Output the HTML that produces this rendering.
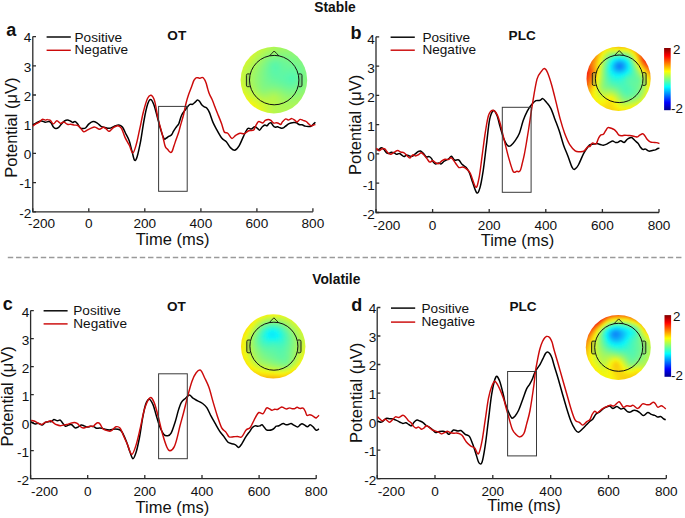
<!DOCTYPE html>
<html><head><meta charset="utf-8"><style>
html,body{margin:0;padding:0;background:#fff;width:685px;height:518px;overflow:hidden}
svg{display:block}
text{font-family:"Liberation Sans", sans-serif}
</style></head><body>
<svg width="685" height="518" viewBox="0 0 685 518">
<defs>
<linearGradient id="jet" x1="0" y1="1" x2="0" y2="0"><stop offset="0" stop-color="#00008f"/><stop offset="0.125" stop-color="#0000ff"/><stop offset="0.375" stop-color="#00ffff"/><stop offset="0.625" stop-color="#ffff00"/><stop offset="0.875" stop-color="#ff0000"/><stop offset="1" stop-color="#800000"/></linearGradient>
<filter id="tblur" x="-10%" y="-10%" width="120%" height="120%"><feGaussianBlur stdDeviation="1.2"/></filter>
<clipPath id="clip_a"><circle cx="273.9" cy="80.1" r="33.3"/></clipPath>
<clipPath id="clip_b"><circle cx="618.6" cy="78.8" r="32.1"/></clipPath>
<clipPath id="clip_c"><circle cx="273.2" cy="346.4" r="32.2"/></clipPath>
<clipPath id="clip_d"><circle cx="618.3" cy="347.4" r="32.5"/></clipPath>
</defs>
<rect width="685" height="518" fill="#fff"/>
<path d="M32.8 36.6 V211.8 H312.9" fill="none" stroke="#2b2b2b" stroke-width="1.3"/>
<path d="M32.8 211.8h3.2M32.8 182.6h3.2M32.8 153.4h3.2M32.8 124.2h3.2M32.8 95.0h3.2M32.8 65.8h3.2M32.8 36.6h3.2M32.8 211.8v-3.6M88.8 211.8v-3.6M144.8 211.8v-3.6M200.9 211.8v-3.6M256.9 211.8v-3.6M312.9 211.8v-3.6" fill="none" stroke="#2b2b2b" stroke-width="1.3"/>
<path d="M376.0 36.8 V212.5 H659.0" fill="none" stroke="#2b2b2b" stroke-width="1.3"/>
<path d="M376.0 212.5h3.2M376.0 183.2h3.2M376.0 153.9h3.2M376.0 124.6h3.2M376.0 95.4h3.2M376.0 66.1h3.2M376.0 36.8h3.2M376.0 212.5v-3.6M432.6 212.5v-3.6M489.2 212.5v-3.6M545.8 212.5v-3.6M602.4 212.5v-3.6M659.0 212.5v-3.6" fill="none" stroke="#2b2b2b" stroke-width="1.3"/>
<path d="M30.6 310.6 V478.7 H316.2" fill="none" stroke="#2b2b2b" stroke-width="1.3"/>
<path d="M30.6 478.7h3.2M30.6 450.7h3.2M30.6 422.7h3.2M30.6 394.6h3.2M30.6 366.6h3.2M30.6 338.6h3.2M30.6 310.6h3.2M30.6 478.7v-3.6M87.7 478.7v-3.6M144.8 478.7v-3.6M202.0 478.7v-3.6M259.1 478.7v-3.6M316.2 478.7v-3.6" fill="none" stroke="#2b2b2b" stroke-width="1.3"/>
<path d="M377.2 307.5 V478.6 H666.3" fill="none" stroke="#2b2b2b" stroke-width="1.3"/>
<path d="M377.2 478.6h3.2M377.2 450.1h3.2M377.2 421.6h3.2M377.2 393.1h3.2M377.2 364.5h3.2M377.2 336.0h3.2M377.2 307.5h3.2M377.2 478.6v-3.6M435.0 478.6v-3.6M492.8 478.6v-3.6M550.7 478.6v-3.6M608.5 478.6v-3.6M666.3 478.6v-3.6" fill="none" stroke="#2b2b2b" stroke-width="1.3"/>
<g fill="#111">
<text x="335.0" y="11.8" font-size="13.8" text-anchor="middle" font-weight="bold">Stable</text>
<text x="336.3" y="284.1" font-size="13.8" text-anchor="middle" font-weight="bold">Volatile</text>
<text x="6.2" y="36.0" font-size="18.0" font-weight="bold">a</text>
<text x="350.6" y="39.0" font-size="18.0" font-weight="bold">b</text>
<text x="2.8" y="310.0" font-size="18.0" font-weight="bold">c</text>
<text x="351.2" y="311.0" font-size="18.0" font-weight="bold">d</text>
<text x="176.8" y="40.0" font-size="13.6" text-anchor="middle" font-weight="bold">OT</text>
<text x="522.2" y="40.0" font-size="13.6" text-anchor="middle" font-weight="bold">PLC</text>
<text x="176.5" y="310.9" font-size="13.6" text-anchor="middle" font-weight="bold">OT</text>
<text x="523.0" y="310.8" font-size="13.6" text-anchor="middle" font-weight="bold">PLC</text>
<text x="74.5" y="41.8" font-size="13.6">Positive</text>
<text x="74.5" y="53.5" font-size="13.6">Negative</text>
<text x="422.4" y="42.0" font-size="13.6">Positive</text>
<text x="422.4" y="54.0" font-size="13.6">Negative</text>
<text x="73.3" y="315.1" font-size="13.6">Positive</text>
<text x="73.3" y="327.9" font-size="13.6">Negative</text>
<text x="421.5" y="313.4" font-size="13.6">Positive</text>
<text x="421.5" y="326.2" font-size="13.6">Negative</text>
<text x="31.4" y="217.5" font-size="13.6" text-anchor="end">-2</text>
<text x="31.4" y="188.3" font-size="13.6" text-anchor="end">-1</text>
<text x="31.4" y="159.1" font-size="13.6" text-anchor="end">0</text>
<text x="31.4" y="129.9" font-size="13.6" text-anchor="end">1</text>
<text x="31.4" y="100.7" font-size="13.6" text-anchor="end">2</text>
<text x="31.4" y="71.5" font-size="13.6" text-anchor="end">3</text>
<text x="31.4" y="42.3" font-size="13.6" text-anchor="end">4</text>
<text x="374.9" y="219.2" font-size="13.6" text-anchor="end">-2</text>
<text x="374.9" y="189.9" font-size="13.6" text-anchor="end">-1</text>
<text x="374.9" y="160.6" font-size="13.6" text-anchor="end">0</text>
<text x="374.9" y="131.3" font-size="13.6" text-anchor="end">1</text>
<text x="374.9" y="102.1" font-size="13.6" text-anchor="end">2</text>
<text x="374.9" y="72.8" font-size="13.6" text-anchor="end">3</text>
<text x="374.9" y="43.5" font-size="13.6" text-anchor="end">4</text>
<text x="29.2" y="484.9" font-size="13.6" text-anchor="end">-2</text>
<text x="29.2" y="456.9" font-size="13.6" text-anchor="end">-1</text>
<text x="29.2" y="428.9" font-size="13.6" text-anchor="end">0</text>
<text x="29.2" y="400.8" font-size="13.6" text-anchor="end">1</text>
<text x="29.2" y="372.8" font-size="13.6" text-anchor="end">2</text>
<text x="29.2" y="344.8" font-size="13.6" text-anchor="end">3</text>
<text x="29.2" y="316.8" font-size="13.6" text-anchor="end">4</text>
<text x="376.3" y="484.5" font-size="13.6" text-anchor="end">-2</text>
<text x="376.3" y="456.0" font-size="13.6" text-anchor="end">-1</text>
<text x="376.3" y="427.5" font-size="13.6" text-anchor="end">0</text>
<text x="376.3" y="398.9" font-size="13.6" text-anchor="end">1</text>
<text x="376.3" y="370.4" font-size="13.6" text-anchor="end">2</text>
<text x="376.3" y="341.9" font-size="13.6" text-anchor="end">3</text>
<text x="376.3" y="313.4" font-size="13.6" text-anchor="end">4</text>
<text x="41.5" y="228.3" font-size="13.6" text-anchor="middle">-200</text>
<text x="88.8" y="228.3" font-size="13.6" text-anchor="middle">0</text>
<text x="144.8" y="228.3" font-size="13.6" text-anchor="middle">200</text>
<text x="200.9" y="228.3" font-size="13.6" text-anchor="middle">400</text>
<text x="256.9" y="228.3" font-size="13.6" text-anchor="middle">600</text>
<text x="312.9" y="228.3" font-size="13.6" text-anchor="middle">800</text>
<text x="386.7" y="229.5" font-size="13.6" text-anchor="middle">-200</text>
<text x="432.6" y="229.5" font-size="13.6" text-anchor="middle">0</text>
<text x="489.2" y="229.5" font-size="13.6" text-anchor="middle">200</text>
<text x="545.8" y="229.5" font-size="13.6" text-anchor="middle">400</text>
<text x="602.4" y="229.5" font-size="13.6" text-anchor="middle">600</text>
<text x="659.0" y="229.5" font-size="13.6" text-anchor="middle">800</text>
<text x="44.5" y="495.5" font-size="13.6" text-anchor="middle">-200</text>
<text x="87.7" y="495.5" font-size="13.6" text-anchor="middle">0</text>
<text x="144.8" y="495.5" font-size="13.6" text-anchor="middle">200</text>
<text x="202.0" y="495.5" font-size="13.6" text-anchor="middle">400</text>
<text x="259.1" y="495.5" font-size="13.6" text-anchor="middle">600</text>
<text x="316.2" y="495.5" font-size="13.6" text-anchor="middle">800</text>
<text x="391.4" y="496.2" font-size="13.6" text-anchor="middle">-200</text>
<text x="435.0" y="496.2" font-size="13.6" text-anchor="middle">0</text>
<text x="492.8" y="496.2" font-size="13.6" text-anchor="middle">200</text>
<text x="550.7" y="496.2" font-size="13.6" text-anchor="middle">400</text>
<text x="608.5" y="496.2" font-size="13.6" text-anchor="middle">600</text>
<text x="666.3" y="496.2" font-size="13.6" text-anchor="middle">800</text>
<text x="172.6" y="245.1" font-size="16.5" text-anchor="middle">Time (ms)</text>
<text x="517.5" y="245.7" font-size="16.5" text-anchor="middle">Time (ms)</text>
<text x="172.4" y="512.6" font-size="16.5" text-anchor="middle">Time (ms)</text>
<text x="524.0" y="511.0" font-size="16.5" text-anchor="middle">Time (ms)</text>
<text transform="translate(16.6 177.8) rotate(-90)" font-size="16.5">Potential (&#956;V)</text>
<text transform="translate(361.3 175.0) rotate(-90)" font-size="16.5">Potential (&#956;V)</text>
<text transform="translate(13.4 446.6) rotate(-90)" font-size="16.5">Potential (&#956;V)</text>
<text transform="translate(361.8 443.0) rotate(-90)" font-size="16.5">Potential (&#956;V)</text>
<text x="672.9" y="54.3" font-size="13.4">2</text>
<text x="671.0" y="112.5" font-size="13.4">-2</text>
<text x="672.9" y="321.2" font-size="13.4">2</text>
<text x="671.0" y="379.5" font-size="13.4">-2</text>
</g>
<path d="M32.9 125.1C33.6 124.6 35.5 123.1 37.0 122.4C38.5 121.7 40.3 121.0 41.7 121.0C43.1 121.0 44.0 122.1 45.2 122.2C46.4 122.3 47.7 121.5 48.7 121.6C49.7 121.7 50.2 121.9 51.0 122.8C51.8 123.7 52.6 126.0 53.4 126.9C54.2 127.8 54.8 128.3 55.7 128.4C56.6 128.5 57.6 128.2 58.6 127.4C59.6 126.7 60.5 125.0 61.5 123.9C62.5 122.8 63.5 121.6 64.5 121.0C65.5 120.4 66.4 120.1 67.4 120.1C68.4 120.1 69.4 120.6 70.3 121.0C71.2 121.4 71.8 122.3 72.6 122.4C73.4 122.5 74.2 121.4 75.0 121.6C75.8 121.8 76.4 122.4 77.3 123.4C78.2 124.4 79.3 126.9 80.2 127.8C81.1 128.7 81.7 128.6 82.6 128.6C83.5 128.6 84.4 128.8 85.5 128.0C86.6 127.2 87.7 125.0 89.0 123.9C90.3 122.8 91.7 121.7 93.1 121.6C94.5 121.5 95.8 122.3 97.2 123.1C98.6 123.9 100.0 125.6 101.2 126.3C102.5 127.0 103.4 127.1 104.7 127.4C106.0 127.7 107.8 128.4 109.3 128.3C110.8 128.2 112.1 127.2 113.7 126.6C115.3 126.0 117.5 124.8 118.9 124.9C120.4 125.0 121.2 125.5 122.4 127.0C123.6 128.5 124.8 131.6 125.9 133.9C127.1 136.2 128.3 138.0 129.3 140.9C130.3 143.8 131.1 148.1 132.0 151.3C132.9 154.5 133.7 159.4 134.6 160.3C135.5 161.2 136.2 159.7 137.2 156.5C138.2 153.3 139.5 147.0 140.7 140.9C141.8 134.8 142.9 126.1 144.1 120.0C145.2 113.9 146.5 107.7 147.6 104.3C148.7 100.9 149.6 99.5 150.6 99.5C151.6 99.5 152.6 101.5 153.7 104.3C154.8 107.1 156.0 112.3 157.2 116.5C158.4 120.7 159.5 125.9 160.7 129.6C161.8 133.3 163.1 137.2 164.1 138.6C165.1 140.0 165.6 138.4 166.4 138.0C167.2 137.6 168.0 136.7 168.7 136.3C169.4 135.9 170.0 136.0 170.5 135.7C171.0 135.4 171.4 135.0 171.9 134.3C172.4 133.6 172.8 132.5 173.4 131.4C174.0 130.3 175.0 128.9 175.7 127.9C176.4 126.9 176.9 126.3 177.4 125.6C177.9 124.9 178.2 125.3 178.9 123.5C179.6 121.7 180.6 117.2 181.7 115.0C182.8 112.8 184.2 111.4 185.2 110.0C186.2 108.6 187.0 107.5 187.8 106.5C188.6 105.5 189.2 104.7 190.0 104.3C190.8 103.9 191.7 104.7 192.6 104.3C193.5 103.9 194.4 102.8 195.2 102.1C196.0 101.4 196.7 100.1 197.4 100.0C198.1 99.9 198.8 100.5 199.5 101.3C200.2 102.1 200.9 103.9 201.7 104.8C202.5 105.7 203.4 106.3 204.3 106.9C205.2 107.5 206.0 107.2 206.9 108.2C207.8 109.2 208.5 110.2 209.5 112.6C210.5 115.0 211.8 119.6 213.0 122.4C214.2 125.2 215.1 126.7 216.5 129.3C217.9 131.9 220.1 136.0 221.7 138.0C223.3 140.0 224.6 139.9 226.1 141.5C227.6 143.1 228.9 146.2 230.4 147.6C231.9 149.0 233.4 150.5 234.8 150.2C236.2 149.9 237.7 148.2 239.1 145.9C240.5 143.6 242.1 139.2 243.5 136.3C244.9 133.4 246.5 129.7 247.8 128.5C249.1 127.3 250.1 129.3 251.3 129.0C252.5 128.7 253.7 126.8 254.8 126.7C255.9 126.6 256.9 128.0 257.7 128.6C258.5 129.2 258.9 130.4 259.7 130.1C260.5 129.8 261.4 127.6 262.3 126.8C263.2 126.0 264.0 125.2 264.8 125.0C265.6 124.8 266.2 126.0 266.9 125.8C267.6 125.6 268.2 124.2 268.9 123.7C269.6 123.2 270.2 122.4 270.9 122.7C271.6 123.0 272.3 124.8 273.0 125.5C273.7 126.2 274.2 126.9 275.0 127.1C275.8 127.3 276.8 126.7 277.6 126.8C278.5 126.9 279.2 127.6 280.1 127.8C281.0 128.0 281.8 128.3 282.7 128.1C283.6 127.9 284.4 127.0 285.3 126.4C286.2 125.8 286.9 124.9 287.8 124.3C288.7 123.7 289.9 123.3 290.9 123.0C291.9 122.7 293.0 122.5 293.9 122.5C294.8 122.5 295.6 122.4 296.5 122.7C297.4 123.0 298.1 124.2 299.0 124.5C299.9 124.8 301.1 124.5 302.1 124.8C303.1 125.1 304.2 125.8 305.2 126.1C306.2 126.4 307.3 126.4 308.2 126.4C309.1 126.5 309.9 126.8 310.8 126.4C311.7 126.0 312.6 124.7 313.4 124.0C314.2 123.3 315.1 122.6 315.4 122.3" fill="none" stroke="#000" stroke-width="1.5" stroke-linejoin="round"/>
<path d="M32.9 125.9C33.4 125.6 34.7 124.5 35.8 123.9C36.9 123.3 38.2 123.0 39.3 122.2C40.4 121.4 41.3 119.7 42.3 119.3C43.3 118.9 44.3 120.0 45.2 120.1C46.1 120.1 46.6 119.5 47.5 119.6C48.4 119.6 49.4 119.7 50.4 120.4C51.4 121.1 52.3 123.8 53.4 123.9C54.5 124.0 55.7 120.9 56.9 120.8C58.1 120.7 59.2 123.2 60.4 123.4C61.6 123.6 62.7 121.8 63.9 122.0C65.1 122.2 66.2 123.9 67.4 124.3C68.6 124.7 69.7 124.2 70.9 124.3C72.1 124.4 73.2 124.9 74.4 125.1C75.6 125.3 76.7 124.8 77.9 125.5C79.1 126.2 80.4 128.1 81.4 129.2C82.4 130.2 82.7 131.7 83.7 131.8C84.7 132.0 86.0 130.7 87.2 130.1C88.4 129.5 89.4 128.9 90.7 128.4C92.0 127.9 93.3 127.0 94.8 127.1C96.3 127.2 98.0 129.2 99.5 129.2C101.0 129.2 102.3 127.1 103.6 127.2C104.9 127.3 106.1 129.1 107.1 129.8C108.0 130.5 108.2 131.7 109.3 131.3C110.4 130.9 112.2 128.2 113.7 127.3C115.2 126.4 116.7 125.5 118.0 125.7C119.3 125.9 120.3 126.4 121.5 128.3C122.7 130.2 123.7 134.6 125.0 137.4C126.3 140.2 128.0 142.6 129.3 145.2C130.6 147.8 131.6 153.2 132.8 153.0C134.0 152.8 135.1 148.4 136.3 144.3C137.5 140.2 138.6 134.0 139.8 128.7C141.0 123.3 142.0 117.3 143.3 112.2C144.6 107.1 146.3 101.1 147.6 98.3C148.9 95.5 149.9 94.9 151.1 95.3C152.3 95.7 153.4 97.1 154.6 100.9C155.8 104.7 156.8 113.0 158.0 118.3C159.2 123.6 160.9 129.0 161.8 132.5C162.7 136.0 163.0 137.5 163.5 139.5C164.0 141.5 164.3 143.3 164.7 144.7C165.1 146.0 165.3 146.8 165.8 147.6C166.3 148.4 167.0 148.6 167.6 149.3C168.2 150.0 168.8 151.1 169.3 151.6C169.8 152.1 170.3 152.6 170.8 152.5C171.3 152.4 171.7 152.2 172.2 151.1C172.7 150.0 173.3 147.8 174.0 145.8C174.7 143.8 175.5 141.1 176.3 138.9C177.1 136.7 177.9 134.6 178.6 132.5C179.3 130.4 179.5 129.1 180.3 126.2C181.1 123.3 182.5 118.9 183.5 115.0C184.5 111.1 185.2 106.5 186.1 103.0C187.0 99.5 187.8 96.9 188.7 94.3C189.6 91.7 190.4 89.7 191.3 87.4C192.2 85.1 193.1 82.0 193.9 80.4C194.7 78.8 195.4 78.2 196.1 77.8C196.8 77.4 197.5 77.7 198.2 77.8C198.8 77.9 199.3 78.4 200.0 78.3C200.7 78.2 201.5 77.3 202.2 77.4C202.9 77.5 203.7 78.2 204.3 79.1C205.0 80.0 205.5 81.3 206.1 83.0C206.7 84.7 207.2 87.2 207.8 89.1C208.4 91.0 208.8 92.6 209.5 94.3C210.2 96.0 211.2 97.5 212.1 99.5C213.0 101.5 213.8 103.8 214.8 106.5C215.8 109.2 217.2 112.5 218.3 115.4C219.5 118.3 220.7 121.3 221.7 124.1C222.7 126.9 223.3 130.5 224.3 132.0C225.3 133.5 226.6 132.1 227.8 133.2C229.1 134.3 230.5 138.0 231.8 138.4C233.1 138.8 234.3 136.2 235.7 135.4C237.1 134.6 238.6 133.6 240.0 133.3C241.4 133.0 242.9 134.1 244.3 133.7C245.8 133.3 247.1 131.3 248.7 130.7C250.2 130.1 252.4 130.9 253.6 130.1C254.8 129.3 254.8 127.5 255.6 126.1C256.4 124.7 257.4 122.4 258.2 121.7C259.0 121.0 259.4 121.8 260.2 122.0C261.0 122.2 261.9 123.3 262.8 123.0C263.7 122.7 264.4 121.0 265.3 120.4C266.2 119.8 267.5 119.4 268.4 119.4C269.3 119.4 270.0 119.8 270.9 120.4C271.8 121.0 272.6 122.6 273.5 123.0C274.4 123.4 275.8 122.7 276.6 122.7C277.5 122.8 277.9 123.0 278.6 123.3C279.3 123.6 280.0 124.8 280.7 124.5C281.4 124.2 281.8 122.4 282.7 121.5C283.6 120.6 284.9 119.2 285.8 118.9C286.7 118.6 287.3 120.0 288.3 119.9C289.3 119.9 290.8 118.5 291.9 118.6C293.0 118.7 294.1 119.8 295.0 120.4C295.9 121.0 296.1 122.2 297.0 122.0C297.9 121.8 299.1 119.7 300.1 119.4C301.1 119.1 302.1 120.1 303.1 120.4C304.1 120.8 305.2 120.9 306.2 121.5C307.1 122.1 307.9 123.2 308.8 124.0C309.7 124.8 310.5 125.9 311.3 126.1C312.1 126.3 312.7 125.3 313.4 125.0C314.1 124.7 315.1 124.6 315.4 124.5" fill="none" stroke="#cc0a0a" stroke-width="1.45" stroke-linejoin="round"/>
<path d="M376.7 149.9C377.1 149.8 378.2 149.7 379.0 149.3C379.8 149.0 380.5 147.8 381.3 147.8C382.1 147.8 382.8 148.5 383.7 149.3C384.6 150.1 385.7 152.1 386.6 152.8C387.5 153.5 388.1 153.5 388.9 153.4C389.7 153.3 390.4 152.3 391.3 152.2C392.2 152.1 393.3 152.5 394.2 152.8C395.1 153.2 395.6 154.2 396.5 154.3C397.4 154.4 398.5 153.3 399.4 153.4C400.3 153.5 401.0 154.6 401.8 155.1C402.6 155.6 403.3 156.6 404.1 156.6C404.9 156.6 405.6 155.2 406.5 155.1C407.4 155.0 408.4 155.7 409.4 155.9C410.4 156.1 411.3 156.6 412.3 156.3C413.3 156.0 414.2 154.7 415.2 153.9C416.2 153.1 417.2 152.1 418.1 151.6C419.0 151.1 419.6 150.7 420.5 151.0C421.4 151.3 422.4 152.4 423.4 153.4C424.4 154.4 425.3 156.4 426.3 156.9C427.3 157.4 428.3 156.3 429.2 156.6C430.1 156.9 430.9 157.7 431.6 158.6C432.3 159.5 432.6 161.2 433.3 162.1C434.0 163.0 434.7 163.8 435.6 163.9C436.5 164.0 437.7 162.9 438.6 162.9C439.5 162.9 440.0 164.3 440.9 164.1C441.8 163.9 442.8 162.2 443.8 161.5C444.8 160.8 445.8 160.3 446.7 159.8C447.6 159.3 448.3 159.2 449.1 158.6C449.9 158.0 450.5 156.0 451.4 156.2C452.3 156.4 453.3 159.4 454.5 160.0C455.7 160.6 457.6 159.3 458.8 160.0C460.1 160.7 460.8 163.1 462.0 164.3C463.2 165.6 465.0 166.1 466.2 167.5C467.4 168.9 468.3 170.3 469.4 172.8C470.5 175.3 471.4 179.0 472.6 182.3C473.8 185.7 475.6 192.0 476.8 192.9C478.0 193.8 478.9 191.3 480.0 187.6C481.1 183.9 482.1 177.7 483.2 170.6C484.3 163.5 485.3 153.7 486.4 145.2C487.5 136.7 488.4 125.5 489.6 119.7C490.8 113.9 492.2 111.3 493.4 110.6C494.6 109.9 495.9 112.8 497.0 115.5C498.1 118.2 499.1 123.4 500.2 127.1C501.3 130.8 502.2 134.6 503.4 137.7C504.6 140.8 506.4 144.3 507.6 145.6C508.8 146.9 509.6 146.4 510.8 145.6C512.0 144.8 513.6 142.9 515.0 140.9C516.4 138.9 517.9 136.9 519.3 133.5C520.7 130.1 521.9 124.3 523.2 120.5C524.6 116.7 526.0 113.6 527.4 110.9C528.8 108.2 530.3 106.3 531.7 104.6C533.1 102.9 534.5 101.4 535.9 100.7C537.3 100.0 539.0 100.7 540.2 100.3C541.4 99.9 541.9 98.2 542.9 98.6C543.9 98.9 545.2 100.8 546.5 102.4C547.8 104.0 549.4 105.6 550.8 108.4C552.2 111.2 553.6 115.6 555.0 119.4C556.4 123.2 557.9 126.8 559.3 131.1C560.7 135.3 562.1 140.8 563.5 144.9C564.9 149.0 566.3 151.8 567.7 155.5C569.1 159.2 570.8 164.9 572.0 167.2C573.2 169.5 573.6 169.7 574.7 169.3C575.8 168.9 576.9 167.7 578.4 165.0C579.9 162.3 582.1 156.4 583.7 153.4C585.3 150.4 586.9 148.4 587.9 147.0C588.9 145.6 589.1 145.2 590.0 144.7C590.9 144.2 592.4 144.3 593.5 144.1C594.6 143.9 595.8 143.5 596.9 143.6C598.0 143.7 599.3 144.2 600.4 144.5C601.5 144.8 602.2 145.4 603.3 145.3C604.4 145.2 605.7 144.6 606.8 144.1C607.9 143.6 608.7 142.9 609.7 142.4C610.7 141.9 611.6 141.0 612.6 141.0C613.6 141.0 614.6 142.2 615.5 142.4C616.4 142.6 616.9 142.7 617.8 142.4C618.7 142.1 619.7 140.7 620.7 140.7C621.8 140.7 623.1 142.8 624.1 142.6C625.1 142.4 626.1 140.3 627.0 139.5C627.9 138.7 628.6 138.3 629.4 138.0C630.2 137.7 630.8 137.1 631.7 137.5C632.6 137.9 633.6 139.3 634.6 140.3C635.6 141.3 637.0 142.2 638.0 143.3C639.0 144.4 639.5 146.0 640.3 147.0C641.1 148.0 641.8 149.1 642.7 149.4C643.6 149.8 644.6 148.8 645.6 149.1C646.6 149.4 647.9 150.9 649.0 151.1C650.1 151.3 651.4 150.7 652.5 150.5C653.6 150.3 654.5 150.2 655.4 149.9C656.3 149.6 657.0 148.8 657.7 148.5C658.4 148.2 659.1 148.2 659.4 148.2" fill="none" stroke="#000" stroke-width="1.5" stroke-linejoin="round"/>
<path d="M376.4 148.1C376.8 148.6 378.1 150.7 379.0 150.8C379.9 150.9 380.9 149.2 381.9 148.9C382.9 148.6 383.8 148.2 384.8 148.9C385.8 149.6 386.8 151.9 387.8 152.8C388.8 153.7 389.6 154.4 390.7 154.3C391.8 154.2 393.0 152.8 394.2 152.2C395.4 151.5 396.6 150.4 397.7 150.4C398.8 150.4 399.5 151.6 400.6 152.0C401.7 152.4 403.0 152.2 404.1 152.8C405.2 153.4 406.0 154.8 407.0 155.7C408.0 156.6 409.0 158.2 410.0 158.0C411.0 157.8 411.9 155.2 412.9 154.8C413.9 154.5 414.8 156.0 415.8 155.9C416.8 155.8 417.8 155.0 418.7 154.5C419.6 154.0 420.2 152.7 421.1 152.8C422.0 152.9 423.0 154.1 424.0 155.1C425.0 156.1 425.9 157.4 426.9 158.6C427.9 159.8 428.8 161.8 429.8 162.1C430.8 162.4 431.7 160.5 432.7 160.6C433.7 160.7 434.6 162.2 435.6 162.7C436.6 163.2 437.5 163.9 438.6 163.6C439.7 163.2 441.0 161.3 442.1 160.6C443.2 159.9 444.0 159.4 445.0 159.2C446.0 159.0 447.1 159.8 448.2 159.6C449.3 159.4 450.2 157.3 451.4 157.9C452.6 158.5 454.4 161.6 455.6 163.2C456.8 164.8 457.6 166.9 458.8 167.5C460.0 168.1 461.6 166.7 463.0 167.0C464.4 167.3 466.1 168.5 467.3 169.6C468.6 170.7 469.1 170.9 470.5 173.8C471.9 176.7 474.4 186.5 475.8 187.2C477.2 187.9 477.9 183.3 479.0 178.1C480.1 172.9 481.1 163.4 482.1 155.8C483.2 148.2 484.2 139.1 485.3 132.4C486.4 125.7 487.3 119.2 488.5 115.5C489.7 111.8 491.3 110.4 492.7 110.2C494.1 110.0 495.7 111.9 497.0 114.4C498.3 116.9 499.4 120.6 500.6 125.0C501.8 129.4 503.0 135.4 504.4 140.9C505.8 146.4 507.3 153.0 508.7 157.9C510.1 162.8 511.7 168.2 512.7 170.6C513.7 173.0 513.8 172.1 514.5 172.2C515.2 172.3 516.0 171.4 516.8 171.3C517.6 171.2 518.5 171.9 519.1 171.6C519.7 171.3 520.1 170.9 520.6 169.7C521.1 168.5 521.4 167.0 522.0 164.5C522.6 162.0 523.6 158.1 524.3 154.6C525.0 151.1 525.6 147.6 526.3 143.5C527.0 139.4 527.4 136.8 528.5 130.0C529.6 123.2 531.3 110.9 532.7 102.4C534.1 93.9 535.6 84.2 537.0 79.1C538.4 74.0 540.0 73.5 541.2 71.7C542.4 69.9 543.3 68.3 544.4 68.5C545.5 68.7 546.4 69.9 547.6 72.7C548.8 75.5 550.4 80.5 551.8 85.5C553.2 90.5 554.7 96.8 556.1 102.4C557.5 108.1 558.9 114.3 560.3 119.4C561.7 124.5 563.0 128.9 564.6 133.2C566.2 137.4 568.1 142.0 569.9 144.9C571.7 147.8 573.6 149.7 575.2 150.8C576.8 151.9 578.0 151.6 579.4 151.7C580.8 151.8 582.3 152.0 583.7 151.2C585.1 150.3 586.9 147.4 587.9 146.6C588.9 145.8 589.3 147.1 590.0 146.5C590.7 145.9 591.5 143.5 592.3 143.0C593.1 142.5 593.9 143.5 594.6 143.6C595.3 143.7 595.7 144.6 596.4 143.6C597.1 142.6 597.9 139.2 598.7 137.8C599.5 136.4 600.2 135.5 601.0 134.9C601.8 134.3 602.5 135.0 603.3 134.3C604.1 133.6 604.8 131.9 605.6 130.8C606.4 129.7 606.9 128.0 607.9 127.6C608.9 127.2 610.3 128.0 611.4 128.3C612.5 128.7 613.4 129.1 614.3 129.7C615.2 130.3 615.8 131.1 616.6 132.0C617.4 132.9 618.0 134.6 618.9 135.2C619.8 135.8 620.8 135.7 621.8 135.7C622.8 135.7 623.6 135.2 624.7 135.2C625.8 135.2 627.0 135.4 628.2 135.5C629.4 135.6 630.6 135.5 631.7 135.7C632.9 135.9 634.1 136.4 635.1 136.6C636.1 136.8 636.7 137.1 637.5 136.9C638.3 136.7 638.9 135.7 639.8 135.2C640.7 134.7 641.8 133.6 642.7 133.7C643.6 133.8 644.2 135.0 645.0 136.0C645.8 137.0 646.4 138.5 647.3 139.5C648.2 140.5 649.2 141.3 650.2 141.8C651.2 142.3 652.0 142.3 653.1 142.4C654.2 142.5 655.6 142.4 656.6 142.6C657.6 142.8 658.9 143.4 659.4 143.6" fill="none" stroke="#cc0a0a" stroke-width="1.45" stroke-linejoin="round"/>
<path d="M31.1 421.6C31.5 421.9 32.6 423.0 33.4 423.4C34.2 423.8 34.9 423.9 35.8 423.9C36.7 423.9 37.6 423.2 38.7 423.4C39.8 423.6 41.0 425.3 42.2 425.1C43.4 424.9 44.5 422.8 45.7 422.2C46.9 421.6 48.2 421.7 49.2 421.6C50.2 421.5 50.7 421.9 51.5 421.6C52.3 421.3 52.9 419.7 53.9 419.6C54.9 419.5 56.3 420.7 57.4 420.8C58.5 420.9 59.4 419.7 60.3 420.1C61.2 420.5 61.7 422.1 62.6 423.1C63.5 424.1 64.5 426.0 65.5 426.3C66.5 426.6 67.5 425.4 68.5 425.1C69.5 424.8 70.3 424.1 71.4 424.5C72.5 424.9 73.7 427.4 74.9 427.8C76.1 428.2 77.3 427.3 78.4 426.9C79.5 426.4 80.3 425.3 81.3 425.1C82.3 424.9 83.2 425.6 84.2 425.9C85.2 426.2 86.0 427.0 87.1 427.1C88.2 427.2 89.6 426.4 90.7 426.3C91.8 426.2 92.6 426.3 93.6 426.6C94.6 426.9 95.5 428.1 96.5 428.3C97.5 428.5 98.4 428.0 99.4 428.0C100.4 428.0 101.5 428.1 102.3 428.3C103.1 428.5 103.0 428.7 104.2 429.0C105.4 429.3 107.7 430.0 109.5 430.0C111.3 430.0 113.1 429.0 114.9 429.0C116.7 429.0 118.8 429.1 120.2 430.0C121.6 430.9 122.2 432.4 123.3 434.3C124.3 436.2 125.4 438.9 126.5 441.7C127.6 444.5 128.6 448.4 129.7 451.2C130.8 454.0 131.8 458.5 132.9 458.7C134.0 458.9 135.0 455.7 136.1 452.3C137.2 448.9 138.2 444.0 139.3 438.5C140.4 433.0 141.4 425.0 142.4 419.4C143.4 413.8 144.5 408.0 145.6 404.6C146.7 401.2 148.0 399.3 149.2 399.3C150.4 399.3 151.8 402.0 153.0 404.6C154.2 407.2 155.1 411.7 156.2 415.2C157.3 418.7 158.2 422.6 159.4 425.8C160.7 429.0 162.3 432.6 163.7 434.3C165.0 436.0 166.3 436.0 167.5 435.8C168.7 435.6 169.8 435.6 171.1 433.2C172.4 430.8 174.1 425.2 175.3 421.5C176.5 417.8 177.2 414.1 178.2 410.9C179.2 407.7 180.2 404.5 181.4 402.4C182.6 400.3 184.3 399.4 185.6 398.2C186.9 397.0 188.2 395.0 189.4 395.0C190.6 395.0 191.7 397.2 193.0 398.2C194.3 399.1 195.7 399.8 197.3 400.7C198.9 401.6 201.0 402.3 202.6 403.5C204.2 404.7 205.4 405.6 206.8 407.7C208.2 409.8 209.7 413.5 211.1 416.2C212.5 418.9 213.9 421.2 215.3 423.7C216.7 426.2 218.2 429.0 219.6 431.1C221.0 433.2 222.4 434.5 223.8 436.4C225.2 438.3 226.6 441.1 228.0 442.3C229.4 443.5 231.1 443.4 232.3 443.8C233.6 444.2 234.4 444.3 235.5 444.9C236.6 445.5 237.6 447.6 238.7 447.4C239.8 447.2 240.6 445.6 241.8 443.8C243.0 442.0 244.7 438.5 246.1 436.4C247.5 434.3 249.0 432.5 250.0 431.1C251.0 429.7 251.4 428.7 252.2 427.8C253.0 426.9 254.0 426.2 254.9 425.9C255.8 425.6 256.9 426.2 257.7 426.2C258.5 426.2 259.2 426.1 259.9 425.9C260.6 425.7 261.3 424.6 262.0 424.8C262.7 425.0 263.5 426.5 264.2 427.3C264.9 428.1 265.6 429.3 266.4 429.8C267.2 430.3 268.3 430.3 269.2 430.3C270.1 430.3 271.1 430.1 271.9 429.8C272.7 429.5 273.4 429.0 274.1 428.4C274.8 427.8 275.5 426.6 276.3 426.2C277.1 425.8 278.2 426.0 279.0 425.7C279.8 425.4 280.5 424.7 281.2 424.3C281.9 423.9 282.6 423.4 283.4 423.5C284.2 423.6 285.2 424.7 286.1 424.8C287.0 424.9 288.1 424.5 288.9 424.3C289.7 424.1 290.3 423.4 291.1 423.5C291.9 423.6 292.7 424.5 293.8 425.1C294.9 425.7 296.6 427.0 297.6 427.0C298.6 427.0 299.1 425.7 299.8 425.1C300.5 424.6 301.2 423.7 302.0 423.7C302.8 423.7 303.8 424.6 304.7 425.1C305.6 425.6 306.6 426.9 307.5 426.8C308.4 426.8 309.3 424.8 310.2 424.8C311.1 424.8 312.0 425.9 313.0 426.8C314.0 427.7 315.2 430.0 316.2 430.3C317.2 430.6 318.5 429.1 319.0 428.9" fill="none" stroke="#000" stroke-width="1.5" stroke-linejoin="round"/>
<path d="M31.1 420.4C31.6 420.5 32.9 420.6 34.0 421.0C35.1 421.4 36.2 422.2 37.5 422.8C38.8 423.4 40.3 424.6 41.6 424.5C42.9 424.4 44.0 422.9 45.1 422.4C46.2 421.9 47.0 421.9 48.0 421.6C49.0 421.3 49.9 420.6 50.9 420.8C51.9 421.1 52.9 422.4 53.9 423.1C54.9 423.8 55.7 424.4 56.8 424.8C57.9 425.2 59.2 425.6 60.3 425.7C61.4 425.8 62.1 425.3 63.2 425.1C64.3 424.9 65.5 424.8 66.7 424.5C67.9 424.2 68.9 423.8 70.2 423.4C71.5 423.0 73.1 422.4 74.3 422.4C75.5 422.4 76.2 422.8 77.2 423.4C78.2 424.0 79.1 425.5 80.1 426.3C81.1 427.1 82.0 427.9 83.1 428.0C84.2 428.1 85.4 427.4 86.6 427.1C87.8 426.8 89.0 426.4 90.1 426.3C91.2 426.2 92.1 426.6 93.0 426.3C93.9 426.0 94.5 424.9 95.3 424.3C96.1 423.7 96.9 422.9 97.7 422.8C98.5 422.7 99.2 423.0 100.0 423.9C100.8 424.8 101.5 427.0 102.3 428.0C103.1 429.0 103.3 429.3 104.7 429.8C106.1 430.3 108.7 431.6 110.6 431.1C112.5 430.6 114.3 427.3 115.9 426.8C117.5 426.3 119.0 426.9 120.2 428.3C121.4 429.7 122.1 432.5 123.3 435.3C124.5 438.1 126.2 441.7 127.6 444.9C129.0 448.1 130.4 454.4 131.8 454.4C133.2 454.4 134.7 449.3 136.1 444.9C137.5 440.5 138.9 433.9 140.3 427.9C141.7 421.9 143.0 413.8 144.6 408.8C146.2 403.8 148.3 398.9 149.9 397.8C151.5 396.7 152.7 399.1 154.1 402.4C155.5 405.6 157.0 412.0 158.4 417.3C159.8 422.6 161.2 429.4 162.6 434.3C164.0 439.2 165.6 444.2 166.8 447.0C168.0 449.8 168.8 450.9 170.0 450.8C171.2 450.7 173.1 449.0 174.3 446.6C175.6 444.2 176.6 439.9 177.5 436.4C178.4 432.9 179.0 429.7 180.0 425.8C181.0 421.9 182.2 417.9 183.5 413.0C184.8 408.1 186.3 401.4 187.7 396.1C189.1 390.8 190.6 385.1 192.0 381.2C193.4 377.3 194.8 374.5 196.2 372.7C197.6 370.9 199.1 369.3 200.5 370.2C201.9 371.1 203.3 375.1 204.7 378.0C206.1 380.9 207.6 383.5 209.0 387.6C210.4 391.7 211.8 397.6 213.2 402.4C214.6 407.2 216.0 411.9 217.4 416.2C218.8 420.4 220.3 425.2 221.7 427.9C223.1 430.5 224.7 430.6 225.9 432.1C227.1 433.6 227.8 436.0 229.1 436.8C230.3 437.6 232.0 436.9 233.4 436.8C234.8 436.7 236.2 436.4 237.6 436.4C239.0 436.4 240.4 437.9 241.8 436.8C243.2 435.7 244.7 431.5 246.1 430.0C247.5 428.5 248.9 429.0 250.0 427.8C251.1 426.6 251.8 424.6 252.7 422.9C253.6 421.2 254.5 419.1 255.5 417.4C256.5 415.7 257.5 413.1 258.8 412.5C260.1 411.9 261.8 414.3 263.1 413.6C264.4 412.9 265.4 408.9 266.4 408.1C267.4 407.3 268.3 408.3 269.2 408.7C270.1 409.1 271.0 410.2 271.9 410.3C272.8 410.4 273.7 409.3 274.6 409.2C275.5 409.1 276.6 409.7 277.4 409.5C278.2 409.3 278.9 408.5 279.6 408.1C280.3 407.7 281.1 407.0 281.8 407.0C282.5 407.0 283.1 407.6 283.9 407.9C284.7 408.2 285.8 409.0 286.7 409.0C287.6 409.0 288.5 407.9 289.4 407.9C290.3 407.8 291.4 408.6 292.2 408.7C293.0 408.8 293.5 408.9 294.3 408.7C295.1 408.5 296.2 407.4 297.1 407.3C298.0 407.2 298.8 408.3 299.8 408.4C300.8 408.5 302.2 407.6 303.1 408.1C304.0 408.6 304.7 410.2 305.3 411.4C305.9 412.6 306.2 414.8 306.9 415.3C307.6 415.9 308.9 414.7 309.7 414.7C310.5 414.7 311.2 414.9 311.9 415.3C312.6 415.7 313.4 416.4 314.1 416.9C314.8 417.3 315.4 418.3 316.2 418.0C317.0 417.7 318.5 415.8 319.0 415.3" fill="none" stroke="#cc0a0a" stroke-width="1.45" stroke-linejoin="round"/>
<path d="M377.6 421.0C378.0 421.2 379.4 422.1 380.2 422.2C381.0 422.3 381.5 422.2 382.5 421.6C383.5 421.0 384.8 419.0 386.0 418.5C387.2 418.0 388.3 418.6 389.5 418.7C390.7 418.8 391.8 418.6 393.0 418.9C394.2 419.2 395.3 419.8 396.5 420.4C397.7 420.9 398.9 421.7 400.0 422.2C401.1 422.7 401.9 423.3 402.9 423.4C403.9 423.5 404.9 422.6 405.9 422.8C406.9 423.0 407.8 424.0 408.8 424.5C409.8 425.0 410.8 426.1 411.7 425.7C412.6 425.3 413.1 423.1 414.0 422.2C414.9 421.3 416.0 420.3 417.0 420.1C418.0 419.9 418.8 420.6 419.9 421.0C421.0 421.4 422.4 422.1 423.4 422.8C424.4 423.5 424.7 424.4 425.7 425.1C426.7 425.8 428.0 426.3 429.2 427.1C430.4 427.9 431.6 428.9 432.7 429.8C433.8 430.7 434.5 432.2 435.6 432.5C436.7 432.8 437.9 431.7 439.2 431.5C440.5 431.3 441.9 431.1 443.2 431.3C444.4 431.5 445.7 432.0 446.7 432.5C447.7 433.0 448.1 434.7 449.2 434.3C450.3 433.9 452.1 430.5 453.5 430.0C454.9 429.5 456.5 431.0 457.7 431.1C458.9 431.2 459.6 430.0 460.9 430.5C462.1 431.0 463.8 433.3 465.2 434.3C466.6 435.3 468.2 434.8 469.4 436.4C470.6 438.0 471.5 441.0 472.6 443.8C473.7 446.6 474.7 450.2 475.8 453.4C476.9 456.6 477.9 461.5 479.0 462.9C480.1 464.3 481.1 464.9 482.1 461.9C483.2 458.9 484.2 452.0 485.3 444.9C486.4 437.8 487.4 427.9 488.5 419.4C489.6 410.9 490.5 401.1 491.7 394.0C492.9 386.9 494.6 379.1 495.9 377.0C497.2 374.9 498.4 378.2 499.7 381.2C500.9 384.2 502.5 391.5 503.4 395.0C504.3 398.5 504.2 399.6 505.0 402.4C505.8 405.2 507.3 409.3 508.4 411.9C509.5 414.5 510.7 417.3 511.8 418.0C512.9 418.7 514.0 417.1 515.1 415.9C516.2 414.6 517.2 413.2 518.5 410.5C519.8 407.8 521.2 403.3 522.6 399.7C524.0 396.1 525.4 391.4 526.6 388.9C527.8 386.3 528.6 386.2 529.6 384.4C530.6 382.6 531.8 380.3 532.7 378.2C533.6 376.1 534.2 373.7 535.0 372.0C535.8 370.3 536.5 369.5 537.4 368.2C538.2 366.9 539.2 365.9 540.1 364.3C541.0 362.8 541.9 360.7 542.8 358.9C543.7 357.1 544.7 354.6 545.5 353.5C546.3 352.4 546.7 352.0 547.4 352.0C548.1 352.0 548.9 352.5 549.7 353.5C550.5 354.5 551.3 356.1 552.0 358.0C552.7 359.9 553.0 361.5 554.0 365.0C555.0 368.5 556.8 374.0 558.2 378.8C559.6 383.6 561.0 388.8 562.4 393.7C563.8 398.6 565.3 403.9 566.7 408.5C568.1 413.1 569.5 417.7 570.9 421.2C572.3 424.7 574.0 427.8 575.2 429.7C576.5 431.6 577.2 432.5 578.4 432.3C579.6 432.1 581.2 430.0 582.6 428.7C584.0 427.4 585.6 425.6 586.8 424.4C588.0 423.1 589.0 422.1 590.0 421.2C591.0 420.3 591.9 420.1 592.9 418.9C593.9 417.7 594.8 415.3 595.8 414.2C596.8 413.1 597.8 413.1 598.8 412.4C599.8 411.7 600.7 410.9 601.7 410.1C602.7 409.3 603.6 408.4 604.6 407.8C605.6 407.2 606.6 406.9 607.5 406.6C608.4 406.3 609.0 405.7 609.9 406.0C610.8 406.3 611.6 408.3 612.8 408.4C614.0 408.5 615.5 406.5 616.9 406.6C618.2 406.7 619.7 408.6 620.9 408.9C622.1 409.2 622.8 407.9 623.9 408.4C625.0 408.8 626.3 411.0 627.4 411.6C628.5 412.2 629.3 412.3 630.3 412.1C631.3 411.9 632.1 410.7 633.2 410.5C634.3 410.3 635.5 410.3 636.7 410.7C637.9 411.1 639.0 412.2 640.2 413.0C641.4 413.8 642.4 415.7 643.7 415.6C645.0 415.5 646.5 412.6 647.8 412.4C649.1 412.2 650.1 413.9 651.3 414.4C652.5 414.9 653.7 414.9 654.8 415.4C655.9 415.8 656.7 416.9 657.7 417.1C658.7 417.3 659.8 416.3 660.7 416.5C661.6 416.7 662.2 417.8 663.0 418.3C663.8 418.9 665.2 419.6 665.7 419.8" fill="none" stroke="#000" stroke-width="1.5" stroke-linejoin="round"/>
<path d="M377.6 416.6C378.0 417.1 379.4 418.6 380.2 419.3C381.0 420.0 381.6 420.8 382.5 420.8C383.4 420.8 384.2 419.1 385.4 419.3C386.6 419.5 388.3 422.1 389.5 422.2C390.7 422.3 391.4 420.8 392.4 419.9C393.4 419.0 394.3 417.3 395.4 416.9C396.5 416.5 397.6 417.8 398.9 417.5C400.2 417.2 401.8 415.2 403.0 415.2C404.2 415.2 405.0 416.6 405.9 417.5C406.8 418.4 407.3 419.5 408.2 420.4C409.1 421.3 410.2 421.8 411.1 422.8C412.0 423.8 412.7 425.4 413.5 426.3C414.3 427.2 414.9 427.9 415.8 428.0C416.7 428.1 417.7 426.9 418.7 427.1C419.7 427.3 420.7 429.1 421.6 429.2C422.5 429.3 423.2 428.6 424.0 428.0C424.8 427.4 425.4 425.8 426.3 425.7C427.2 425.6 428.2 426.7 429.2 427.4C430.2 428.1 431.1 429.2 432.1 429.8C433.1 430.4 434.0 430.5 435.1 430.9C436.2 431.3 437.5 431.6 438.6 432.1C439.7 432.6 440.5 433.8 441.5 433.9C442.5 434.0 443.4 433.1 444.4 432.7C445.4 432.3 446.5 431.4 447.3 431.3C448.1 431.2 448.2 431.8 449.2 432.1C450.2 432.4 452.1 433.0 453.5 433.2C454.9 433.4 456.3 432.8 457.7 433.2C459.1 433.6 460.6 433.9 462.0 435.3C463.4 436.7 464.8 439.9 466.2 441.7C467.6 443.5 469.1 444.8 470.5 445.9C471.9 447.0 473.4 446.8 474.7 448.1C476.0 449.4 477.3 455.1 478.5 453.8C479.7 452.6 481.0 446.3 482.1 440.6C483.2 434.9 484.2 426.5 485.3 419.4C486.4 412.3 487.4 403.7 488.5 398.2C489.6 392.7 490.6 389.3 491.7 386.5C492.8 383.7 493.7 381.0 494.9 381.2C496.1 381.4 497.7 384.8 499.1 387.6C500.5 390.4 502.4 395.5 503.4 398.2C504.4 400.9 504.1 400.4 505.0 403.8C505.9 407.2 507.9 414.3 509.1 418.6C510.3 422.9 511.3 426.9 512.4 429.5C513.5 432.1 514.5 433.0 515.8 434.2C517.0 435.4 518.5 437.0 519.9 436.9C521.2 436.8 522.8 435.6 523.9 433.5C525.0 431.4 525.6 427.9 526.6 424.1C527.6 420.3 528.8 417.0 530.0 410.5C531.2 404.0 533.0 391.5 533.9 385.0C534.8 378.5 534.8 376.0 535.4 371.6C536.0 367.2 537.0 362.6 537.7 358.9C538.4 355.2 539.0 352.1 539.8 349.2C540.6 346.3 541.6 343.4 542.5 341.5C543.4 339.6 544.2 338.4 545.0 337.5C545.8 336.6 546.5 336.1 547.3 336.2C548.1 336.2 549.0 336.8 549.8 337.8C550.6 338.8 551.3 340.1 552.0 342.0C552.7 343.9 552.9 345.6 553.9 349.3C554.9 353.0 556.8 359.1 558.2 364.0C559.6 368.9 561.0 373.9 562.4 378.8C563.8 383.8 565.3 388.8 566.7 393.7C568.1 398.6 569.5 404.1 570.9 408.5C572.3 412.9 573.8 417.9 575.2 420.2C576.6 422.5 578.2 421.5 579.4 422.3C580.6 423.1 581.4 425.2 582.6 425.1C583.8 425.0 585.6 422.6 586.8 421.7C588.0 420.8 589.1 420.8 590.0 419.5C590.9 418.2 591.5 415.6 592.3 414.2C593.1 412.8 593.8 411.5 594.7 411.3C595.6 411.1 596.5 413.1 597.6 412.8C598.7 412.6 600.0 410.6 601.1 409.8C602.2 409.0 603.0 408.3 604.0 407.8C605.0 407.3 605.8 407.1 606.9 406.6C608.0 406.2 609.2 405.2 610.4 405.1C611.6 405.0 612.5 406.5 613.9 406.0C615.3 405.5 617.4 402.3 618.6 401.9C619.8 401.5 620.1 402.8 620.9 403.7C621.7 404.6 622.3 406.8 623.3 407.2C624.3 407.6 625.6 405.9 626.8 405.8C628.0 405.7 629.2 406.4 630.3 406.3C631.4 406.2 631.9 405.0 633.2 405.4C634.5 405.8 636.3 408.6 637.9 408.4C639.5 408.1 641.2 404.5 642.6 403.9C644.0 403.3 644.9 404.5 646.1 404.6C647.3 404.7 648.4 405.0 649.6 404.6C650.8 404.2 652.1 402.5 653.1 402.3C654.1 402.1 654.6 402.9 655.4 403.7C656.2 404.5 656.7 406.8 657.7 407.2C658.7 407.6 660.2 405.8 661.2 405.8C662.2 405.8 662.9 406.5 663.6 407.0C664.4 407.5 665.4 408.6 665.7 408.9" fill="none" stroke="#cc0a0a" stroke-width="1.45" stroke-linejoin="round"/>
<g clip-path="url(#clip_a)"><g filter="url(#tblur)">
<path fill="#c8f73b" d="M265 43h2v2h-2zM241 75h2v2h-2zM241 77h2v2h-2zM243 85h2v2h-2zM261 101h2v2h-2z"/>
<path fill="#c4f73f" d="M267 43h2v2h-2zM259 49h2v2h-2zM257 51h2v2h-2zM249 61h2v2h-2zM253 95h2v2h-2zM267 105h2v2h-2z"/>
<path fill="#c1f743" d="M269 43h2v2h-2z"/>
<path fill="#bdf746" d="M271 43h2v2h-2zM259 51h2v2h-2zM251 61h2v2h-2zM245 83h2v2h-2zM247 87h2v2h-2zM255 95h2v2h-2zM267 101h2v2h-2zM271 111h2v2h-2z"/>
<path fill="#baf749" d="M273 43h2v2h-2zM269 45h2v2h-2zM245 73h2v2h-2zM251 91h2v2h-2zM259 97h2v2h-2zM271 101h2v2h-2z"/>
<path fill="#b7f74c" d="M275 43h2v2h-2zM261 51h2v2h-2zM251 63h2v2h-2zM273 99h2v2h-2zM273 105h2v2h-2zM273 107h2v2h-2zM279 115h2v2h-2zM281 115h2v2h-2z"/>
<path fill="#b4f74f" d="M277 43h2v2h-2zM275 99h2v2h-2zM275 105h2v2h-2zM275 107h2v2h-2zM281 113h2v2h-2zM283 113h2v2h-2zM285 113h2v2h-2zM287 113h2v2h-2z"/>
<path fill="#b1f752" d="M279 43h2v2h-2zM263 51h2v2h-2zM257 57h2v2h-2zM249 69h2v2h-2zM247 77h2v2h-2zM249 85h2v2h-2zM265 97h2v2h-2zM275 97h2v2h-2zM279 109h2v2h-2zM293 109h2v2h-2z"/>
<path fill="#aff754" d="M281 43h2v2h-2zM271 47h2v2h-2zM261 53h2v2h-2zM259 95h2v2h-2zM279 103h2v2h-2zM281 107h2v2h-2zM295 107h2v2h-2z"/>
<path fill="#d0f733" d="M259 45h2v2h-2zM257 47h2v2h-2zM247 59h2v2h-2zM241 67h2v2h-2zM239 73h2v2h-2zM239 75h2v2h-2zM239 77h2v2h-2zM241 85h2v2h-2z"/>
<path fill="#cbf738" d="M261 45h2v2h-2zM255 51h2v2h-2zM245 89h2v2h-2zM251 95h2v2h-2zM257 99h2v2h-2z"/>
<path fill="#c6f73d" d="M263 45h2v2h-2zM243 69h2v2h-2zM267 107h2v2h-2z"/>
<path fill="#c2f741" d="M265 45h2v2h-2zM249 91h2v2h-2zM251 93h2v2h-2z"/>
<path fill="#bef745" d="M267 45h2v2h-2zM261 49h2v2h-2zM257 53h2v2h-2zM249 63h2v2h-2zM269 103h2v2h-2zM273 115h2v2h-2z"/>
<path fill="#b6f74d" d="M271 45h2v2h-2zM267 47h2v2h-2zM247 83h2v2h-2zM273 109h2v2h-2zM277 113h2v2h-2zM283 115h2v2h-2z"/>
<path fill="#b3f750" d="M273 45h2v2h-2zM265 49h2v2h-2zM255 59h2v2h-2zM247 73h2v2h-2zM247 81h2v2h-2zM251 89h2v2h-2zM255 93h2v2h-2zM269 97h2v2h-2zM277 111h2v2h-2zM291 111h2v2h-2z"/>
<path fill="#b0f753" d="M275 45h2v2h-2zM259 55h2v2h-2zM253 63h2v2h-2zM277 99h2v2h-2zM279 105h2v2h-2zM279 107h2v2h-2zM297 107h2v2h-2zM281 109h2v2h-2zM283 109h2v2h-2zM287 109h2v2h-2zM289 109h2v2h-2z"/>
<path fill="#adf756" d="M277 45h2v2h-2zM255 61h2v2h-2zM297 105h2v2h-2zM285 107h2v2h-2zM287 107h2v2h-2zM289 107h2v2h-2z"/>
<path fill="#aaf759" d="M279 45h2v2h-2zM269 49h2v2h-2zM251 69h2v2h-2zM249 75h2v2h-2zM249 77h2v2h-2zM249 79h2v2h-2zM255 91h2v2h-2zM281 101h2v2h-2zM283 103h2v2h-2zM297 103h2v2h-2zM299 103h2v2h-2zM287 105h2v2h-2zM289 105h2v2h-2z"/>
<path fill="#a8f75b" d="M281 45h2v2h-2zM261 55h2v2h-2zM255 63h2v2h-2zM263 95h2v2h-2zM265 95h2v2h-2zM303 101h2v2h-2zM285 103h2v2h-2zM293 103h2v2h-2z"/>
<path fill="#a6f75d" d="M283 45h2v2h-2zM277 47h2v2h-2zM267 51h2v2h-2zM253 67h2v2h-2zM251 83h2v2h-2zM277 95h2v2h-2zM281 99h2v2h-2zM299 101h2v2h-2z"/>
<path fill="#a5f75e" d="M285 45h2v2h-2zM257 61h2v2h-2zM251 73h2v2h-2zM253 87h2v2h-2zM297 101h2v2h-2z"/>
<path fill="#a4f75f" d="M287 45h2v2h-2zM273 49h2v2h-2zM251 81h2v2h-2zM259 93h2v2h-2zM273 93h2v2h-2zM303 99h2v2h-2zM285 101h2v2h-2zM295 101h2v2h-2z"/>
<path fill="#d6f72d" d="M255 47h2v2h-2zM245 59h2v2h-2zM259 103h2v2h-2zM263 109h2v2h-2zM265 115h2v2h-2z"/>
<path fill="#caf739" d="M259 47h2v2h-2zM257 49h2v2h-2zM249 59h2v2h-2zM247 61h2v2h-2zM241 71h2v2h-2zM241 81h2v2h-2zM249 93h2v2h-2zM263 103h2v2h-2zM267 111h2v2h-2z"/>
<path fill="#c5f73e" d="M261 47h2v2h-2zM255 53h2v2h-2zM247 63h2v2h-2zM243 83h2v2h-2zM245 87h2v2h-2zM259 99h2v2h-2zM265 103h2v2h-2z"/>
<path fill="#c0f744" d="M263 47h2v2h-2zM271 113h2v2h-2z"/>
<path fill="#bbf748" d="M265 47h2v2h-2zM253 59h2v2h-2zM245 81h2v2h-2zM249 89h2v2h-2zM271 103h2v2h-2zM271 105h2v2h-2zM271 107h2v2h-2zM271 109h2v2h-2zM273 113h2v2h-2zM275 115h2v2h-2z"/>
<path fill="#b2f751" d="M269 47h2v2h-2zM251 65h2v2h-2zM247 75h2v2h-2zM247 79h2v2h-2zM253 91h2v2h-2zM263 97h2v2h-2zM267 97h2v2h-2zM277 103h2v2h-2zM277 105h2v2h-2zM277 107h2v2h-2zM277 109h2v2h-2zM295 109h2v2h-2zM279 111h2v2h-2zM281 111h2v2h-2zM283 111h2v2h-2zM285 111h2v2h-2zM287 111h2v2h-2zM289 111h2v2h-2z"/>
<path fill="#acf757" d="M273 47h2v2h-2zM249 73h2v2h-2zM249 81h2v2h-2zM277 97h2v2h-2zM281 103h2v2h-2zM283 105h2v2h-2zM295 105h2v2h-2z"/>
<path fill="#a9f75a" d="M275 47h2v2h-2zM263 53h2v2h-2zM259 57h2v2h-2zM251 85h2v2h-2zM267 95h2v2h-2zM295 103h2v2h-2z"/>
<path fill="#a3f760" d="M279 47h2v2h-2zM255 65h2v2h-2zM251 75h2v2h-2zM251 77h2v2h-2zM251 79h2v2h-2zM255 89h2v2h-2zM271 93h2v2h-2zM301 99h2v2h-2zM293 101h2v2h-2z"/>
<path fill="#a1f762" d="M281 47h2v2h-2zM275 49h2v2h-2zM253 85h2v2h-2zM269 93h2v2h-2zM281 97h2v2h-2zM299 99h2v2h-2z"/>
<path fill="#9ff764" d="M283 47h2v2h-2zM257 63h2v2h-2zM261 93h2v2h-2zM267 93h2v2h-2zM285 99h2v2h-2z"/>
<path fill="#9ef765" d="M285 47h2v2h-2zM277 49h2v2h-2zM271 51h2v2h-2zM255 67h2v2h-2zM253 83h2v2h-2zM305 95h2v2h-2zM301 97h2v2h-2z"/>
<path fill="#9df766" d="M287 47h2v2h-2zM289 47h2v2h-2zM291 47h2v2h-2zM267 53h2v2h-2zM253 73h2v2h-2zM255 87h2v2h-2zM263 93h2v2h-2zM265 93h2v2h-2zM277 93h2v2h-2zM307 93h2v2h-2zM283 97h2v2h-2zM287 99h2v2h-2zM293 99h2v2h-2z"/>
<path fill="#ddf726" d="M251 49h2v2h-2zM257 103h2v2h-2zM261 109h2v2h-2z"/>
<path fill="#d7f72c" d="M253 49h2v2h-2zM239 67h2v2h-2zM237 75h2v2h-2zM237 77h2v2h-2z"/>
<path fill="#d1f733" d="M255 49h2v2h-2z"/>
<path fill="#b8f74b" d="M263 49h2v2h-2zM247 69h2v2h-2zM267 99h2v2h-2zM269 99h2v2h-2zM271 99h2v2h-2zM273 101h2v2h-2zM273 103h2v2h-2zM273 111h2v2h-2z"/>
<path fill="#aef755" d="M267 49h2v2h-2zM251 67h2v2h-2zM249 71h2v2h-2zM249 83h2v2h-2zM273 95h2v2h-2zM281 105h2v2h-2zM299 105h2v2h-2zM283 107h2v2h-2zM291 107h2v2h-2z"/>
<path fill="#a7f75c" d="M271 49h2v2h-2zM251 71h2v2h-2zM301 101h2v2h-2zM287 103h2v2h-2zM291 103h2v2h-2z"/>
<path fill="#9bf768" d="M279 49h2v2h-2zM273 51h2v2h-2zM255 69h2v2h-2zM253 77h2v2h-2zM257 89h2v2h-2zM259 91h2v2h-2zM281 95h2v2h-2zM303 95h2v2h-2z"/>
<path fill="#9af769" d="M281 49h2v2h-2zM257 65h2v2h-2zM297 97h2v2h-2z"/>
<path fill="#98f76b" d="M283 49h2v2h-2zM275 51h2v2h-2zM269 53h2v2h-2zM263 57h2v2h-2zM255 71h2v2h-2zM271 91h2v2h-2zM273 91h2v2h-2zM279 93h2v2h-2zM301 95h2v2h-2zM295 97h2v2h-2z"/>
<path fill="#98f76c" d="M285 49h2v2h-2z"/>
<path fill="#97f76c" d="M287 49h2v2h-2zM289 49h2v2h-2zM291 49h2v2h-2zM293 49h2v2h-2zM255 83h2v2h-2zM309 87h2v2h-2zM269 91h2v2h-2zM287 97h2v2h-2zM293 97h2v2h-2z"/>
<path fill="#def725" d="M249 51h2v2h-2zM251 99h2v2h-2zM263 115h2v2h-2z"/>
<path fill="#d8f72b" d="M251 51h2v2h-2zM241 63h2v2h-2zM237 73h2v2h-2zM237 79h2v2h-2zM239 85h2v2h-2zM243 91h2v2h-2zM245 93h2v2h-2zM253 99h2v2h-2z"/>
<path fill="#d2f732" d="M253 51h2v2h-2z"/>
<path fill="#abf758" d="M265 51h2v2h-2zM257 59h2v2h-2zM253 65h2v2h-2zM253 89h2v2h-2zM257 93h2v2h-2zM269 95h2v2h-2zM275 95h2v2h-2zM279 99h2v2h-2zM301 103h2v2h-2zM285 105h2v2h-2zM291 105h2v2h-2z"/>
<path fill="#a2f761" d="M269 51h2v2h-2zM265 53h2v2h-2zM259 59h2v2h-2zM253 69h2v2h-2zM257 91h2v2h-2zM305 97h2v2h-2zM283 99h2v2h-2zM289 101h2v2h-2zM291 101h2v2h-2z"/>
<path fill="#95f76e" d="M277 51h2v2h-2zM255 75h2v2h-2zM255 81h2v2h-2zM309 85h2v2h-2zM257 87h2v2h-2zM261 91h2v2h-2zM267 91h2v2h-2z"/>
<path fill="#93f770" d="M279 51h2v2h-2zM295 51h2v2h-2zM267 55h2v2h-2zM261 61h2v2h-2zM257 69h2v2h-2zM309 83h2v2h-2zM307 87h2v2h-2zM259 89h2v2h-2zM265 91h2v2h-2zM277 91h2v2h-2zM281 93h2v2h-2zM301 93h2v2h-2zM297 95h2v2h-2z"/>
<path fill="#92f771" d="M281 51h2v2h-2zM293 51h2v2h-2zM259 65h2v2h-2zM257 85h2v2h-2zM305 89h2v2h-2zM263 91h2v2h-2zM285 95h2v2h-2z"/>
<path fill="#91f772" d="M283 51h2v2h-2zM285 51h2v2h-2zM289 51h2v2h-2zM291 51h2v2h-2zM273 53h2v2h-2zM299 53h2v2h-2zM263 59h2v2h-2zM307 85h2v2h-2zM295 95h2v2h-2z"/>
<path fill="#91f773" d="M287 51h2v2h-2zM265 57h2v2h-2zM257 71h2v2h-2z"/>
<path fill="#94f76f" d="M297 51h2v2h-2zM271 53h2v2h-2zM255 77h2v2h-2zM255 79h2v2h-2z"/>
<path fill="#dff724" d="M247 53h2v2h-2zM237 85h2v2h-2zM241 91h2v2h-2zM245 95h2v2h-2z"/>
<path fill="#d9f72a" d="M249 53h2v2h-2zM237 71h2v2h-2zM241 89h2v2h-2zM247 95h2v2h-2z"/>
<path fill="#d3f730" d="M251 53h2v2h-2zM263 107h2v2h-2z"/>
<path fill="#ccf737" d="M253 53h2v2h-2zM265 107h2v2h-2zM267 113h2v2h-2z"/>
<path fill="#b7f74d" d="M259 53h2v2h-2z"/>
<path fill="#8ef775" d="M275 53h2v2h-2zM295 53h2v2h-2zM269 55h2v2h-2zM259 67h2v2h-2zM257 75h2v2h-2zM309 77h2v2h-2zM257 81h2v2h-2zM259 87h2v2h-2zM305 87h2v2h-2zM283 93h2v2h-2zM289 95h2v2h-2zM291 95h2v2h-2z"/>
<path fill="#8cf777" d="M277 53h2v2h-2zM291 53h2v2h-2zM309 71h2v2h-2zM309 73h2v2h-2zM269 89h2v2h-2z"/>
<path fill="#8af779" d="M279 53h2v2h-2zM281 53h2v2h-2zM285 53h2v2h-2zM287 53h2v2h-2zM303 59h2v2h-2zM263 61h2v2h-2zM305 61h2v2h-2zM263 89h2v2h-2zM265 89h2v2h-2zM281 91h2v2h-2zM285 93h2v2h-2zM295 93h2v2h-2z"/>
<path fill="#89f77a" d="M283 53h2v2h-2zM271 55h2v2h-2zM295 55h2v2h-2zM267 57h2v2h-2zM261 65h2v2h-2zM307 65h2v2h-2zM259 71h2v2h-2zM259 83h2v2h-2zM305 83h2v2h-2zM303 87h2v2h-2zM277 89h2v2h-2zM299 91h2v2h-2z"/>
<path fill="#8bf778" d="M289 53h2v2h-2zM297 55h2v2h-2zM301 57h2v2h-2zM259 69h2v2h-2zM307 79h2v2h-2zM259 85h2v2h-2zM305 85h2v2h-2zM267 89h2v2h-2zM275 89h2v2h-2z"/>
<path fill="#8df776" d="M293 53h2v2h-2zM261 63h2v2h-2zM309 75h2v2h-2zM257 77h2v2h-2zM307 81h2v2h-2zM261 89h2v2h-2zM271 89h2v2h-2zM273 89h2v2h-2zM303 89h2v2h-2zM301 91h2v2h-2z"/>
<path fill="#8ff774" d="M297 53h2v2h-2zM301 55h2v2h-2zM257 73h2v2h-2zM257 83h2v2h-2zM279 91h2v2h-2zM287 95h2v2h-2zM293 95h2v2h-2z"/>
<path fill="#e0f724" d="M245 55h2v2h-2z"/>
<path fill="#daf729" d="M247 55h2v2h-2zM239 65h2v2h-2zM237 81h2v2h-2zM261 107h2v2h-2z"/>
<path fill="#d4f72f" d="M249 55h2v2h-2zM241 65h2v2h-2zM239 69h2v2h-2zM241 87h2v2h-2zM265 113h2v2h-2z"/>
<path fill="#cef735" d="M251 55h2v2h-2zM253 97h2v2h-2zM259 101h2v2h-2zM265 109h2v2h-2z"/>
<path fill="#c7f73c" d="M253 55h2v2h-2zM245 65h2v2h-2zM255 97h2v2h-2z"/>
<path fill="#bff744" d="M255 55h2v2h-2zM245 69h2v2h-2zM261 99h2v2h-2zM269 105h2v2h-2z"/>
<path fill="#b8f74c" d="M257 55h2v2h-2zM275 113h2v2h-2z"/>
<path fill="#a0f763" d="M263 55h2v2h-2zM261 57h2v2h-2zM279 95h2v2h-2zM303 97h2v2h-2zM297 99h2v2h-2z"/>
<path fill="#99f76a" d="M265 55h2v2h-2zM261 59h2v2h-2zM255 85h2v2h-2zM307 91h2v2h-2zM285 97h2v2h-2z"/>
<path fill="#86f77d" d="M273 55h2v2h-2zM291 55h2v2h-2zM297 57h2v2h-2zM303 61h2v2h-2zM261 67h2v2h-2zM305 79h2v2h-2zM303 85h2v2h-2zM297 91h2v2h-2zM289 93h2v2h-2z"/>
<path fill="#83f780" d="M275 55h2v2h-2zM285 55h2v2h-2zM269 57h2v2h-2zM301 61h2v2h-2zM303 63h2v2h-2zM305 67h2v2h-2zM261 69h2v2h-2zM261 83h2v2h-2zM303 83h2v2h-2zM265 87h2v2h-2zM267 87h2v2h-2zM269 87h2v2h-2zM271 87h2v2h-2z"/>
<path fill="#82f781" d="M277 55h2v2h-2zM283 55h2v2h-2zM293 57h2v2h-2zM297 59h2v2h-2zM305 69h2v2h-2zM305 75h2v2h-2zM273 87h2v2h-2zM285 91h2v2h-2z"/>
<path fill="#81f782" d="M279 55h2v2h-2zM281 55h2v2h-2zM291 57h2v2h-2zM265 61h2v2h-2zM303 65h2v2h-2zM261 71h2v2h-2zM305 71h2v2h-2zM305 73h2v2h-2zM261 81h2v2h-2zM303 81h2v2h-2zM263 85h2v2h-2zM275 87h2v2h-2zM281 89h2v2h-2z"/>
<path fill="#84f77f" d="M287 55h2v2h-2zM295 57h2v2h-2zM299 59h2v2h-2zM263 63h2v2h-2zM305 77h2v2h-2z"/>
<path fill="#85f77e" d="M289 55h2v2h-2zM305 65h2v2h-2zM261 85h2v2h-2zM263 87h2v2h-2zM279 89h2v2h-2zM283 91h2v2h-2z"/>
<path fill="#88f77c" d="M293 55h2v2h-2zM259 81h2v2h-2z"/>
<path fill="#8df777" d="M299 55h2v2h-2zM297 93h2v2h-2z"/>
<path fill="#e0f723" d="M243 57h2v2h-2zM239 89h2v2h-2zM261 111h2v2h-2z"/>
<path fill="#dbf728" d="M245 57h2v2h-2zM243 59h2v2h-2zM237 69h2v2h-2zM249 97h2v2h-2zM263 113h2v2h-2z"/>
<path fill="#d5f72e" d="M247 57h2v2h-2zM239 83h2v2h-2zM251 97h2v2h-2zM257 101h2v2h-2zM261 105h2v2h-2z"/>
<path fill="#cff734" d="M249 57h2v2h-2zM261 103h2v2h-2zM263 105h2v2h-2zM267 115h2v2h-2z"/>
<path fill="#c9f73a" d="M251 57h2v2h-2zM243 67h2v2h-2zM241 73h2v2h-2zM241 79h2v2h-2zM265 105h2v2h-2zM269 115h2v2h-2z"/>
<path fill="#c1f742" d="M253 57h2v2h-2zM243 73h2v2h-2zM243 79h2v2h-2zM245 85h2v2h-2zM267 103h2v2h-2zM269 109h2v2h-2z"/>
<path fill="#b9f74a" d="M255 57h2v2h-2zM249 65h2v2h-2zM245 75h2v2h-2zM245 77h2v2h-2zM245 79h2v2h-2zM247 85h2v2h-2zM265 99h2v2h-2zM277 115h2v2h-2z"/>
<path fill="#7ef785" d="M271 57h2v2h-2zM287 57h2v2h-2zM303 67h2v2h-2zM263 83h2v2h-2zM265 85h2v2h-2zM299 87h2v2h-2zM289 91h2v2h-2z"/>
<path fill="#7bf788" d="M273 57h2v2h-2zM283 57h2v2h-2zM295 61h2v2h-2zM265 63h2v2h-2zM263 69h2v2h-2zM303 71h2v2h-2zM303 73h2v2h-2zM303 75h2v2h-2zM295 89h2v2h-2z"/>
<path fill="#79f78a" d="M275 57h2v2h-2zM269 59h2v2h-2zM293 61h2v2h-2zM297 63h2v2h-2zM263 73h2v2h-2zM263 75h2v2h-2zM263 77h2v2h-2zM301 81h2v2h-2zM273 85h2v2h-2zM299 85h2v2h-2zM297 87h2v2h-2z"/>
<path fill="#78f78b" d="M277 57h2v2h-2zM279 57h2v2h-2zM287 59h2v2h-2zM267 61h2v2h-2zM299 65h2v2h-2zM267 83h2v2h-2zM275 85h2v2h-2zM281 87h2v2h-2zM293 89h2v2h-2z"/>
<path fill="#7af78a" d="M281 57h2v2h-2zM301 67h2v2h-2z"/>
<path fill="#7cf787" d="M285 57h2v2h-2zM291 59h2v2h-2zM299 63h2v2h-2zM301 65h2v2h-2zM263 81h2v2h-2zM301 83h2v2h-2zM269 85h2v2h-2z"/>
<path fill="#7ff784" d="M289 57h2v2h-2zM295 59h2v2h-2zM303 79h2v2h-2zM301 85h2v2h-2zM277 87h2v2h-2zM297 89h2v2h-2zM287 91h2v2h-2zM291 91h2v2h-2z"/>
<path fill="#88f77b" d="M299 57h2v2h-2zM265 59h2v2h-2zM307 67h2v2h-2zM307 75h2v2h-2zM301 89h2v2h-2zM293 93h2v2h-2z"/>
<path fill="#c3f740" d="M251 59h2v2h-2zM243 71h2v2h-2zM243 81h2v2h-2zM247 89h2v2h-2zM263 101h2v2h-2zM269 111h2v2h-2zM271 115h2v2h-2z"/>
<path fill="#80f783" d="M267 59h2v2h-2zM299 61h2v2h-2zM301 63h2v2h-2zM263 65h2v2h-2zM261 73h2v2h-2zM261 75h2v2h-2zM261 77h2v2h-2zM261 79h2v2h-2zM293 91h2v2h-2z"/>
<path fill="#74f790" d="M271 59h2v2h-2zM265 77h2v2h-2z"/>
<path fill="#70f793" d="M273 59h2v2h-2zM279 59h2v2h-2zM269 61h2v2h-2zM275 83h2v2h-2zM281 85h2v2h-2z"/>
<path fill="#6ef795" d="M275 59h2v2h-2zM267 65h2v2h-2zM291 65h2v2h-2zM267 77h2v2h-2zM299 79h2v2h-2zM271 81h2v2h-2zM277 83h2v2h-2z"/>
<path fill="#6ff794" d="M277 59h2v2h-2zM283 61h2v2h-2zM287 63h2v2h-2zM293 65h2v2h-2zM299 71h2v2h-2zM291 87h2v2h-2z"/>
<path fill="#72f791" d="M281 59h2v2h-2zM267 63h2v2h-2zM291 63h2v2h-2zM295 65h2v2h-2zM299 69h2v2h-2zM265 71h2v2h-2zM265 73h2v2h-2zM273 83h2v2h-2zM285 87h2v2h-2z"/>
<path fill="#74f78f" d="M283 59h2v2h-2zM293 63h2v2h-2zM265 67h2v2h-2zM301 73h2v2h-2zM301 75h2v2h-2zM267 81h2v2h-2zM271 83h2v2h-2zM299 83h2v2h-2zM295 87h2v2h-2z"/>
<path fill="#77f78d" d="M285 59h2v2h-2zM301 79h2v2h-2z"/>
<path fill="#7af789" d="M289 59h2v2h-2zM263 71h2v2h-2zM263 79h2v2h-2zM265 83h2v2h-2zM285 89h2v2h-2z"/>
<path fill="#7df786" d="M293 59h2v2h-2zM297 61h2v2h-2zM263 67h2v2h-2zM303 77h2v2h-2zM267 85h2v2h-2zM283 89h2v2h-2z"/>
<path fill="#87f77c" d="M301 59h2v2h-2zM305 63h2v2h-2zM307 69h2v2h-2zM307 71h2v2h-2zM259 73h2v2h-2zM307 73h2v2h-2zM259 75h2v2h-2zM259 79h2v2h-2zM305 81h2v2h-2zM287 93h2v2h-2zM291 93h2v2h-2z"/>
<path fill="#ddf727" d="M241 61h2v2h-2z"/>
<path fill="#d7f72d" d="M243 61h2v2h-2z"/>
<path fill="#d1f732" d="M245 61h2v2h-2zM239 79h2v2h-2zM245 91h2v2h-2zM247 93h2v2h-2zM265 111h2v2h-2z"/>
<path fill="#b5f74e" d="M253 61h2v2h-2zM249 67h2v2h-2zM247 71h2v2h-2zM261 97h2v2h-2zM273 97h2v2h-2zM275 101h2v2h-2zM275 103h2v2h-2zM275 111h2v2h-2z"/>
<path fill="#9cf767" d="M259 61h2v2h-2zM253 75h2v2h-2zM253 81h2v2h-2zM299 97h2v2h-2zM289 99h2v2h-2zM291 99h2v2h-2z"/>
<path fill="#6af799" d="M271 61h2v2h-2zM269 63h2v2h-2zM285 65h2v2h-2zM269 77h2v2h-2zM271 79h2v2h-2zM275 81h2v2h-2zM285 85h2v2h-2zM293 85h2v2h-2z"/>
<path fill="#66f79d" d="M273 61h2v2h-2zM277 61h2v2h-2zM283 67h2v2h-2zM293 69h2v2h-2zM269 73h2v2h-2zM297 73h2v2h-2zM271 77h2v2h-2zM279 81h2v2h-2z"/>
<path fill="#65f79e" d="M275 61h2v2h-2zM269 65h2v2h-2zM281 65h2v2h-2zM283 69h2v2h-2zM285 69h2v2h-2zM295 71h2v2h-2zM275 79h2v2h-2zM297 79h2v2h-2z"/>
<path fill="#69f79a" d="M279 61h2v2h-2zM291 67h2v2h-2zM295 69h2v2h-2zM297 71h2v2h-2zM297 81h2v2h-2zM281 83h2v2h-2z"/>
<path fill="#6cf797" d="M281 61h2v2h-2zM267 67h2v2h-2zM299 75h2v2h-2zM299 77h2v2h-2zM273 81h2v2h-2zM279 83h2v2h-2z"/>
<path fill="#71f792" d="M285 61h2v2h-2zM289 63h2v2h-2zM297 67h2v2h-2zM267 79h2v2h-2zM269 81h2v2h-2zM293 87h2v2h-2z"/>
<path fill="#73f790" d="M287 61h2v2h-2zM265 69h2v2h-2zM279 85h2v2h-2zM297 85h2v2h-2z"/>
<path fill="#75f78e" d="M289 61h2v2h-2zM297 65h2v2h-2zM299 67h2v2h-2zM301 71h2v2h-2zM301 77h2v2h-2zM265 79h2v2h-2zM269 83h2v2h-2zM283 87h2v2h-2z"/>
<path fill="#77f78c" d="M291 61h2v2h-2zM265 65h2v2h-2zM301 69h2v2h-2zM265 81h2v2h-2zM287 89h2v2h-2zM291 89h2v2h-2z"/>
<path fill="#d2f731" d="M243 63h2v2h-2zM239 71h2v2h-2zM239 81h2v2h-2zM243 89h2v2h-2zM249 95h2v2h-2zM255 99h2v2h-2z"/>
<path fill="#ccf738" d="M245 63h2v2h-2z"/>
<path fill="#96f76d" d="M259 63h2v2h-2zM257 67h2v2h-2zM255 73h2v2h-2zM307 89h2v2h-2zM303 93h2v2h-2zM283 95h2v2h-2zM299 95h2v2h-2zM289 97h2v2h-2zM291 97h2v2h-2z"/>
<path fill="#62f7a1" d="M271 63h2v2h-2zM281 69h2v2h-2zM283 71h2v2h-2zM275 77h2v2h-2zM279 79h2v2h-2zM295 81h2v2h-2zM287 83h2v2h-2z"/>
<path fill="#5ef7a5" d="M273 63h2v2h-2zM275 63h2v2h-2zM271 65h2v2h-2zM271 69h2v2h-2zM279 69h2v2h-2zM279 71h2v2h-2zM273 73h2v2h-2zM279 73h2v2h-2zM281 73h2v2h-2zM285 73h2v2h-2zM277 75h2v2h-2zM279 75h2v2h-2zM281 75h2v2h-2zM295 75h2v2h-2zM281 77h2v2h-2zM283 79h2v2h-2zM295 79h2v2h-2z"/>
<path fill="#60f7a3" d="M277 63h2v2h-2zM281 71h2v2h-2zM287 71h2v2h-2zM289 71h2v2h-2zM291 71h2v2h-2zM277 77h2v2h-2zM281 79h2v2h-2zM289 83h2v2h-2z"/>
<path fill="#64f79f" d="M279 63h2v2h-2zM269 67h2v2h-2zM269 69h2v2h-2zM289 69h2v2h-2zM297 75h2v2h-2zM273 77h2v2h-2zM297 77h2v2h-2zM277 79h2v2h-2zM281 81h2v2h-2zM285 83h2v2h-2z"/>
<path fill="#68f79b" d="M281 63h2v2h-2zM283 65h2v2h-2zM285 67h2v2h-2zM287 67h2v2h-2zM289 67h2v2h-2zM269 75h2v2h-2zM277 81h2v2h-2zM287 85h2v2h-2z"/>
<path fill="#6bf798" d="M283 63h2v2h-2zM293 67h2v2h-2zM267 69h2v2h-2zM267 71h2v2h-2z"/>
<path fill="#6df796" d="M285 63h2v2h-2zM295 67h2v2h-2zM297 69h2v2h-2zM299 73h2v2h-2zM267 75h2v2h-2zM269 79h2v2h-2zM297 83h2v2h-2zM283 85h2v2h-2zM295 85h2v2h-2z"/>
<path fill="#76f78d" d="M295 63h2v2h-2zM277 85h2v2h-2zM289 89h2v2h-2z"/>
<path fill="#cdf736" d="M243 65h2v2h-2zM241 69h2v2h-2zM241 83h2v2h-2zM243 87h2v2h-2z"/>
<path fill="#c0f743" d="M247 65h2v2h-2zM243 75h2v2h-2zM243 77h2v2h-2zM257 97h2v2h-2zM265 101h2v2h-2zM269 107h2v2h-2z"/>
<path fill="#5af7a9" d="M273 65h2v2h-2zM275 65h2v2h-2zM275 69h2v2h-2z"/>
<path fill="#5df7a6" d="M277 65h2v2h-2zM271 67h2v2h-2zM275 73h2v2h-2zM277 73h2v2h-2zM293 73h2v2h-2zM283 75h2v2h-2zM293 81h2v2h-2z"/>
<path fill="#61f7a2" d="M279 65h2v2h-2zM293 71h2v2h-2zM271 73h2v2h-2zM295 73h2v2h-2zM273 75h2v2h-2zM283 81h2v2h-2zM291 83h2v2h-2z"/>
<path fill="#6cf798" d="M287 65h2v2h-2zM267 73h2v2h-2z"/>
<path fill="#6df797" d="M289 65h2v2h-2z"/>
<path fill="#c3f741" d="M245 67h2v2h-2z"/>
<path fill="#bcf747" d="M247 67h2v2h-2zM245 71h2v2h-2zM263 99h2v2h-2zM269 101h2v2h-2z"/>
<path fill="#5af7aa" d="M273 67h2v2h-2zM287 75h2v2h-2z"/>
<path fill="#59f7aa" d="M275 67h2v2h-2zM293 75h2v2h-2zM287 79h2v2h-2z"/>
<path fill="#5bf7a8" d="M277 67h2v2h-2zM273 69h2v2h-2zM277 69h2v2h-2zM275 71h2v2h-2zM289 73h2v2h-2zM291 73h2v2h-2zM285 75h2v2h-2zM289 81h2v2h-2zM291 81h2v2h-2z"/>
<path fill="#5ff7a4" d="M279 67h2v2h-2zM271 71h2v2h-2zM283 73h2v2h-2zM275 75h2v2h-2zM279 77h2v2h-2zM285 81h2v2h-2z"/>
<path fill="#63f7a0" d="M281 67h2v2h-2zM293 83h2v2h-2z"/>
<path fill="#65f79f" d="M287 69h2v2h-2zM291 69h2v2h-2zM269 71h2v2h-2z"/>
<path fill="#7df787" d="M303 69h2v2h-2z"/>
<path fill="#a0f764" d="M253 71h2v2h-2z"/>
<path fill="#5cf7a7" d="M273 71h2v2h-2zM277 71h2v2h-2zM285 79h2v2h-2z"/>
<path fill="#62f7a2" d="M285 71h2v2h-2z"/>
<path fill="#5df7a7" d="M287 73h2v2h-2zM283 77h2v2h-2zM295 77h2v2h-2zM287 81h2v2h-2z"/>
<path fill="#73f791" d="M265 75h2v2h-2z"/>
<path fill="#64f7a0" d="M271 75h2v2h-2z"/>
<path fill="#58f7ab" d="M289 75h2v2h-2zM287 77h2v2h-2zM293 79h2v2h-2z"/>
<path fill="#58f7ac" d="M291 75h2v2h-2z"/>
<path fill="#87f77d" d="M259 77h2v2h-2z"/>
<path fill="#5bf7a9" d="M285 77h2v2h-2z"/>
<path fill="#56f7ad" d="M289 77h2v2h-2z"/>
<path fill="#55f7ae" d="M291 77h2v2h-2z"/>
<path fill="#57f7ac" d="M293 77h2v2h-2zM289 79h2v2h-2z"/>
<path fill="#8af77a" d="M307 77h2v2h-2z"/>
<path fill="#9cf768" d="M253 79h2v2h-2z"/>
<path fill="#8ef776" d="M257 79h2v2h-2z"/>
<path fill="#67f79c" d="M273 79h2v2h-2zM295 83h2v2h-2zM289 85h2v2h-2z"/>
<path fill="#57f7ad" d="M291 79h2v2h-2z"/>
<path fill="#90f773" d="M309 79h2v2h-2z"/>
<path fill="#71f793" d="M299 81h2v2h-2z"/>
<path fill="#92f772" d="M309 81h2v2h-2zM303 91h2v2h-2z"/>
<path fill="#dcf727" d="M237 83h2v2h-2zM239 87h2v2h-2zM255 101h2v2h-2zM259 105h2v2h-2z"/>
<path fill="#67f79d" d="M283 83h2v2h-2z"/>
<path fill="#8ff775" d="M307 83h2v2h-2z"/>
<path fill="#7bf789" d="M271 85h2v2h-2z"/>
<path fill="#68f79c" d="M291 85h2v2h-2z"/>
<path fill="#e3f720" d="M237 87h2v2h-2zM261 113h2v2h-2z"/>
<path fill="#b6f74e" d="M249 87h2v2h-2zM257 95h2v2h-2z"/>
<path fill="#aef756" d="M251 87h2v2h-2zM271 95h2v2h-2zM279 101h2v2h-2z"/>
<path fill="#89f77b" d="M261 87h2v2h-2z"/>
<path fill="#7cf788" d="M279 87h2v2h-2z"/>
<path fill="#70f794" d="M287 87h2v2h-2z"/>
<path fill="#6ff795" d="M289 87h2v2h-2z"/>
<path fill="#84f780" d="M301 87h2v2h-2zM299 89h2v2h-2z"/>
<path fill="#e8f71c" d="M237 89h2v2h-2z"/>
<path fill="#e6f71d" d="M239 91h2v2h-2z"/>
<path fill="#caf73a" d="M247 91h2v2h-2z"/>
<path fill="#97f76d" d="M275 91h2v2h-2z"/>
<path fill="#83f781" d="M295 91h2v2h-2z"/>
<path fill="#96f76e" d="M305 91h2v2h-2z"/>
<path fill="#ebf718" d="M239 93h2v2h-2zM253 103h2v2h-2zM255 105h2v2h-2z"/>
<path fill="#e5f71e" d="M241 93h2v2h-2zM259 109h2v2h-2z"/>
<path fill="#dff725" d="M243 93h2v2h-2z"/>
<path fill="#bbf749" d="M253 93h2v2h-2z"/>
<path fill="#a2f762" d="M275 93h2v2h-2z"/>
<path fill="#90f774" d="M299 93h2v2h-2z"/>
<path fill="#9af76a" d="M305 93h2v2h-2z"/>
<path fill="#ecf718" d="M241 95h2v2h-2z"/>
<path fill="#e6f71e" d="M243 95h2v2h-2z"/>
<path fill="#abf759" d="M261 95h2v2h-2z"/>
<path fill="#f2f711" d="M241 97h2v2h-2zM253 105h2v2h-2z"/>
<path fill="#edf716" d="M243 97h2v2h-2zM249 101h2v2h-2zM257 109h2v2h-2z"/>
<path fill="#e7f71c" d="M245 97h2v2h-2z"/>
<path fill="#e1f722" d="M247 97h2v2h-2zM259 107h2v2h-2z"/>
<path fill="#b5f74f" d="M271 97h2v2h-2zM279 113h2v2h-2z"/>
<path fill="#a7f75d" d="M279 97h2v2h-2zM283 101h2v2h-2zM289 103h2v2h-2z"/>
<path fill="#f4f70f" d="M243 99h2v2h-2zM255 109h2v2h-2z"/>
<path fill="#eff714" d="M245 99h2v2h-2z"/>
<path fill="#eaf71a" d="M247 99h2v2h-2z"/>
<path fill="#e4f71f" d="M249 99h2v2h-2zM257 105h2v2h-2z"/>
<path fill="#9ff765" d="M295 99h2v2h-2z"/>
<path fill="#f9f50a" d="M243 101h2v2h-2zM249 105h2v2h-2z"/>
<path fill="#f6f70d" d="M245 101h2v2h-2z"/>
<path fill="#f2f712" d="M247 101h2v2h-2z"/>
<path fill="#e8f71b" d="M251 101h2v2h-2zM259 111h2v2h-2z"/>
<path fill="#e2f721" d="M253 101h2v2h-2z"/>
<path fill="#b2f752" d="M277 101h2v2h-2z"/>
<path fill="#a3f761" d="M287 101h2v2h-2z"/>
<path fill="#f9f30a" d="M245 103h2v2h-2z"/>
<path fill="#f9f70a" d="M247 103h2v2h-2z"/>
<path fill="#f5f70e" d="M249 103h2v2h-2z"/>
<path fill="#f0f713" d="M251 103h2v2h-2zM255 107h2v2h-2z"/>
<path fill="#e5f71f" d="M255 103h2v2h-2z"/>
<path fill="#f9f10a" d="M247 105h2v2h-2zM251 109h2v2h-2z"/>
<path fill="#f7f70c" d="M251 105h2v2h-2zM253 107h2v2h-2zM255 111h2v2h-2z"/>
<path fill="#acf758" d="M293 105h2v2h-2z"/>
<path fill="#f9f00a" d="M249 107h2v2h-2z"/>
<path fill="#f9f40a" d="M251 107h2v2h-2z"/>
<path fill="#e9f71a" d="M257 107h2v2h-2z"/>
<path fill="#aff755" d="M293 107h2v2h-2z"/>
<path fill="#f9f60a" d="M253 109h2v2h-2z"/>
<path fill="#c8f73c" d="M267 109h2v2h-2z"/>
<path fill="#b4f750" d="M275 109h2v2h-2z"/>
<path fill="#b0f754" d="M285 109h2v2h-2z"/>
<path fill="#b1f753" d="M291 109h2v2h-2z"/>
<path fill="#f0f714" d="M257 111h2v2h-2z"/>
<path fill="#d9f72b" d="M263 111h2v2h-2z"/>
<path fill="#ebf719" d="M259 113h2v2h-2z"/>
<path fill="#c6f73e" d="M269 113h2v2h-2z"/>
</g></g>
<path d="M249.8 73.9 h-2.2 q-1.2 0 -1.2 1.6 v9.6 q0 1.6 1.2 1.6 h2.2" fill="#6f9a60" fill-opacity="0.35" stroke="#111" stroke-width="0.9"/>
<path d="M298.6 73.9 h2.2 q1.2 0 1.2 1.6 v9.6 q0 1.6 -1.2 1.6 h-2.2" fill="#6f9a60" fill-opacity="0.35" stroke="#111" stroke-width="0.9"/>
<path d="M269.4 56.0 Q272.0 53.2 274.2 51.0 Q276.4 53.2 279.0 56.0" fill="none" stroke="#111" stroke-width="0.9"/>
<circle cx="274.2" cy="80.1" r="24.7" fill="none" stroke="#111" stroke-width="1"/>
<g clip-path="url(#clip_b)"><g filter="url(#tblur)">
<path fill="#f9990a" d="M609 43h2v2h-2zM639 59h2v2h-2zM593 63h2v2h-2zM593 65h2v2h-2z"/>
<path fill="#f99a0a" d="M611 43h2v2h-2zM653 81h2v2h-2zM589 85h2v2h-2z"/>
<path fill="#f9980a" d="M613 43h2v2h-2zM593 73h2v2h-2z"/>
<path fill="#f9940a" d="M615 43h2v2h-2zM637 53h2v2h-2z"/>
<path fill="#f9910a" d="M617 43h2v2h-2zM597 49h2v2h-2zM593 69h2v2h-2zM651 75h2v2h-2z"/>
<path fill="#f98d0a" d="M619 43h2v2h-2zM643 65h2v2h-2zM587 87h2v2h-2z"/>
<path fill="#f98a0a" d="M621 43h2v2h-2zM647 69h2v2h-2z"/>
<path fill="#f9860a" d="M623 43h2v2h-2zM591 77h2v2h-2z"/>
<path fill="#f9800a" d="M625 43h2v2h-2zM653 77h2v2h-2z"/>
<path fill="#f9770a" d="M627 43h2v2h-2z"/>
<path fill="#f9a30a" d="M603 45h2v2h-2zM651 77h2v2h-2z"/>
<path fill="#f9af0a" d="M605 45h2v2h-2zM621 45h2v2h-2zM633 49h2v2h-2zM639 61h2v2h-2z"/>
<path fill="#f9b70a" d="M607 45h2v2h-2z"/>
<path fill="#f9bc0a" d="M609 45h2v2h-2zM595 67h2v2h-2zM595 69h2v2h-2z"/>
<path fill="#f9bd0a" d="M611 45h2v2h-2zM637 57h2v2h-2zM595 65h2v2h-2z"/>
<path fill="#f9bb0a" d="M613 45h2v2h-2zM651 81h2v2h-2z"/>
<path fill="#f9b80a" d="M615 45h2v2h-2zM641 65h2v2h-2zM593 79h2v2h-2z"/>
<path fill="#f9b40a" d="M617 45h2v2h-2z"/>
<path fill="#f9b10a" d="M619 45h2v2h-2zM651 79h2v2h-2z"/>
<path fill="#f9ad0a" d="M623 45h2v2h-2zM601 47h2v2h-2zM645 69h2v2h-2zM591 83h2v2h-2z"/>
<path fill="#f9a70a" d="M625 45h2v2h-2z"/>
<path fill="#f99e0a" d="M627 45h2v2h-2z"/>
<path fill="#f9900a" d="M629 45h2v2h-2zM585 91h2v2h-2z"/>
<path fill="#f97e0a" d="M631 45h2v2h-2zM589 81h2v2h-2z"/>
<path fill="#f9970a" d="M599 47h2v2h-2zM595 55h2v2h-2z"/>
<path fill="#f9c00a" d="M603 47h2v2h-2z"/>
<path fill="#f9cf0a" d="M605 47h2v2h-2zM599 53h2v2h-2zM597 59h2v2h-2zM589 97h2v2h-2zM629 111h2v2h-2z"/>
<path fill="#f9d90a" d="M607 47h2v2h-2zM597 61h2v2h-2zM641 67h2v2h-2zM605 107h2v2h-2zM613 109h2v2h-2zM625 111h2v2h-2z"/>
<path fill="#f9df0a" d="M609 47h2v2h-2zM615 47h2v2h-2zM595 79h2v2h-2zM593 103h2v2h-2zM595 105h2v2h-2zM605 105h2v2h-2zM615 109h2v2h-2z"/>
<path fill="#f9e20a" d="M611 47h2v2h-2zM613 47h2v2h-2zM629 49h2v2h-2zM649 93h2v2h-2zM603 105h2v2h-2z"/>
<path fill="#f9da0a" d="M617 47h2v2h-2zM647 75h2v2h-2zM591 91h2v2h-2zM591 101h2v2h-2z"/>
<path fill="#f9d80a" d="M619 47h2v2h-2zM621 47h2v2h-2zM617 111h2v2h-2z"/>
<path fill="#f9d60a" d="M623 47h2v2h-2zM601 109h2v2h-2z"/>
<path fill="#f9d10a" d="M625 47h2v2h-2zM633 51h2v2h-2zM637 59h2v2h-2zM591 89h2v2h-2zM613 111h2v2h-2z"/>
<path fill="#f9c80a" d="M627 47h2v2h-2zM651 85h2v2h-2z"/>
<path fill="#f9b90a" d="M629 47h2v2h-2zM597 55h2v2h-2zM587 95h2v2h-2z"/>
<path fill="#f9a40a" d="M631 47h2v2h-2z"/>
<path fill="#f98b0a" d="M633 47h2v2h-2zM635 49h2v2h-2zM645 67h2v2h-2z"/>
<path fill="#f96b0a" d="M635 47h2v2h-2z"/>
<path fill="#f9ac0a" d="M599 49h2v2h-2zM595 59h2v2h-2zM593 77h2v2h-2z"/>
<path fill="#f9c60a" d="M601 49h2v2h-2zM591 87h2v2h-2z"/>
<path fill="#f9dd0a" d="M603 49h2v2h-2zM649 81h2v2h-2zM601 107h2v2h-2z"/>
<path fill="#f9ee0a" d="M605 49h2v2h-2zM601 53h2v2h-2zM595 101h2v2h-2zM599 103h2v2h-2zM601 103h2v2h-2z"/>
<path fill="#f5f70e" d="M607 49h2v2h-2zM595 97h2v2h-2z"/>
<path fill="#ecf717" d="M609 49h2v2h-2zM623 49h2v2h-2zM639 67h2v2h-2z"/>
<path fill="#e7f71c" d="M611 49h2v2h-2zM635 59h2v2h-2z"/>
<path fill="#e5f71e" d="M613 49h2v2h-2zM605 51h2v2h-2zM629 51h2v2h-2zM599 97h2v2h-2z"/>
<path fill="#e6f71d" d="M615 49h2v2h-2zM619 105h2v2h-2z"/>
<path fill="#e9f71a" d="M617 49h2v2h-2zM647 89h2v2h-2zM595 91h2v2h-2zM615 101h2v2h-2z"/>
<path fill="#ebf718" d="M619 49h2v2h-2zM647 83h2v2h-2zM595 93h2v2h-2zM597 97h2v2h-2z"/>
<path fill="#eaf719" d="M621 49h2v2h-2zM597 79h2v2h-2zM595 89h2v2h-2z"/>
<path fill="#f2f711" d="M625 49h2v2h-2zM597 77h2v2h-2z"/>
<path fill="#f9f30a" d="M627 49h2v2h-2zM635 57h2v2h-2zM593 93h2v2h-2zM593 95h2v2h-2zM645 99h2v2h-2zM615 105h2v2h-2z"/>
<path fill="#f9cb0a" d="M631 49h2v2h-2zM595 75h2v2h-2zM651 87h2v2h-2zM651 91h2v2h-2zM615 113h2v2h-2z"/>
<path fill="#f9640a" d="M637 49h2v2h-2zM639 53h2v2h-2zM589 63h2v2h-2zM585 85h2v2h-2z"/>
<path fill="#f93b0a" d="M639 49h2v2h-2zM587 67h2v2h-2z"/>
<path fill="#f9830a" d="M595 51h2v2h-2zM585 89h2v2h-2z"/>
<path fill="#f9a00a" d="M597 51h2v2h-2zM591 81h2v2h-2z"/>
<path fill="#f9bf0a" d="M599 51h2v2h-2z"/>
<path fill="#f9dc0a" d="M601 51h2v2h-2zM599 55h2v2h-2zM635 55h2v2h-2zM607 105h2v2h-2zM609 105h2v2h-2zM597 107h2v2h-2zM621 111h2v2h-2zM623 111h2v2h-2z"/>
<path fill="#f9f60a" d="M603 51h2v2h-2zM605 99h2v2h-2zM601 101h2v2h-2zM613 101h2v2h-2zM643 101h2v2h-2zM637 105h2v2h-2z"/>
<path fill="#d4f72f" d="M607 51h2v2h-2zM599 73h2v2h-2zM597 85h2v2h-2zM601 95h2v2h-2zM619 103h2v2h-2z"/>
<path fill="#c7f73c" d="M609 51h2v2h-2zM621 103h2v2h-2z"/>
<path fill="#bef745" d="M611 51h2v2h-2zM599 81h2v2h-2zM623 103h2v2h-2z"/>
<path fill="#b9f74a" d="M613 51h2v2h-2zM599 83h2v2h-2zM615 95h2v2h-2z"/>
<path fill="#b6f74d" d="M615 51h2v2h-2zM617 51h2v2h-2zM619 51h2v2h-2zM599 85h2v2h-2z"/>
<path fill="#b7f74c" d="M621 51h2v2h-2zM599 87h2v2h-2zM601 91h2v2h-2zM643 91h2v2h-2zM633 101h2v2h-2z"/>
<path fill="#bbf748" d="M623 51h2v2h-2zM635 63h2v2h-2zM643 77h2v2h-2z"/>
<path fill="#c3f740" d="M625 51h2v2h-2zM639 99h2v2h-2z"/>
<path fill="#d1f732" d="M627 51h2v2h-2zM603 55h2v2h-2zM639 69h2v2h-2zM597 87h2v2h-2z"/>
<path fill="#f9f20a" d="M631 51h2v2h-2zM603 101h2v2h-2z"/>
<path fill="#f9a90a" d="M635 51h2v2h-2zM637 55h2v2h-2zM647 71h2v2h-2zM589 87h2v2h-2z"/>
<path fill="#f97d0a" d="M637 51h2v2h-2zM591 63h2v2h-2zM587 85h2v2h-2z"/>
<path fill="#f9510a" d="M639 51h2v2h-2zM589 57h2v2h-2z"/>
<path fill="#f9250a" d="M641 51h2v2h-2z"/>
<path fill="#f9710a" d="M593 53h2v2h-2zM591 67h2v2h-2z"/>
<path fill="#f98e0a" d="M595 53h2v2h-2zM653 79h2v2h-2z"/>
<path fill="#f9ae0a" d="M597 53h2v2h-2z"/>
<path fill="#e4f71f" d="M603 53h2v2h-2zM643 73h2v2h-2zM645 95h2v2h-2zM617 103h2v2h-2z"/>
<path fill="#cbf738" d="M605 53h2v2h-2zM637 101h2v2h-2zM631 103h2v2h-2z"/>
<path fill="#b5f74e" d="M607 53h2v2h-2zM617 97h2v2h-2z"/>
<path fill="#a4f75f" d="M609 53h2v2h-2zM601 77h2v2h-2zM611 91h2v2h-2z"/>
<path fill="#95f76e" d="M611 53h2v2h-2zM603 63h2v2h-2zM631 99h2v2h-2z"/>
<path fill="#8bf778" d="M613 53h2v2h-2zM611 89h2v2h-2zM637 95h2v2h-2z"/>
<path fill="#84f77f" d="M615 53h2v2h-2zM603 69h2v2h-2zM635 69h2v2h-2zM603 81h2v2h-2zM639 89h2v2h-2z"/>
<path fill="#81f782" d="M617 53h2v2h-2zM609 55h2v2h-2zM607 87h2v2h-2z"/>
<path fill="#80f783" d="M619 53h2v2h-2zM639 77h2v2h-2zM639 87h2v2h-2z"/>
<path fill="#82f781" d="M621 53h2v2h-2zM603 73h2v2h-2zM603 75h2v2h-2z"/>
<path fill="#88f77b" d="M623 53h2v2h-2zM603 85h2v2h-2z"/>
<path fill="#93f770" d="M625 53h2v2h-2z"/>
<path fill="#a5f75e" d="M627 53h2v2h-2zM623 101h2v2h-2z"/>
<path fill="#bdf746" d="M629 53h2v2h-2z"/>
<path fill="#dbf728" d="M631 53h2v2h-2zM599 69h2v2h-2zM641 71h2v2h-2zM597 93h2v2h-2z"/>
<path fill="#f9f00a" d="M633 53h2v2h-2zM597 73h2v2h-2zM611 99h2v2h-2z"/>
<path fill="#f9c40a" d="M635 53h2v2h-2zM597 57h2v2h-2zM595 73h2v2h-2zM593 81h2v2h-2z"/>
<path fill="#f9360a" d="M641 53h2v2h-2z"/>
<path fill="#f90b0a" d="M643 53h2v2h-2z"/>
<path fill="#f9600a" d="M591 55h2v2h-2zM589 61h2v2h-2zM587 81h2v2h-2z"/>
<path fill="#f9790a" d="M593 55h2v2h-2zM591 61h2v2h-2zM641 61h2v2h-2z"/>
<path fill="#f1f712" d="M601 55h2v2h-2zM599 61h2v2h-2zM637 63h2v2h-2zM645 75h2v2h-2zM613 99h2v2h-2zM621 107h2v2h-2z"/>
<path fill="#b3f750" d="M605 55h2v2h-2z"/>
<path fill="#99f76b" d="M607 55h2v2h-2zM641 89h2v2h-2z"/>
<path fill="#6ef795" d="M611 55h2v2h-2zM605 81h2v2h-2zM619 91h2v2h-2zM631 95h2v2h-2z"/>
<path fill="#5ef7a5" d="M613 55h2v2h-2zM605 67h2v2h-2zM631 85h2v2h-2z"/>
<path fill="#53f7b1" d="M615 55h2v2h-2z"/>
<path fill="#4cf7b7" d="M617 55h2v2h-2z"/>
<path fill="#4af7ba" d="M619 55h2v2h-2z"/>
<path fill="#4df7b7" d="M621 55h2v2h-2z"/>
<path fill="#55f7ae" d="M623 55h2v2h-2zM627 83h2v2h-2zM629 87h2v2h-2z"/>
<path fill="#64f79f" d="M625 55h2v2h-2zM635 77h2v2h-2zM635 81h2v2h-2zM611 85h2v2h-2zM633 85h2v2h-2z"/>
<path fill="#7af789" d="M627 55h2v2h-2zM629 97h2v2h-2z"/>
<path fill="#97f76c" d="M629 55h2v2h-2zM637 71h2v2h-2z"/>
<path fill="#baf749" d="M631 55h2v2h-2z"/>
<path fill="#e5f71f" d="M633 55h2v2h-2zM603 97h2v2h-2z"/>
<path fill="#f9760a" d="M639 55h2v2h-2z"/>
<path fill="#f9450a" d="M641 55h2v2h-2zM645 63h2v2h-2zM587 77h2v2h-2z"/>
<path fill="#f9180a" d="M643 55h2v2h-2z"/>
<path fill="#e4070a" d="M645 55h2v2h-2zM647 59h2v2h-2z"/>
<path fill="#f9680a" d="M591 57h2v2h-2zM645 65h2v2h-2zM649 69h2v2h-2z"/>
<path fill="#f9820a" d="M593 57h2v2h-2z"/>
<path fill="#f9a10a" d="M595 57h2v2h-2zM593 75h2v2h-2z"/>
<path fill="#f9e90a" d="M599 57h2v2h-2zM597 69h2v2h-2zM649 89h2v2h-2zM611 101h2v2h-2zM615 107h2v2h-2zM619 109h2v2h-2z"/>
<path fill="#e2f721" d="M601 57h2v2h-2zM599 65h2v2h-2zM597 95h2v2h-2zM613 97h2v2h-2z"/>
<path fill="#bff744" d="M603 57h2v2h-2zM601 63h2v2h-2zM627 103h2v2h-2z"/>
<path fill="#9df766" d="M605 57h2v2h-2zM621 99h2v2h-2zM633 99h2v2h-2z"/>
<path fill="#7ef785" d="M607 57h2v2h-2zM617 91h2v2h-2zM619 93h2v2h-2zM635 95h2v2h-2zM623 97h2v2h-2z"/>
<path fill="#62f7a1" d="M609 57h2v2h-2zM605 75h2v2h-2zM633 81h2v2h-2zM631 93h2v2h-2z"/>
<path fill="#49f7bb" d="M611 57h2v2h-2z"/>
<path fill="#33f7d0" d="M613 57h2v2h-2zM613 79h2v2h-2z"/>
<path fill="#23f7e0" d="M615 57h2v2h-2z"/>
<path fill="#19f7ea" d="M617 57h2v2h-2z"/>
<path fill="#16f7ed" d="M619 57h2v2h-2z"/>
<path fill="#1af7e9" d="M621 57h2v2h-2z"/>
<path fill="#26f7dd" d="M623 57h2v2h-2zM609 73h2v2h-2z"/>
<path fill="#38f7cb" d="M625 57h2v2h-2zM629 73h2v2h-2z"/>
<path fill="#52f7b1" d="M627 57h2v2h-2zM617 85h2v2h-2zM625 91h2v2h-2z"/>
<path fill="#73f790" d="M629 57h2v2h-2z"/>
<path fill="#9bf768" d="M631 57h2v2h-2z"/>
<path fill="#caf739" d="M633 57h2v2h-2zM599 77h2v2h-2z"/>
<path fill="#f9870a" d="M639 57h2v2h-2z"/>
<path fill="#f9530a" d="M641 57h2v2h-2z"/>
<path fill="#f9260a" d="M643 57h2v2h-2zM647 63h2v2h-2z"/>
<path fill="#f2070a" d="M645 57h2v2h-2z"/>
<path fill="#d2070a" d="M647 57h2v2h-2z"/>
<path fill="#f9410a" d="M587 59h2v2h-2z"/>
<path fill="#f9590a" d="M589 59h2v2h-2z"/>
<path fill="#f9720a" d="M591 59h2v2h-2z"/>
<path fill="#f98c0a" d="M593 59h2v2h-2zM589 83h2v2h-2z"/>
<path fill="#f9f50a" d="M599 59h2v2h-2zM595 99h2v2h-2zM629 107h2v2h-2z"/>
<path fill="#d5f72e" d="M601 59h2v2h-2zM597 91h2v2h-2zM617 101h2v2h-2z"/>
<path fill="#aff755" d="M603 59h2v2h-2zM603 91h2v2h-2z"/>
<path fill="#8af779" d="M605 59h2v2h-2zM627 99h2v2h-2z"/>
<path fill="#67f79c" d="M607 59h2v2h-2zM635 83h2v2h-2zM615 87h2v2h-2z"/>
<path fill="#46f7bd" d="M609 59h2v2h-2zM609 79h2v2h-2zM623 81h2v2h-2zM621 83h2v2h-2z"/>
<path fill="#28f7dc" d="M611 59h2v2h-2z"/>
<path fill="#0df7f6" d="M613 59h2v2h-2zM619 75h2v2h-2z"/>
<path fill="#0ae6f9" d="M615 59h2v2h-2zM611 63h2v2h-2zM627 65h2v2h-2zM615 73h2v2h-2zM621 73h2v2h-2z"/>
<path fill="#0ad9f9" d="M617 59h2v2h-2z"/>
<path fill="#0ad5f9" d="M619 59h2v2h-2z"/>
<path fill="#0adaf9" d="M621 59h2v2h-2z"/>
<path fill="#0ae8f9" d="M623 59h2v2h-2z"/>
<path fill="#11f7f2" d="M625 59h2v2h-2zM611 73h2v2h-2z"/>
<path fill="#2ef7d5" d="M627 59h2v2h-2zM611 77h2v2h-2zM617 79h2v2h-2z"/>
<path fill="#53f7b0" d="M629 59h2v2h-2zM607 61h2v2h-2zM629 77h2v2h-2zM627 85h2v2h-2zM627 91h2v2h-2z"/>
<path fill="#80f784" d="M631 59h2v2h-2z"/>
<path fill="#b1f752" d="M633 59h2v2h-2zM643 89h2v2h-2zM621 101h2v2h-2z"/>
<path fill="#f9630a" d="M641 59h2v2h-2zM651 71h2v2h-2zM589 77h2v2h-2z"/>
<path fill="#f9350a" d="M643 59h2v2h-2z"/>
<path fill="#f9100a" d="M645 59h2v2h-2zM583 75h2v2h-2z"/>
<path fill="#f9470a" d="M587 61h2v2h-2zM647 65h2v2h-2zM651 69h2v2h-2z"/>
<path fill="#f9950a" d="M593 61h2v2h-2zM593 67h2v2h-2z"/>
<path fill="#f9b50a" d="M595 61h2v2h-2zM649 75h2v2h-2z"/>
<path fill="#c9f73a" d="M601 61h2v2h-2zM645 87h2v2h-2z"/>
<path fill="#a1f762" d="M603 61h2v2h-2zM601 79h2v2h-2zM625 101h2v2h-2z"/>
<path fill="#79f78a" d="M605 61h2v2h-2zM637 75h2v2h-2zM639 83h2v2h-2zM615 89h2v2h-2z"/>
<path fill="#2ff7d4" d="M609 61h2v2h-2zM615 79h2v2h-2z"/>
<path fill="#0cf7f7" d="M611 61h2v2h-2zM617 75h2v2h-2z"/>
<path fill="#0adbf9" d="M613 61h2v2h-2zM611 65h2v2h-2zM611 67h2v2h-2zM613 71h2v2h-2z"/>
<path fill="#0ac2f9" d="M615 61h2v2h-2z"/>
<path fill="#0ab1f9" d="M617 61h2v2h-2z"/>
<path fill="#0aadf9" d="M619 61h2v2h-2zM623 67h2v2h-2z"/>
<path fill="#0ab5f9" d="M621 61h2v2h-2z"/>
<path fill="#0ac6f9" d="M623 61h2v2h-2z"/>
<path fill="#0ae0f9" d="M625 61h2v2h-2z"/>
<path fill="#12f7f1" d="M627 61h2v2h-2z"/>
<path fill="#3af7c9" d="M629 61h2v2h-2zM607 65h2v2h-2zM607 71h2v2h-2z"/>
<path fill="#68f79b" d="M631 61h2v2h-2zM635 85h2v2h-2zM635 87h2v2h-2z"/>
<path fill="#9bf769" d="M633 61h2v2h-2z"/>
<path fill="#d1f733" d="M635 61h2v2h-2z"/>
<path fill="#f9e80a" d="M637 61h2v2h-2zM645 73h2v2h-2zM613 105h2v2h-2z"/>
<path fill="#f94a0a" d="M643 61h2v2h-2zM587 63h2v2h-2z"/>
<path fill="#f9270a" d="M645 61h2v2h-2z"/>
<path fill="#f9090a" d="M647 61h2v2h-2z"/>
<path fill="#e0070a" d="M649 61h2v2h-2z"/>
<path fill="#f92f0a" d="M585 63h2v2h-2z"/>
<path fill="#f9ba0a" d="M595 63h2v2h-2zM591 85h2v2h-2z"/>
<path fill="#f9e00a" d="M597 63h2v2h-2zM591 93h2v2h-2zM591 97h2v2h-2zM609 103h2v2h-2zM611 105h2v2h-2zM637 107h2v2h-2z"/>
<path fill="#e8f71b" d="M599 63h2v2h-2zM647 85h2v2h-2zM647 87h2v2h-2zM631 105h2v2h-2z"/>
<path fill="#6cf797" d="M605 63h2v2h-2zM635 91h2v2h-2z"/>
<path fill="#44f7bf" d="M607 63h2v2h-2z"/>
<path fill="#1df7e6" d="M609 63h2v2h-2z"/>
<path fill="#0ac4f9" d="M613 63h2v2h-2zM625 65h2v2h-2z"/>
<path fill="#0aa7f9" d="M615 63h2v2h-2zM623 65h2v2h-2z"/>
<path fill="#0a94f9" d="M617 63h2v2h-2z"/>
<path fill="#0a8ff9" d="M619 63h2v2h-2zM621 65h2v2h-2z"/>
<path fill="#0a9af9" d="M621 63h2v2h-2z"/>
<path fill="#0ab0f9" d="M623 63h2v2h-2z"/>
<path fill="#0accf9" d="M625 63h2v2h-2z"/>
<path fill="#0aeef9" d="M627 63h2v2h-2z"/>
<path fill="#28f7db" d="M629 63h2v2h-2z"/>
<path fill="#56f7ad" d="M631 63h2v2h-2zM607 79h2v2h-2zM623 91h2v2h-2z"/>
<path fill="#87f77c" d="M633 63h2v2h-2zM603 67h2v2h-2zM637 73h2v2h-2zM605 87h2v2h-2zM633 97h2v2h-2z"/>
<path fill="#f9ca0a" d="M639 63h2v2h-2zM589 93h2v2h-2zM631 111h2v2h-2z"/>
<path fill="#f9960a" d="M641 63h2v2h-2z"/>
<path fill="#f96a0a" d="M643 63h2v2h-2zM591 71h2v2h-2z"/>
<path fill="#f90a0a" d="M649 63h2v2h-2zM583 69h2v2h-2zM583 73h2v2h-2z"/>
<path fill="#f92c0a" d="M585 65h2v2h-2z"/>
<path fill="#f9460a" d="M587 65h2v2h-2zM585 81h2v2h-2z"/>
<path fill="#f9610a" d="M589 65h2v2h-2z"/>
<path fill="#f97a0a" d="M591 65h2v2h-2zM591 75h2v2h-2z"/>
<path fill="#f9e40a" d="M597 65h2v2h-2zM593 87h2v2h-2zM609 101h2v2h-2zM645 101h2v2h-2zM611 103h2v2h-2zM597 105h2v2h-2zM617 109h2v2h-2z"/>
<path fill="#b8f74c" d="M601 65h2v2h-2z"/>
<path fill="#8df776" d="M603 65h2v2h-2zM641 83h2v2h-2zM615 91h2v2h-2z"/>
<path fill="#63f7a0" d="M605 65h2v2h-2zM635 79h2v2h-2zM633 91h2v2h-2z"/>
<path fill="#13f7f0" d="M609 65h2v2h-2zM621 75h2v2h-2z"/>
<path fill="#0ab9f9" d="M613 65h2v2h-2z"/>
<path fill="#0a9bf9" d="M615 65h2v2h-2z"/>
<path fill="#0a85f9" d="M617 65h2v2h-2z"/>
<path fill="#0a81f9" d="M619 65h2v2h-2z"/>
<path fill="#1ff7e4" d="M629 65h2v2h-2z"/>
<path fill="#49f7ba" d="M631 65h2v2h-2zM631 73h2v2h-2z"/>
<path fill="#76f78d" d="M633 65h2v2h-2zM627 97h2v2h-2z"/>
<path fill="#a6f75d" d="M635 65h2v2h-2z"/>
<path fill="#d8f72b" d="M637 65h2v2h-2zM599 71h2v2h-2z"/>
<path fill="#f9e70a" d="M639 65h2v2h-2zM597 67h2v2h-2zM649 85h2v2h-2zM649 91h2v2h-2zM595 103h2v2h-2zM627 109h2v2h-2z"/>
<path fill="#f9280a" d="M649 65h2v2h-2z"/>
<path fill="#f90c0a" d="M651 65h2v2h-2z"/>
<path fill="#f9240a" d="M585 67h2v2h-2zM583 79h2v2h-2z"/>
<path fill="#f9540a" d="M589 67h2v2h-2z"/>
<path fill="#def725" d="M599 67h2v2h-2z"/>
<path fill="#b2f751" d="M601 67h2v2h-2z"/>
<path fill="#36f7cd" d="M607 67h2v2h-2zM607 69h2v2h-2zM621 79h2v2h-2z"/>
<path fill="#10f7f3" d="M609 67h2v2h-2z"/>
<path fill="#0abbf9" d="M613 67h2v2h-2z"/>
<path fill="#0aa0f9" d="M615 67h2v2h-2z"/>
<path fill="#0a8ef9" d="M617 67h2v2h-2z"/>
<path fill="#0a8af9" d="M619 67h2v2h-2z"/>
<path fill="#0a97f9" d="M621 67h2v2h-2z"/>
<path fill="#0ac8f9" d="M625 67h2v2h-2zM613 69h2v2h-2z"/>
<path fill="#0ae7f9" d="M627 67h2v2h-2z"/>
<path fill="#1df7e7" d="M629 67h2v2h-2z"/>
<path fill="#42f7c1" d="M631 67h2v2h-2z"/>
<path fill="#6af79a" d="M633 67h2v2h-2z"/>
<path fill="#94f76f" d="M635 67h2v2h-2zM641 87h2v2h-2zM607 89h2v2h-2z"/>
<path fill="#c0f743" d="M637 67h2v2h-2zM603 93h2v2h-2zM605 93h2v2h-2zM611 93h2v2h-2zM643 93h2v2h-2zM635 101h2v2h-2z"/>
<path fill="#f9b00a" d="M643 67h2v2h-2z"/>
<path fill="#f9690a" d="M647 67h2v2h-2zM591 69h2v2h-2z"/>
<path fill="#f9480a" d="M649 67h2v2h-2zM589 69h2v2h-2zM589 71h2v2h-2z"/>
<path fill="#f92a0a" d="M651 67h2v2h-2z"/>
<path fill="#f91d0a" d="M585 69h2v2h-2z"/>
<path fill="#f9310a" d="M587 69h2v2h-2zM583 81h2v2h-2z"/>
<path fill="#aff754" d="M601 69h2v2h-2zM643 79h2v2h-2zM639 97h2v2h-2zM631 101h2v2h-2z"/>
<path fill="#5cf7a7" d="M605 69h2v2h-2zM633 71h2v2h-2zM633 75h2v2h-2zM609 83h2v2h-2zM631 91h2v2h-2z"/>
<path fill="#14f7ef" d="M609 69h2v2h-2zM627 71h2v2h-2z"/>
<path fill="#0ae2f9" d="M611 69h2v2h-2zM617 73h2v2h-2z"/>
<path fill="#0ab3f9" d="M615 69h2v2h-2z"/>
<path fill="#0aa6f9" d="M617 69h2v2h-2z"/>
<path fill="#0aa3f9" d="M619 69h2v2h-2z"/>
<path fill="#0aacf9" d="M621 69h2v2h-2z"/>
<path fill="#0abef9" d="M623 69h2v2h-2z"/>
<path fill="#0ad6f9" d="M625 69h2v2h-2z"/>
<path fill="#0af1f9" d="M627 69h2v2h-2z"/>
<path fill="#21f7e2" d="M629 69h2v2h-2zM619 77h2v2h-2z"/>
<path fill="#40f7c3" d="M631 69h2v2h-2zM607 73h2v2h-2zM621 81h2v2h-2z"/>
<path fill="#61f7a3" d="M633 69h2v2h-2z"/>
<path fill="#aaf759" d="M637 69h2v2h-2zM643 85h2v2h-2zM601 89h2v2h-2z"/>
<path fill="#f8f70b" d="M641 69h2v2h-2z"/>
<path fill="#f9d20a" d="M643 69h2v2h-2zM607 109h2v2h-2zM609 109h2v2h-2zM635 109h2v2h-2z"/>
<path fill="#f9080a" d="M583 71h2v2h-2z"/>
<path fill="#f91a0a" d="M585 71h2v2h-2z"/>
<path fill="#f92e0a" d="M587 71h2v2h-2z"/>
<path fill="#f9920a" d="M593 71h2v2h-2z"/>
<path fill="#f9be0a" d="M595 71h2v2h-2z"/>
<path fill="#f9ec0a" d="M597 71h2v2h-2zM647 77h2v2h-2zM593 89h2v2h-2zM605 101h2v2h-2zM597 103h2v2h-2z"/>
<path fill="#acf757" d="M601 71h2v2h-2zM641 75h2v2h-2z"/>
<path fill="#83f780" d="M603 71h2v2h-2zM603 77h2v2h-2zM603 79h2v2h-2zM613 89h2v2h-2z"/>
<path fill="#5df7a6" d="M605 71h2v2h-2zM633 77h2v2h-2zM631 79h2v2h-2zM613 85h2v2h-2zM629 93h2v2h-2z"/>
<path fill="#1cf7e7" d="M609 71h2v2h-2z"/>
<path fill="#0aeff9" d="M611 71h2v2h-2zM613 73h2v2h-2z"/>
<path fill="#0acdf9" d="M615 71h2v2h-2z"/>
<path fill="#0ac5f9" d="M617 71h2v2h-2z"/>
<path fill="#0ac3f9" d="M619 71h2v2h-2z"/>
<path fill="#0ac9f9" d="M621 71h2v2h-2z"/>
<path fill="#0ad7f9" d="M623 71h2v2h-2z"/>
<path fill="#0aebf9" d="M625 71h2v2h-2z"/>
<path fill="#2bf7d8" d="M629 71h2v2h-2z"/>
<path fill="#43f7c1" d="M631 71h2v2h-2z"/>
<path fill="#78f78b" d="M635 71h2v2h-2zM637 91h2v2h-2z"/>
<path fill="#b8f74b" d="M639 71h2v2h-2z"/>
<path fill="#f9f10a" d="M643 71h2v2h-2zM593 91h2v2h-2zM617 107h2v2h-2z"/>
<path fill="#f9cd0a" d="M645 71h2v2h-2zM605 111h2v2h-2zM609 111h2v2h-2zM621 113h2v2h-2z"/>
<path fill="#f9850a" d="M649 71h2v2h-2z"/>
<path fill="#f9420a" d="M653 71h2v2h-2z"/>
<path fill="#f91c0a" d="M585 73h2v2h-2z"/>
<path fill="#f9320a" d="M587 73h2v2h-2z"/>
<path fill="#f94d0a" d="M589 73h2v2h-2z"/>
<path fill="#f9700a" d="M591 73h2v2h-2zM589 79h2v2h-2z"/>
<path fill="#a9f75a" d="M601 73h2v2h-2zM609 91h2v2h-2z"/>
<path fill="#5ff7a4" d="M605 73h2v2h-2zM633 79h2v2h-2zM631 81h2v2h-2zM617 87h2v2h-2z"/>
<path fill="#0ae1f9" d="M619 73h2v2h-2z"/>
<path fill="#0af2f9" d="M623 73h2v2h-2z"/>
<path fill="#15f7ee" d="M625 73h2v2h-2zM613 75h2v2h-2z"/>
<path fill="#27f7dc" d="M627 73h2v2h-2zM621 77h2v2h-2z"/>
<path fill="#5bf7a8" d="M633 73h2v2h-2zM629 81h2v2h-2zM629 83h2v2h-2zM631 87h2v2h-2zM625 93h2v2h-2z"/>
<path fill="#6ff794" d="M635 73h2v2h-2zM637 77h2v2h-2zM613 87h2v2h-2zM623 95h2v2h-2z"/>
<path fill="#a3f761" d="M639 73h2v2h-2z"/>
<path fill="#c2f741" d="M641 73h2v2h-2zM619 101h2v2h-2z"/>
<path fill="#f9c30a" d="M647 73h2v2h-2z"/>
<path fill="#f99f0a" d="M649 73h2v2h-2z"/>
<path fill="#f97c0a" d="M651 73h2v2h-2z"/>
<path fill="#f95a0a" d="M653 73h2v2h-2z"/>
<path fill="#f9230a" d="M585 75h2v2h-2z"/>
<path fill="#f93a0a" d="M587 75h2v2h-2z"/>
<path fill="#f9570a" d="M589 75h2v2h-2z"/>
<path fill="#f9f70a" d="M597 75h2v2h-2zM609 97h2v2h-2zM599 101h2v2h-2z"/>
<path fill="#cff734" d="M599 75h2v2h-2z"/>
<path fill="#a7f75c" d="M601 75h2v2h-2zM635 99h2v2h-2z"/>
<path fill="#47f7bc" d="M607 75h2v2h-2zM629 75h2v2h-2zM611 81h2v2h-2z"/>
<path fill="#31f7d2" d="M609 75h2v2h-2z"/>
<path fill="#20f7e3" d="M611 75h2v2h-2zM615 77h2v2h-2z"/>
<path fill="#0ef7f5" d="M615 75h2v2h-2z"/>
<path fill="#1ef7e5" d="M623 75h2v2h-2z"/>
<path fill="#2df7d6" d="M625 75h2v2h-2z"/>
<path fill="#3cf7c7" d="M627 75h2v2h-2zM609 77h2v2h-2zM615 81h2v2h-2zM619 81h2v2h-2z"/>
<path fill="#51f7b2" d="M631 75h2v2h-2zM609 81h2v2h-2z"/>
<path fill="#69f79b" d="M635 75h2v2h-2z"/>
<path fill="#90f773" d="M639 75h2v2h-2zM641 85h2v2h-2zM617 93h2v2h-2z"/>
<path fill="#cdf736" d="M643 75h2v2h-2zM613 95h2v2h-2z"/>
<path fill="#f96e0a" d="M653 75h2v2h-2zM587 83h2v2h-2z"/>
<path fill="#f9190a" d="M583 77h2v2h-2z"/>
<path fill="#f92d0a" d="M585 77h2v2h-2z"/>
<path fill="#f9d50a" d="M595 77h2v2h-2zM603 109h2v2h-2zM611 109h2v2h-2zM627 111h2v2h-2z"/>
<path fill="#66f79d" d="M605 77h2v2h-2zM607 83h2v2h-2zM627 95h2v2h-2z"/>
<path fill="#4ff7b5" d="M607 77h2v2h-2z"/>
<path fill="#25f7de" d="M613 77h2v2h-2z"/>
<path fill="#1ff7e5" d="M617 77h2v2h-2z"/>
<path fill="#32f7d1" d="M623 77h2v2h-2z"/>
<path fill="#3ff7c4" d="M625 77h2v2h-2zM623 79h2v2h-2z"/>
<path fill="#4df7b6" d="M627 77h2v2h-2zM623 87h2v2h-2zM625 87h2v2h-2z"/>
<path fill="#58f7ab" d="M631 77h2v2h-2zM629 85h2v2h-2z"/>
<path fill="#9af769" d="M641 77h2v2h-2zM613 91h2v2h-2z"/>
<path fill="#dff724" d="M645 77h2v2h-2z"/>
<path fill="#f9c70a" d="M649 77h2v2h-2zM611 113h2v2h-2z"/>
<path fill="#f9390a" d="M585 79h2v2h-2z"/>
<path fill="#f9520a" d="M587 79h2v2h-2z"/>
<path fill="#f9930a" d="M591 79h2v2h-2z"/>
<path fill="#c4f73f" d="M599 79h2v2h-2zM599 91h2v2h-2zM607 93h2v2h-2zM641 97h2v2h-2z"/>
<path fill="#6af799" d="M605 79h2v2h-2zM609 85h2v2h-2z"/>
<path fill="#3bf7c8" d="M611 79h2v2h-2zM617 81h2v2h-2z"/>
<path fill="#30f7d3" d="M619 79h2v2h-2z"/>
<path fill="#4af7b9" d="M625 79h2v2h-2zM615 83h2v2h-2zM623 83h2v2h-2z"/>
<path fill="#54f7af" d="M627 79h2v2h-2zM629 89h2v2h-2z"/>
<path fill="#5af7aa" d="M629 79h2v2h-2z"/>
<path fill="#69f79a" d="M637 79h2v2h-2zM637 81h2v2h-2zM635 89h2v2h-2zM633 93h2v2h-2zM629 95h2v2h-2z"/>
<path fill="#76f78e" d="M639 79h2v2h-2zM611 87h2v2h-2z"/>
<path fill="#8ff774" d="M641 79h2v2h-2zM623 99h2v2h-2zM629 99h2v2h-2z"/>
<path fill="#d3f730" d="M645 79h2v2h-2z"/>
<path fill="#f8f70c" d="M647 79h2v2h-2z"/>
<path fill="#f9d40a" d="M649 79h2v2h-2zM615 111h2v2h-2z"/>
<path fill="#f9ea0a" d="M595 81h2v2h-2zM649 87h2v2h-2zM647 97h2v2h-2zM593 99h2v2h-2zM603 103h2v2h-2z"/>
<path fill="#e1f722" d="M597 81h2v2h-2zM609 95h2v2h-2zM629 105h2v2h-2z"/>
<path fill="#9ef765" d="M601 81h2v2h-2zM603 89h2v2h-2zM639 95h2v2h-2zM637 97h2v2h-2z"/>
<path fill="#5ef7a6" d="M607 81h2v2h-2z"/>
<path fill="#41f7c2" d="M613 81h2v2h-2z"/>
<path fill="#4ef7b5" d="M625 81h2v2h-2zM613 83h2v2h-2zM619 85h2v2h-2zM625 85h2v2h-2zM625 89h2v2h-2z"/>
<path fill="#56f7ae" d="M627 81h2v2h-2z"/>
<path fill="#75f78e" d="M639 81h2v2h-2zM633 95h2v2h-2z"/>
<path fill="#8cf777" d="M641 81h2v2h-2zM621 97h2v2h-2z"/>
<path fill="#aaf75a" d="M643 81h2v2h-2z"/>
<path fill="#ccf738" d="M645 81h2v2h-2z"/>
<path fill="#eff714" d="M647 81h2v2h-2zM595 95h2v2h-2zM601 99h2v2h-2zM625 107h2v2h-2z"/>
<path fill="#f93f0a" d="M583 83h2v2h-2z"/>
<path fill="#f9550a" d="M585 83h2v2h-2z"/>
<path fill="#f9d00a" d="M593 83h2v2h-2z"/>
<path fill="#f9f40a" d="M595 83h2v2h-2zM647 95h2v2h-2zM597 101h2v2h-2zM641 103h2v2h-2z"/>
<path fill="#daf729" d="M597 83h2v2h-2zM643 97h2v2h-2zM635 103h2v2h-2z"/>
<path fill="#9cf767" d="M601 83h2v2h-2zM601 85h2v2h-2z"/>
<path fill="#85f77e" d="M603 83h2v2h-2z"/>
<path fill="#74f790" d="M605 83h2v2h-2z"/>
<path fill="#55f7af" d="M611 83h2v2h-2z"/>
<path fill="#47f7bd" d="M617 83h2v2h-2z"/>
<path fill="#45f7be" d="M619 83h2v2h-2z"/>
<path fill="#4ff7b4" d="M625 83h2v2h-2z"/>
<path fill="#60f7a3" d="M631 83h2v2h-2zM621 91h2v2h-2z"/>
<path fill="#65f79f" d="M633 83h2v2h-2z"/>
<path fill="#6df796" d="M637 83h2v2h-2zM617 89h2v2h-2zM621 93h2v2h-2z"/>
<path fill="#a8f75b" d="M643 83h2v2h-2zM629 101h2v2h-2z"/>
<path fill="#c8f73b" d="M645 83h2v2h-2zM645 85h2v2h-2z"/>
<path fill="#f9e30a" d="M649 83h2v2h-2z"/>
<path fill="#f9c20a" d="M651 83h2v2h-2z"/>
<path fill="#f9a20a" d="M653 83h2v2h-2z"/>
<path fill="#f94e0a" d="M583 85h2v2h-2z"/>
<path fill="#f9db0a" d="M593 85h2v2h-2zM649 95h2v2h-2zM603 107h2v2h-2zM611 107h2v2h-2zM631 109h2v2h-2zM619 111h2v2h-2z"/>
<path fill="#f4f70f" d="M595 85h2v2h-2zM647 93h2v2h-2zM597 99h2v2h-2zM615 103h2v2h-2zM627 107h2v2h-2z"/>
<path fill="#7bf788" d="M605 85h2v2h-2zM609 87h2v2h-2z"/>
<path fill="#72f791" d="M607 85h2v2h-2zM637 87h2v2h-2zM635 93h2v2h-2z"/>
<path fill="#57f7ac" d="M615 85h2v2h-2zM619 87h2v2h-2zM621 89h2v2h-2z"/>
<path fill="#4bf7b8" d="M621 85h2v2h-2z"/>
<path fill="#4cf7b8" d="M623 85h2v2h-2z"/>
<path fill="#70f793" d="M637 85h2v2h-2z"/>
<path fill="#7df786" d="M639 85h2v2h-2z"/>
<path fill="#f95d0a" d="M583 87h2v2h-2z"/>
<path fill="#f9740a" d="M585 87h2v2h-2z"/>
<path fill="#eef715" d="M595 87h2v2h-2zM639 103h2v2h-2zM623 107h2v2h-2z"/>
<path fill="#a0f763" d="M601 87h2v2h-2z"/>
<path fill="#91f773" d="M603 87h2v2h-2zM609 89h2v2h-2zM635 97h2v2h-2z"/>
<path fill="#51f7b3" d="M621 87h2v2h-2z"/>
<path fill="#50f7b3" d="M627 87h2v2h-2zM623 89h2v2h-2zM627 89h2v2h-2z"/>
<path fill="#61f7a2" d="M633 87h2v2h-2zM619 89h2v2h-2zM633 89h2v2h-2zM623 93h2v2h-2z"/>
<path fill="#adf756" d="M643 87h2v2h-2z"/>
<path fill="#f99b0a" d="M587 89h2v2h-2zM585 93h2v2h-2z"/>
<path fill="#f9b60a" d="M589 89h2v2h-2z"/>
<path fill="#d2f732" d="M597 89h2v2h-2z"/>
<path fill="#bcf747" d="M599 89h2v2h-2zM625 103h2v2h-2z"/>
<path fill="#98f76b" d="M605 89h2v2h-2z"/>
<path fill="#5af7a9" d="M631 89h2v2h-2zM627 93h2v2h-2z"/>
<path fill="#74f78f" d="M637 89h2v2h-2z"/>
<path fill="#ccf737" d="M645 89h2v2h-2zM643 95h2v2h-2zM615 97h2v2h-2z"/>
<path fill="#f9cc0a" d="M651 89h2v2h-2zM607 111h2v2h-2zM617 113h2v2h-2zM623 113h2v2h-2z"/>
<path fill="#f9a80a" d="M587 91h2v2h-2z"/>
<path fill="#f9c10a" d="M589 91h2v2h-2z"/>
<path fill="#abf758" d="M605 91h2v2h-2zM607 91h2v2h-2z"/>
<path fill="#57f7ad" d="M629 91h2v2h-2z"/>
<path fill="#89f77a" d="M639 91h2v2h-2zM625 99h2v2h-2z"/>
<path fill="#9ff764" d="M641 91h2v2h-2zM619 97h2v2h-2z"/>
<path fill="#d2f731" d="M645 91h2v2h-2zM633 103h2v2h-2z"/>
<path fill="#edf716" d="M647 91h2v2h-2zM633 105h2v2h-2z"/>
<path fill="#f9b20a" d="M587 93h2v2h-2z"/>
<path fill="#cef735" d="M599 93h2v2h-2z"/>
<path fill="#c5f73e" d="M601 93h2v2h-2zM609 93h2v2h-2z"/>
<path fill="#b4f74f" d="M613 93h2v2h-2zM641 95h2v2h-2z"/>
<path fill="#a3f760" d="M615 93h2v2h-2zM617 95h2v2h-2zM627 101h2v2h-2z"/>
<path fill="#7ff784" d="M637 93h2v2h-2zM631 97h2v2h-2z"/>
<path fill="#91f772" d="M639 93h2v2h-2z"/>
<path fill="#a8f75c" d="M641 93h2v2h-2z"/>
<path fill="#daf72a" d="M645 93h2v2h-2z"/>
<path fill="#f9ce0a" d="M589 95h2v2h-2zM589 99h2v2h-2zM611 111h2v2h-2zM619 113h2v2h-2z"/>
<path fill="#f9e10a" d="M591 95h2v2h-2zM607 103h2v2h-2zM641 105h2v2h-2zM613 107h2v2h-2zM629 109h2v2h-2z"/>
<path fill="#d9f72a" d="M599 95h2v2h-2zM639 101h2v2h-2z"/>
<path fill="#d3f731" d="M603 95h2v2h-2z"/>
<path fill="#d6f72d" d="M605 95h2v2h-2zM641 99h2v2h-2z"/>
<path fill="#ddf726" d="M607 95h2v2h-2zM621 105h2v2h-2z"/>
<path fill="#dcf727" d="M611 95h2v2h-2zM615 99h2v2h-2z"/>
<path fill="#8ef775" d="M619 95h2v2h-2z"/>
<path fill="#7cf787" d="M621 95h2v2h-2z"/>
<path fill="#68f79c" d="M625 95h2v2h-2z"/>
<path fill="#f9ef0a" d="M593 97h2v2h-2zM607 99h2v2h-2zM613 103h2v2h-2zM631 107h2v2h-2z"/>
<path fill="#e3f721" d="M601 97h2v2h-2z"/>
<path fill="#ebf719" d="M605 97h2v2h-2z"/>
<path fill="#f3f710" d="M607 97h2v2h-2zM611 97h2v2h-2zM603 99h2v2h-2zM635 105h2v2h-2z"/>
<path fill="#77f78c" d="M625 97h2v2h-2z"/>
<path fill="#f0f713" d="M645 97h2v2h-2zM599 99h2v2h-2z"/>
<path fill="#f9de0a" d="M591 99h2v2h-2zM599 107h2v2h-2z"/>
<path fill="#f9eb0a" d="M609 99h2v2h-2zM633 107h2v2h-2zM625 109h2v2h-2z"/>
<path fill="#c6f73d" d="M617 99h2v2h-2z"/>
<path fill="#b0f753" d="M619 99h2v2h-2z"/>
<path fill="#b4f750" d="M637 99h2v2h-2z"/>
<path fill="#eaf71a" d="M643 99h2v2h-2z"/>
<path fill="#f9e50a" d="M593 101h2v2h-2zM605 103h2v2h-2zM643 103h2v2h-2zM601 105h2v2h-2z"/>
<path fill="#f9e60a" d="M607 101h2v2h-2zM599 105h2v2h-2zM635 107h2v2h-2z"/>
<path fill="#e9f71b" d="M641 101h2v2h-2z"/>
<path fill="#c5f73f" d="M629 103h2v2h-2z"/>
<path fill="#e3f720" d="M637 103h2v2h-2z"/>
<path fill="#f2f712" d="M617 105h2v2h-2z"/>
<path fill="#d7f72c" d="M623 105h2v2h-2zM625 105h2v2h-2z"/>
<path fill="#dbf729" d="M627 105h2v2h-2z"/>
<path fill="#f9ed0a" d="M639 105h2v2h-2zM621 109h2v2h-2zM623 109h2v2h-2z"/>
<path fill="#f9d70a" d="M607 107h2v2h-2zM609 107h2v2h-2zM633 109h2v2h-2z"/>
<path fill="#f7f70c" d="M619 107h2v2h-2z"/>
<path fill="#f9d30a" d="M605 109h2v2h-2z"/>
<path fill="#f9c90a" d="M613 113h2v2h-2zM625 113h2v2h-2z"/>
</g></g>
<path d="M595.7 72.6 h-2.2 q-1.2 0 -1.2 1.6 v9.6 q0 1.6 1.2 1.6 h2.2" fill="#6f9a60" fill-opacity="0.35" stroke="#111" stroke-width="0.9"/>
<path d="M642.7 72.6 h2.2 q1.2 0 1.2 1.6 v9.6 q0 1.6 -1.2 1.6 h-2.2" fill="#6f9a60" fill-opacity="0.35" stroke="#111" stroke-width="0.9"/>
<path d="M614.4 55.6 Q617.0 52.8 619.2 50.6 Q621.4 52.8 624.0 55.6" fill="none" stroke="#111" stroke-width="0.9"/>
<circle cx="619.2" cy="78.8" r="23.8" fill="none" stroke="#111" stroke-width="1"/>
<g clip-path="url(#clip_c)"><g filter="url(#tblur)">
<path fill="#f9d10a" d="M262 311h2v2h-2zM248 321h2v2h-2zM244 327h2v2h-2zM240 335h2v2h-2zM244 365h2v2h-2zM268 375h2v2h-2zM270 375h2v2h-2zM272 375h2v2h-2z"/>
<path fill="#f9d60a" d="M264 311h2v2h-2zM240 337h2v2h-2zM282 375h2v2h-2z"/>
<path fill="#f9db0a" d="M266 311h2v2h-2zM240 339h2v2h-2zM240 353h2v2h-2zM244 363h2v2h-2z"/>
<path fill="#f9de0a" d="M268 311h2v2h-2zM240 341h2v2h-2zM240 351h2v2h-2zM250 369h2v2h-2zM296 369h2v2h-2zM260 373h2v2h-2zM288 373h2v2h-2z"/>
<path fill="#f9e00a" d="M270 311h2v2h-2zM240 343h2v2h-2zM240 345h2v2h-2zM240 349h2v2h-2zM248 367h2v2h-2z"/>
<path fill="#f9e10a" d="M272 311h2v2h-2zM254 317h2v2h-2zM250 321h2v2h-2zM240 347h2v2h-2z"/>
<path fill="#f9e20a" d="M274 311h2v2h-2zM262 373h2v2h-2z"/>
<path fill="#f9e30a" d="M276 311h2v2h-2zM278 311h2v2h-2zM280 311h2v2h-2zM282 311h2v2h-2zM252 319h2v2h-2zM246 327h2v2h-2zM242 335h2v2h-2zM242 357h2v2h-2z"/>
<path fill="#f9d40a" d="M258 313h2v2h-2zM276 375h2v2h-2z"/>
<path fill="#f9dd0a" d="M260 313h2v2h-2zM248 323h2v2h-2z"/>
<path fill="#f9e60a" d="M262 313h2v2h-2zM244 331h2v2h-2z"/>
<path fill="#f9ec0a" d="M264 313h2v2h-2zM244 359h2v2h-2zM290 371h2v2h-2z"/>
<path fill="#f9f10a" d="M266 313h2v2h-2zM286 313h2v2h-2zM242 341h2v2h-2z"/>
<path fill="#f9f40a" d="M268 313h2v2h-2zM284 313h2v2h-2zM246 361h2v2h-2zM302 361h2v2h-2z"/>
<path fill="#f9f60a" d="M270 313h2v2h-2zM272 313h2v2h-2zM300 363h2v2h-2z"/>
<path fill="#f9f70a" d="M274 313h2v2h-2zM282 313h2v2h-2zM244 335h2v2h-2zM308 349h2v2h-2zM298 365h2v2h-2zM292 369h2v2h-2z"/>
<path fill="#f9f70b" d="M276 313h2v2h-2z"/>
<path fill="#f8f70b" d="M278 313h2v2h-2zM280 313h2v2h-2zM290 315h2v2h-2zM304 357h2v2h-2zM262 371h2v2h-2z"/>
<path fill="#f9ed0a" d="M288 313h2v2h-2zM242 353h2v2h-2zM248 365h2v2h-2zM250 367h2v2h-2zM258 371h2v2h-2zM274 373h2v2h-2z"/>
<path fill="#f9d00a" d="M254 315h2v2h-2zM266 375h2v2h-2z"/>
<path fill="#f9dc0a" d="M256 315h2v2h-2zM244 329h2v2h-2zM242 333h2v2h-2zM242 359h2v2h-2z"/>
<path fill="#f9e80a" d="M258 315h2v2h-2zM242 355h2v2h-2zM300 365h2v2h-2zM252 369h2v2h-2zM286 373h2v2h-2z"/>
<path fill="#f9f30a" d="M260 315h2v2h-2zM242 345h2v2h-2zM242 347h2v2h-2zM244 357h2v2h-2zM296 367h2v2h-2zM260 371h2v2h-2zM280 373h2v2h-2z"/>
<path fill="#f4f70f" d="M262 315h2v2h-2zM258 317h2v2h-2zM250 325h2v2h-2zM246 359h2v2h-2zM264 371h2v2h-2z"/>
<path fill="#edf716" d="M264 315h2v2h-2zM286 315h2v2h-2zM246 333h2v2h-2zM308 341h2v2h-2zM300 361h2v2h-2zM270 371h2v2h-2z"/>
<path fill="#e7f71c" d="M266 315h2v2h-2zM250 327h2v2h-2zM304 329h2v2h-2zM252 365h2v2h-2zM260 369h2v2h-2z"/>
<path fill="#e3f720" d="M268 315h2v2h-2zM298 323h2v2h-2zM300 325h2v2h-2zM248 331h2v2h-2zM248 359h2v2h-2z"/>
<path fill="#e2f721" d="M270 315h2v2h-2zM272 315h2v2h-2zM274 315h2v2h-2zM280 315h2v2h-2zM306 343h2v2h-2zM302 355h2v2h-2zM300 359h2v2h-2zM256 367h2v2h-2zM262 369h2v2h-2z"/>
<path fill="#e1f722" d="M276 315h2v2h-2zM278 315h2v2h-2zM304 331h2v2h-2zM306 337h2v2h-2zM280 371h2v2h-2z"/>
<path fill="#e5f71f" d="M282 315h2v2h-2z"/>
<path fill="#e8f71b" d="M284 315h2v2h-2zM290 317h2v2h-2zM306 347h2v2h-2zM250 363h2v2h-2zM274 371h2v2h-2z"/>
<path fill="#f2f711" d="M288 315h2v2h-2zM244 353h2v2h-2zM302 359h2v2h-2z"/>
<path fill="#f9c40a" d="M250 317h2v2h-2zM248 319h2v2h-2zM238 337h2v2h-2z"/>
<path fill="#f9d30a" d="M252 317h2v2h-2zM250 319h2v2h-2zM242 331h2v2h-2zM240 357h2v2h-2zM246 367h2v2h-2zM294 371h2v2h-2zM256 373h2v2h-2zM290 373h2v2h-2zM284 375h2v2h-2z"/>
<path fill="#f9ef0a" d="M256 317h2v2h-2zM250 323h2v2h-2zM244 333h2v2h-2zM304 359h2v2h-2zM276 373h2v2h-2z"/>
<path fill="#e8f71c" d="M260 317h2v2h-2zM306 333h2v2h-2z"/>
<path fill="#ddf726" d="M262 317h2v2h-2z"/>
<path fill="#d4f72f" d="M264 317h2v2h-2zM270 369h2v2h-2z"/>
<path fill="#cdf736" d="M266 317h2v2h-2zM250 331h2v2h-2zM252 361h2v2h-2zM262 367h2v2h-2zM274 369h2v2h-2z"/>
<path fill="#c8f73b" d="M268 317h2v2h-2zM278 317h2v2h-2zM290 321h2v2h-2zM256 323h2v2h-2zM248 337h2v2h-2zM264 367h2v2h-2z"/>
<path fill="#c6f73d" d="M270 317h2v2h-2zM272 317h2v2h-2zM274 317h2v2h-2zM276 317h2v2h-2zM286 319h2v2h-2zM298 329h2v2h-2zM302 339h2v2h-2zM302 341h2v2h-2zM248 349h2v2h-2zM258 365h2v2h-2z"/>
<path fill="#caf739" d="M280 317h2v2h-2zM258 321h2v2h-2zM300 331h2v2h-2zM248 351h2v2h-2zM296 361h2v2h-2zM276 369h2v2h-2z"/>
<path fill="#cef735" d="M282 317h2v2h-2zM296 325h2v2h-2zM286 369h2v2h-2z"/>
<path fill="#d3f730" d="M284 317h2v2h-2zM304 339h2v2h-2zM304 341h2v2h-2zM300 355h2v2h-2zM250 359h2v2h-2zM260 367h2v2h-2z"/>
<path fill="#daf72a" d="M286 317h2v2h-2zM300 327h2v2h-2zM258 367h2v2h-2z"/>
<path fill="#e0f723" d="M288 317h2v2h-2zM292 319h2v2h-2zM252 325h2v2h-2zM306 339h2v2h-2zM306 341h2v2h-2zM246 353h2v2h-2z"/>
<path fill="#eff714" d="M292 317h2v2h-2zM248 329h2v2h-2zM308 343h2v2h-2zM268 371h2v2h-2z"/>
<path fill="#f7f70d" d="M294 317h2v2h-2z"/>
<path fill="#f9f20a" d="M254 319h2v2h-2zM252 321h2v2h-2zM242 343h2v2h-2zM242 349h2v2h-2zM306 355h2v2h-2zM254 369h2v2h-2zM278 373h2v2h-2zM282 373h2v2h-2z"/>
<path fill="#eef715" d="M256 319h2v2h-2zM298 321h2v2h-2zM244 339h2v2h-2zM244 351h2v2h-2zM294 367h2v2h-2zM258 369h2v2h-2z"/>
<path fill="#dff724" d="M258 319h2v2h-2zM304 349h2v2h-2z"/>
<path fill="#d1f732" d="M260 319h2v2h-2zM300 329h2v2h-2zM302 349h2v2h-2zM298 359h2v2h-2zM272 369h2v2h-2z"/>
<path fill="#c4f73f" d="M262 319h2v2h-2zM292 323h2v2h-2zM296 327h2v2h-2zM252 329h2v2h-2zM250 355h2v2h-2zM266 367h2v2h-2zM282 369h2v2h-2z"/>
<path fill="#b9f74a" d="M264 319h2v2h-2zM300 343h2v2h-2zM250 351h2v2h-2z"/>
<path fill="#b1f752" d="M266 319h2v2h-2zM280 319h2v2h-2zM296 331h2v2h-2zM298 335h2v2h-2zM250 337h2v2h-2zM296 355h2v2h-2zM292 363h2v2h-2zM290 365h2v2h-2zM276 367h2v2h-2z"/>
<path fill="#acf758" d="M268 319h2v2h-2zM298 343h2v2h-2z"/>
<path fill="#a8f75b" d="M270 319h2v2h-2zM274 319h2v2h-2zM256 359h2v2h-2zM262 363h2v2h-2z"/>
<path fill="#a8f75c" d="M272 319h2v2h-2z"/>
<path fill="#aaf759" d="M276 319h2v2h-2zM290 325h2v2h-2zM252 333h2v2h-2zM296 333h2v2h-2zM280 367h2v2h-2zM284 367h2v2h-2z"/>
<path fill="#adf756" d="M278 319h2v2h-2zM254 329h2v2h-2zM298 337h2v2h-2zM250 339h2v2h-2zM250 345h2v2h-2zM254 357h2v2h-2zM278 367h2v2h-2z"/>
<path fill="#b7f74c" d="M282 319h2v2h-2zM292 325h2v2h-2zM298 333h2v2h-2zM296 357h2v2h-2zM294 361h2v2h-2z"/>
<path fill="#bef745" d="M284 319h2v2h-2zM298 331h2v2h-2zM300 335h2v2h-2zM250 353h2v2h-2z"/>
<path fill="#cff734" d="M288 319h2v2h-2zM294 323h2v2h-2zM298 327h2v2h-2zM302 333h2v2h-2zM248 335h2v2h-2zM248 353h2v2h-2z"/>
<path fill="#d7f72c" d="M290 319h2v2h-2zM304 335h2v2h-2zM304 345h2v2h-2zM268 369h2v2h-2z"/>
<path fill="#e9f71a" d="M294 319h2v2h-2zM296 365h2v2h-2z"/>
<path fill="#f1f712" d="M296 319h2v2h-2zM308 345h2v2h-2zM306 351h2v2h-2zM304 355h2v2h-2zM266 371h2v2h-2z"/>
<path fill="#f9c10a" d="M246 321h2v2h-2zM242 327h2v2h-2z"/>
<path fill="#ecf717" d="M254 321h2v2h-2zM300 323h2v2h-2zM302 325h2v2h-2zM244 349h2v2h-2zM306 349h2v2h-2zM246 357h2v2h-2zM248 361h2v2h-2zM254 367h2v2h-2zM286 371h2v2h-2z"/>
<path fill="#dbf728" d="M256 321h2v2h-2zM254 323h2v2h-2zM248 357h2v2h-2zM254 365h2v2h-2z"/>
<path fill="#baf74a" d="M260 321h2v2h-2zM262 365h2v2h-2z"/>
<path fill="#abf758" d="M262 321h2v2h-2zM292 327h2v2h-2zM298 339h2v2h-2zM250 341h2v2h-2zM298 341h2v2h-2zM250 343h2v2h-2z"/>
<path fill="#9ef765" d="M264 321h2v2h-2zM254 331h2v2h-2zM296 339h2v2h-2zM296 343h2v2h-2zM252 347h2v2h-2zM274 365h2v2h-2z"/>
<path fill="#95f76f" d="M266 321h2v2h-2z"/>
<path fill="#8ef776" d="M268 321h2v2h-2z"/>
<path fill="#8af77a" d="M270 321h2v2h-2z"/>
<path fill="#88f77b" d="M272 321h2v2h-2zM282 323h2v2h-2zM292 335h2v2h-2zM256 349h2v2h-2zM290 359h2v2h-2zM276 363h2v2h-2z"/>
<path fill="#89f77a" d="M274 321h2v2h-2zM254 335h2v2h-2zM254 345h2v2h-2zM292 349h2v2h-2z"/>
<path fill="#8cf777" d="M276 321h2v2h-2zM260 325h2v2h-2zM268 361h2v2h-2zM274 363h2v2h-2z"/>
<path fill="#91f772" d="M278 321h2v2h-2z"/>
<path fill="#97f76c" d="M280 321h2v2h-2zM292 331h2v2h-2zM252 339h2v2h-2zM252 343h2v2h-2zM294 349h2v2h-2z"/>
<path fill="#9ff764" d="M282 321h2v2h-2zM266 363h2v2h-2zM288 365h2v2h-2z"/>
<path fill="#a9f75a" d="M284 321h2v2h-2zM252 351h2v2h-2zM296 351h2v2h-2zM282 367h2v2h-2z"/>
<path fill="#b3f750" d="M286 321h2v2h-2z"/>
<path fill="#bdf746" d="M288 321h2v2h-2zM298 353h2v2h-2z"/>
<path fill="#d2f731" d="M292 321h2v2h-2z"/>
<path fill="#dcf728" d="M294 321h2v2h-2zM304 333h2v2h-2z"/>
<path fill="#e5f71e" d="M296 321h2v2h-2zM246 335h2v2h-2zM276 371h2v2h-2zM284 371h2v2h-2z"/>
<path fill="#f9bc0a" d="M244 323h2v2h-2zM290 375h2v2h-2zM276 377h2v2h-2zM282 377h2v2h-2z"/>
<path fill="#f9cc0a" d="M246 323h2v2h-2zM238 341h2v2h-2zM242 363h2v2h-2zM262 375h2v2h-2z"/>
<path fill="#eff715" d="M252 323h2v2h-2z"/>
<path fill="#b5f74e" d="M258 323h2v2h-2zM252 355h2v2h-2zM254 359h2v2h-2zM258 363h2v2h-2zM264 365h2v2h-2z"/>
<path fill="#a3f761" d="M260 323h2v2h-2z"/>
<path fill="#92f771" d="M262 323h2v2h-2zM290 329h2v2h-2zM254 333h2v2h-2zM294 337h2v2h-2zM294 345h2v2h-2z"/>
<path fill="#84f780" d="M264 323h2v2h-2z"/>
<path fill="#78f78b" d="M266 323h2v2h-2zM260 327h2v2h-2zM268 357h2v2h-2zM272 359h2v2h-2z"/>
<path fill="#6ff794" d="M268 323h2v2h-2zM276 323h2v2h-2zM276 359h2v2h-2z"/>
<path fill="#6bf799" d="M270 323h2v2h-2zM274 323h2v2h-2z"/>
<path fill="#69f79a" d="M272 323h2v2h-2zM280 359h2v2h-2z"/>
<path fill="#76f78e" d="M278 323h2v2h-2z"/>
<path fill="#7ef785" d="M280 323h2v2h-2zM286 327h2v2h-2zM290 351h2v2h-2zM274 361h2v2h-2z"/>
<path fill="#94f76f" d="M284 323h2v2h-2zM294 347h2v2h-2zM292 357h2v2h-2zM286 365h2v2h-2z"/>
<path fill="#a0f763" d="M286 323h2v2h-2zM296 337h2v2h-2zM294 355h2v2h-2zM260 361h2v2h-2z"/>
<path fill="#acf757" d="M288 323h2v2h-2zM294 359h2v2h-2zM268 365h2v2h-2z"/>
<path fill="#b9f74b" d="M290 323h2v2h-2z"/>
<path fill="#d9f72a" d="M296 323h2v2h-2zM246 339h2v2h-2zM246 349h2v2h-2zM252 363h2v2h-2z"/>
<path fill="#f9c70a" d="M244 325h2v2h-2zM238 355h2v2h-2z"/>
<path fill="#f9d80a" d="M246 325h2v2h-2zM240 355h2v2h-2z"/>
<path fill="#f9e90a" d="M248 325h2v2h-2zM242 337h2v2h-2zM268 373h2v2h-2z"/>
<path fill="#cbf738" d="M254 325h2v2h-2zM302 335h2v2h-2zM250 357h2v2h-2zM254 363h2v2h-2z"/>
<path fill="#b6f74d" d="M256 325h2v2h-2zM252 331h2v2h-2z"/>
<path fill="#a1f762" d="M258 325h2v2h-2zM292 329h2v2h-2zM252 335h2v2h-2zM254 353h2v2h-2z"/>
<path fill="#7af789" d="M262 325h2v2h-2zM256 333h2v2h-2zM260 351h2v2h-2zM288 359h2v2h-2zM276 361h2v2h-2z"/>
<path fill="#6af79a" d="M264 325h2v2h-2zM286 353h2v2h-2zM272 355h2v2h-2z"/>
<path fill="#5cf7a7" d="M266 325h2v2h-2zM286 333h2v2h-2zM278 353h2v2h-2zM280 353h2v2h-2z"/>
<path fill="#52f7b1" d="M268 325h2v2h-2zM274 347h2v2h-2z"/>
<path fill="#4df7b7" d="M270 325h2v2h-2z"/>
<path fill="#4bf7b8" d="M272 325h2v2h-2zM274 345h2v2h-2z"/>
<path fill="#4df7b6" d="M274 325h2v2h-2zM262 343h2v2h-2zM266 345h2v2h-2z"/>
<path fill="#53f7b0" d="M276 325h2v2h-2zM284 331h2v2h-2z"/>
<path fill="#5bf7a8" d="M278 325h2v2h-2zM264 347h2v2h-2zM282 351h2v2h-2z"/>
<path fill="#66f79d" d="M280 325h2v2h-2zM260 329h2v2h-2zM274 355h2v2h-2zM284 357h2v2h-2z"/>
<path fill="#73f791" d="M282 325h2v2h-2zM260 349h2v2h-2zM264 353h2v2h-2z"/>
<path fill="#80f783" d="M284 325h2v2h-2zM254 339h2v2h-2zM268 359h2v2h-2zM288 361h2v2h-2zM280 363h2v2h-2zM286 363h2v2h-2z"/>
<path fill="#8ef775" d="M286 325h2v2h-2zM258 327h2v2h-2zM288 327h2v2h-2zM292 333h2v2h-2z"/>
<path fill="#9df767" d="M288 325h2v2h-2zM294 353h2v2h-2z"/>
<path fill="#c3f740" d="M294 325h2v2h-2zM300 333h2v2h-2zM248 339h2v2h-2zM248 347h2v2h-2zM252 359h2v2h-2z"/>
<path fill="#d8f72b" d="M298 325h2v2h-2zM248 333h2v2h-2zM296 363h2v2h-2zM294 365h2v2h-2z"/>
<path fill="#f9f50a" d="M248 327h2v2h-2z"/>
<path fill="#d2f732" d="M252 327h2v2h-2z"/>
<path fill="#bbf748" d="M254 327h2v2h-2zM300 345h2v2h-2zM288 367h2v2h-2z"/>
<path fill="#a5f75f" d="M256 327h2v2h-2zM294 331h2v2h-2z"/>
<path fill="#64f79f" d="M262 327h2v2h-2zM288 339h2v2h-2zM258 343h2v2h-2zM264 349h2v2h-2zM268 351h2v2h-2zM272 353h2v2h-2zM284 355h2v2h-2z"/>
<path fill="#52f7b2" d="M264 327h2v2h-2z"/>
<path fill="#42f7c1" d="M266 327h2v2h-2zM272 343h2v2h-2zM280 343h2v2h-2z"/>
<path fill="#37f7cc" d="M268 327h2v2h-2zM262 333h2v2h-2z"/>
<path fill="#31f7d2" d="M270 327h2v2h-2zM268 341h2v2h-2zM270 341h2v2h-2zM274 341h2v2h-2zM276 341h2v2h-2z"/>
<path fill="#2ff7d4" d="M272 327h2v2h-2zM278 329h2v2h-2z"/>
<path fill="#32f7d1" d="M274 327h2v2h-2zM272 341h2v2h-2z"/>
<path fill="#39f7ca" d="M276 327h2v2h-2zM280 341h2v2h-2z"/>
<path fill="#44f7c0" d="M278 327h2v2h-2z"/>
<path fill="#50f7b3" d="M280 327h2v2h-2zM262 329h2v2h-2zM276 347h2v2h-2zM280 347h2v2h-2z"/>
<path fill="#5ff7a4" d="M282 327h2v2h-2zM284 329h2v2h-2zM286 345h2v2h-2zM272 351h2v2h-2zM280 355h2v2h-2z"/>
<path fill="#6ef795" d="M284 327h2v2h-2zM258 331h2v2h-2zM288 333h2v2h-2zM256 341h2v2h-2zM266 353h2v2h-2z"/>
<path fill="#9df766" d="M290 327h2v2h-2zM294 333h2v2h-2zM296 341h2v2h-2zM258 359h2v2h-2zM290 363h2v2h-2z"/>
<path fill="#b8f74b" d="M294 327h2v2h-2zM250 335h2v2h-2zM300 339h2v2h-2zM300 341h2v2h-2zM298 351h2v2h-2zM272 367h2v2h-2z"/>
<path fill="#e4f71f" d="M302 327h2v2h-2zM306 335h2v2h-2zM306 345h2v2h-2zM304 351h2v2h-2z"/>
<path fill="#f9ba0a" d="M240 329h2v2h-2zM254 375h2v2h-2zM266 377h2v2h-2zM268 377h2v2h-2zM270 377h2v2h-2zM272 377h2v2h-2zM274 377h2v2h-2z"/>
<path fill="#f9ca0a" d="M242 329h2v2h-2zM240 333h2v2h-2z"/>
<path fill="#f9ee0a" d="M246 329h2v2h-2zM242 339h2v2h-2zM284 373h2v2h-2z"/>
<path fill="#daf729" d="M250 329h2v2h-2zM304 347h2v2h-2zM300 357h2v2h-2zM266 369h2v2h-2zM288 369h2v2h-2z"/>
<path fill="#95f76e" d="M256 329h2v2h-2zM254 349h2v2h-2zM256 353h2v2h-2zM260 359h2v2h-2zM264 361h2v2h-2zM270 363h2v2h-2z"/>
<path fill="#7df786" d="M258 329h2v2h-2zM258 349h2v2h-2zM284 363h2v2h-2z"/>
<path fill="#3df7c6" d="M264 329h2v2h-2z"/>
<path fill="#2cf7d7" d="M266 329h2v2h-2z"/>
<path fill="#20f7e3" d="M268 329h2v2h-2zM278 331h2v2h-2zM268 339h2v2h-2z"/>
<path fill="#19f7eb" d="M270 329h2v2h-2z"/>
<path fill="#17f7ec" d="M272 329h2v2h-2zM278 333h2v2h-2z"/>
<path fill="#1bf7e8" d="M274 329h2v2h-2z"/>
<path fill="#24f7e0" d="M276 329h2v2h-2z"/>
<path fill="#3ef7c5" d="M280 329h2v2h-2z"/>
<path fill="#4ef7b5" d="M282 329h2v2h-2z"/>
<path fill="#70f793" d="M286 329h2v2h-2zM288 349h2v2h-2zM268 355h2v2h-2zM272 357h2v2h-2zM286 359h2v2h-2z"/>
<path fill="#81f782" d="M288 329h2v2h-2zM254 341h2v2h-2zM292 341h2v2h-2zM256 347h2v2h-2zM290 355h2v2h-2zM264 357h2v2h-2z"/>
<path fill="#aef755" d="M294 329h2v2h-2zM260 363h2v2h-2z"/>
<path fill="#baf749" d="M296 329h2v2h-2zM300 337h2v2h-2z"/>
<path fill="#dcf727" d="M302 329h2v2h-2zM246 351h2v2h-2zM302 353h2v2h-2zM298 361h2v2h-2z"/>
<path fill="#f9c20a" d="M240 331h2v2h-2z"/>
<path fill="#f7f70c" d="M246 331h2v2h-2zM244 355h2v2h-2zM248 363h2v2h-2zM252 367h2v2h-2zM288 371h2v2h-2z"/>
<path fill="#86f77d" d="M256 331h2v2h-2zM292 347h2v2h-2zM262 357h2v2h-2z"/>
<path fill="#57f7ac" d="M260 331h2v2h-2zM286 335h2v2h-2zM258 337h2v2h-2zM260 343h2v2h-2zM262 345h2v2h-2zM266 347h2v2h-2z"/>
<path fill="#41f7c2" d="M262 331h2v2h-2zM282 331h2v2h-2zM282 341h2v2h-2zM266 343h2v2h-2zM270 343h2v2h-2z"/>
<path fill="#2df7d6" d="M264 331h2v2h-2z"/>
<path fill="#1cf7e8" d="M266 331h2v2h-2z"/>
<path fill="#0ef7f5" d="M268 331h2v2h-2zM274 337h2v2h-2z"/>
<path fill="#0af3f9" d="M270 331h2v2h-2zM272 331h2v2h-2z"/>
<path fill="#0af7f9" d="M274 331h2v2h-2zM276 333h2v2h-2zM276 335h2v2h-2z"/>
<path fill="#13f7f0" d="M276 331h2v2h-2z"/>
<path fill="#30f7d4" d="M280 331h2v2h-2z"/>
<path fill="#65f79e" d="M286 331h2v2h-2zM288 337h2v2h-2zM288 341h2v2h-2zM278 357h2v2h-2z"/>
<path fill="#76f78d" d="M288 331h2v2h-2zM288 357h2v2h-2zM278 361h2v2h-2zM286 361h2v2h-2z"/>
<path fill="#87f77c" d="M290 331h2v2h-2zM260 355h2v2h-2zM270 361h2v2h-2z"/>
<path fill="#d5f72e" d="M302 331h2v2h-2zM246 343h2v2h-2zM246 345h2v2h-2zM248 355h2v2h-2z"/>
<path fill="#c2f741" d="M250 333h2v2h-2zM300 349h2v2h-2zM298 355h2v2h-2z"/>
<path fill="#62f7a1" d="M258 333h2v2h-2zM284 353h2v2h-2z"/>
<path fill="#4cf7b7" d="M260 333h2v2h-2zM284 341h2v2h-2zM268 345h2v2h-2zM270 345h2v2h-2zM272 345h2v2h-2z"/>
<path fill="#24f7df" d="M264 333h2v2h-2z"/>
<path fill="#13f7f1" d="M266 333h2v2h-2z"/>
<path fill="#0af2f9" d="M268 333h2v2h-2z"/>
<path fill="#0aeaf9" d="M270 333h2v2h-2zM272 333h2v2h-2z"/>
<path fill="#0aeff9" d="M274 333h2v2h-2z"/>
<path fill="#27f7dc" d="M280 333h2v2h-2zM278 339h2v2h-2z"/>
<path fill="#38f7cb" d="M282 333h2v2h-2z"/>
<path fill="#4af7b9" d="M284 333h2v2h-2zM280 345h2v2h-2z"/>
<path fill="#7ff784" d="M290 333h2v2h-2zM290 353h2v2h-2zM262 355h2v2h-2z"/>
<path fill="#f9bf0a" d="M238 335h2v2h-2z"/>
<path fill="#71f792" d="M256 335h2v2h-2zM284 361h2v2h-2z"/>
<path fill="#5af7a9" d="M258 335h2v2h-2zM284 347h2v2h-2zM272 349h2v2h-2zM276 351h2v2h-2z"/>
<path fill="#46f7be" d="M260 335h2v2h-2zM264 343h2v2h-2z"/>
<path fill="#33f7d0" d="M262 335h2v2h-2z"/>
<path fill="#21f7e2" d="M264 335h2v2h-2z"/>
<path fill="#12f7f1" d="M266 335h2v2h-2z"/>
<path fill="#0af4f9" d="M268 335h2v2h-2z"/>
<path fill="#0aedf9" d="M270 335h2v2h-2zM272 335h2v2h-2z"/>
<path fill="#0af1f9" d="M274 335h2v2h-2z"/>
<path fill="#16f7ed" d="M278 335h2v2h-2z"/>
<path fill="#25f7de" d="M280 335h2v2h-2z"/>
<path fill="#35f7ce" d="M282 335h2v2h-2z"/>
<path fill="#46f7bd" d="M284 335h2v2h-2z"/>
<path fill="#68f79b" d="M288 335h2v2h-2zM288 343h2v2h-2zM286 351h2v2h-2zM276 357h2v2h-2zM282 359h2v2h-2z"/>
<path fill="#79f78b" d="M290 335h2v2h-2z"/>
<path fill="#96f76d" d="M294 335h2v2h-2zM252 341h2v2h-2zM258 357h2v2h-2zM278 365h2v2h-2z"/>
<path fill="#a4f75f" d="M296 335h2v2h-2zM252 349h2v2h-2z"/>
<path fill="#f3f710" d="M244 337h2v2h-2z"/>
<path fill="#def725" d="M246 337h2v2h-2zM292 367h2v2h-2zM264 369h2v2h-2z"/>
<path fill="#9af769" d="M252 337h2v2h-2zM252 345h2v2h-2zM294 351h2v2h-2zM256 355h2v2h-2zM292 359h2v2h-2zM262 361h2v2h-2zM268 363h2v2h-2zM276 365h2v2h-2z"/>
<path fill="#83f780" d="M254 337h2v2h-2z"/>
<path fill="#6cf797" d="M256 337h2v2h-2zM258 345h2v2h-2zM264 351h2v2h-2zM274 357h2v2h-2zM286 357h2v2h-2zM278 359h2v2h-2z"/>
<path fill="#44f7bf" d="M260 337h2v2h-2z"/>
<path fill="#34f7cf" d="M262 337h2v2h-2z"/>
<path fill="#26f7de" d="M264 337h2v2h-2zM266 339h2v2h-2z"/>
<path fill="#1af7e9" d="M266 337h2v2h-2z"/>
<path fill="#11f7f2" d="M268 337h2v2h-2z"/>
<path fill="#0df7f6" d="M270 337h2v2h-2z"/>
<path fill="#0cf7f7" d="M272 337h2v2h-2z"/>
<path fill="#14f7f0" d="M276 337h2v2h-2z"/>
<path fill="#1cf7e7" d="M278 337h2v2h-2z"/>
<path fill="#28f7db" d="M280 337h2v2h-2z"/>
<path fill="#36f7cd" d="M282 337h2v2h-2z"/>
<path fill="#45f7be" d="M284 337h2v2h-2z"/>
<path fill="#55f7ae" d="M286 337h2v2h-2zM270 347h2v2h-2zM278 349h2v2h-2zM280 349h2v2h-2z"/>
<path fill="#75f78e" d="M290 337h2v2h-2zM288 355h2v2h-2z"/>
<path fill="#84f77f" d="M292 337h2v2h-2zM254 343h2v2h-2zM292 345h2v2h-2zM258 351h2v2h-2zM290 357h2v2h-2zM278 363h2v2h-2z"/>
<path fill="#c7f73c" d="M302 337h2v2h-2zM302 343h2v2h-2zM300 351h2v2h-2zM278 369h2v2h-2zM284 369h2v2h-2z"/>
<path fill="#d5f72f" d="M304 337h2v2h-2zM304 343h2v2h-2z"/>
<path fill="#f9c80a" d="M238 339h2v2h-2zM292 373h2v2h-2z"/>
<path fill="#6bf798" d="M256 339h2v2h-2zM286 355h2v2h-2z"/>
<path fill="#58f7ab" d="M258 339h2v2h-2zM286 341h2v2h-2zM274 349h2v2h-2zM282 349h2v2h-2z"/>
<path fill="#48f7bb" d="M260 339h2v2h-2zM284 339h2v2h-2zM282 343h2v2h-2zM278 345h2v2h-2z"/>
<path fill="#3af7c9" d="M262 339h2v2h-2z"/>
<path fill="#2ef7d5" d="M264 339h2v2h-2z"/>
<path fill="#1ef7e5" d="M270 339h2v2h-2zM272 339h2v2h-2z"/>
<path fill="#1ff7e4" d="M274 339h2v2h-2z"/>
<path fill="#22f7e1" d="M276 339h2v2h-2z"/>
<path fill="#30f7d3" d="M280 339h2v2h-2z"/>
<path fill="#3bf7c8" d="M282 339h2v2h-2z"/>
<path fill="#56f7ad" d="M286 339h2v2h-2zM284 345h2v2h-2zM276 349h2v2h-2z"/>
<path fill="#73f790" d="M290 339h2v2h-2zM290 341h2v2h-2zM256 343h2v2h-2zM288 353h2v2h-2zM274 359h2v2h-2z"/>
<path fill="#82f781" d="M292 339h2v2h-2zM292 343h2v2h-2zM272 361h2v2h-2z"/>
<path fill="#90f773" d="M294 339h2v2h-2zM294 343h2v2h-2zM258 355h2v2h-2zM292 355h2v2h-2zM266 361h2v2h-2zM290 361h2v2h-2zM272 363h2v2h-2zM282 365h2v2h-2zM284 365h2v2h-2z"/>
<path fill="#ebf718" d="M244 341h2v2h-2zM272 371h2v2h-2z"/>
<path fill="#d6f72d" d="M246 341h2v2h-2zM302 351h2v2h-2z"/>
<path fill="#c1f742" d="M248 341h2v2h-2zM248 345h2v2h-2z"/>
<path fill="#5df7a6" d="M258 341h2v2h-2zM268 349h2v2h-2zM274 351h2v2h-2z"/>
<path fill="#4ff7b5" d="M260 341h2v2h-2z"/>
<path fill="#43f7c0" d="M262 341h2v2h-2z"/>
<path fill="#3af7ca" d="M264 341h2v2h-2z"/>
<path fill="#34f7d0" d="M266 341h2v2h-2zM278 341h2v2h-2z"/>
<path fill="#8ff774" d="M294 341h2v2h-2zM254 347h2v2h-2zM256 351h2v2h-2zM262 359h2v2h-2z"/>
<path fill="#f9ce0a" d="M238 343h2v2h-2z"/>
<path fill="#eaf719" d="M244 343h2v2h-2zM244 347h2v2h-2zM304 353h2v2h-2zM302 357h2v2h-2zM290 369h2v2h-2z"/>
<path fill="#c0f743" d="M248 343h2v2h-2zM268 367h2v2h-2z"/>
<path fill="#40f7c3" d="M268 343h2v2h-2z"/>
<path fill="#41f7c3" d="M274 343h2v2h-2z"/>
<path fill="#3ff7c4" d="M276 343h2v2h-2zM278 343h2v2h-2z"/>
<path fill="#51f7b2" d="M284 343h2v2h-2zM264 345h2v2h-2z"/>
<path fill="#5cf7a8" d="M286 343h2v2h-2zM270 349h2v2h-2z"/>
<path fill="#75f78f" d="M290 343h2v2h-2z"/>
<path fill="#f9cf0a" d="M238 345h2v2h-2zM238 347h2v2h-2zM238 349h2v2h-2zM264 375h2v2h-2z"/>
<path fill="#eaf71a" d="M244 345h2v2h-2zM298 363h2v2h-2z"/>
<path fill="#7af78a" d="M256 345h2v2h-2z"/>
<path fill="#61f7a3" d="M260 345h2v2h-2z"/>
<path fill="#49f7ba" d="M276 345h2v2h-2z"/>
<path fill="#4ff7b4" d="M282 345h2v2h-2zM278 347h2v2h-2z"/>
<path fill="#6af799" d="M288 345h2v2h-2zM260 347h2v2h-2zM262 349h2v2h-2zM268 353h2v2h-2zM284 359h2v2h-2z"/>
<path fill="#77f78c" d="M290 345h2v2h-2z"/>
<path fill="#a0f764" d="M296 345h2v2h-2z"/>
<path fill="#aef756" d="M298 345h2v2h-2z"/>
<path fill="#c9f73a" d="M302 345h2v2h-2zM298 357h2v2h-2z"/>
<path fill="#d7f72d" d="M246 347h2v2h-2z"/>
<path fill="#b0f753" d="M250 347h2v2h-2zM298 347h2v2h-2zM266 365h2v2h-2z"/>
<path fill="#74f78f" d="M258 347h2v2h-2zM266 355h2v2h-2z"/>
<path fill="#61f7a2" d="M262 347h2v2h-2zM274 353h2v2h-2z"/>
<path fill="#56f7ae" d="M268 347h2v2h-2z"/>
<path fill="#54f7af" d="M272 347h2v2h-2zM282 347h2v2h-2z"/>
<path fill="#63f7a0" d="M286 347h2v2h-2zM280 357h2v2h-2zM282 357h2v2h-2z"/>
<path fill="#6df796" d="M288 347h2v2h-2zM270 355h2v2h-2z"/>
<path fill="#79f78a" d="M290 347h2v2h-2zM262 353h2v2h-2zM264 355h2v2h-2z"/>
<path fill="#a2f761" d="M296 347h2v2h-2zM272 365h2v2h-2z"/>
<path fill="#bff745" d="M300 347h2v2h-2z"/>
<path fill="#cdf737" d="M302 347h2v2h-2zM300 353h2v2h-2z"/>
<path fill="#f5f70e" d="M308 347h2v2h-2zM250 365h2v2h-2zM256 369h2v2h-2z"/>
<path fill="#b4f74f" d="M250 349h2v2h-2zM298 349h2v2h-2zM274 367h2v2h-2z"/>
<path fill="#60f7a3" d="M266 349h2v2h-2zM284 351h2v2h-2zM278 355h2v2h-2zM282 355h2v2h-2z"/>
<path fill="#5ef7a5" d="M284 349h2v2h-2zM276 353h2v2h-2zM282 353h2v2h-2z"/>
<path fill="#66f79e" d="M286 349h2v2h-2z"/>
<path fill="#7cf788" d="M290 349h2v2h-2z"/>
<path fill="#a5f75e" d="M296 349h2v2h-2zM294 357h2v2h-2z"/>
<path fill="#f9cd0a" d="M238 351h2v2h-2zM240 359h2v2h-2zM250 371h2v2h-2zM254 373h2v2h-2zM286 375h2v2h-2z"/>
<path fill="#f9f00a" d="M242 351h2v2h-2z"/>
<path fill="#9bf768" d="M254 351h2v2h-2z"/>
<path fill="#72f791" d="M262 351h2v2h-2zM288 351h2v2h-2zM280 361h2v2h-2z"/>
<path fill="#67f79c" d="M266 351h2v2h-2zM270 353h2v2h-2z"/>
<path fill="#62f7a2" d="M270 351h2v2h-2z"/>
<path fill="#59f7aa" d="M278 351h2v2h-2zM280 351h2v2h-2z"/>
<path fill="#8bf778" d="M292 351h2v2h-2zM288 363h2v2h-2z"/>
<path fill="#f9cb0a" d="M238 353h2v2h-2z"/>
<path fill="#aff754" d="M252 353h2v2h-2zM286 367h2v2h-2z"/>
<path fill="#8af779" d="M258 353h2v2h-2zM264 359h2v2h-2z"/>
<path fill="#81f783" d="M260 353h2v2h-2z"/>
<path fill="#8df776" d="M292 353h2v2h-2zM260 357h2v2h-2z"/>
<path fill="#adf757" d="M296 353h2v2h-2z"/>
<path fill="#f8f70c" d="M306 353h2v2h-2z"/>
<path fill="#e6f71d" d="M246 355h2v2h-2z"/>
<path fill="#a7f75c" d="M254 355h2v2h-2zM258 361h2v2h-2zM270 365h2v2h-2z"/>
<path fill="#63f7a1" d="M276 355h2v2h-2z"/>
<path fill="#f9c30a" d="M238 357h2v2h-2zM242 365h2v2h-2zM248 371h2v2h-2z"/>
<path fill="#bcf748" d="M252 357h2v2h-2z"/>
<path fill="#a1f763" d="M256 357h2v2h-2z"/>
<path fill="#7cf787" d="M266 357h2v2h-2zM270 359h2v2h-2z"/>
<path fill="#74f790" d="M270 357h2v2h-2z"/>
<path fill="#f9ea0a" d="M306 357h2v2h-2zM246 363h2v2h-2zM294 369h2v2h-2zM270 373h2v2h-2z"/>
<path fill="#85f77e" d="M266 359h2v2h-2z"/>
<path fill="#bff744" d="M296 359h2v2h-2zM254 361h2v2h-2zM256 363h2v2h-2zM260 365h2v2h-2z"/>
<path fill="#f9c60a" d="M240 361h2v2h-2zM244 367h2v2h-2zM246 369h2v2h-2z"/>
<path fill="#f9d50a" d="M242 361h2v2h-2z"/>
<path fill="#f9e40a" d="M244 361h2v2h-2z"/>
<path fill="#ddf727" d="M250 361h2v2h-2z"/>
<path fill="#b2f752" d="M256 361h2v2h-2z"/>
<path fill="#71f793" d="M282 361h2v2h-2z"/>
<path fill="#a3f760" d="M292 361h2v2h-2zM264 363h2v2h-2z"/>
<path fill="#f9e50a" d="M304 361h2v2h-2zM298 367h2v2h-2zM264 373h2v2h-2z"/>
<path fill="#7ef786" d="M282 363h2v2h-2z"/>
<path fill="#c5f73e" d="M294 363h2v2h-2zM292 365h2v2h-2zM280 369h2v2h-2z"/>
<path fill="#f9e70a" d="M302 363h2v2h-2zM256 371h2v2h-2zM266 373h2v2h-2z"/>
<path fill="#f9df0a" d="M246 365h2v2h-2zM254 371h2v2h-2zM292 371h2v2h-2z"/>
<path fill="#d0f734" d="M256 365h2v2h-2z"/>
<path fill="#93f770" d="M280 365h2v2h-2z"/>
<path fill="#f9da0a" d="M302 365h2v2h-2z"/>
<path fill="#bcf747" d="M270 367h2v2h-2z"/>
<path fill="#ccf737" d="M290 367h2v2h-2z"/>
<path fill="#f9d70a" d="M300 367h2v2h-2zM252 371h2v2h-2zM278 375h2v2h-2zM280 375h2v2h-2z"/>
<path fill="#f9d20a" d="M248 369h2v2h-2zM298 369h2v2h-2zM274 375h2v2h-2z"/>
<path fill="#e3f721" d="M278 371h2v2h-2z"/>
<path fill="#e2f722" d="M282 371h2v2h-2z"/>
<path fill="#f9c90a" d="M296 371h2v2h-2zM260 375h2v2h-2z"/>
<path fill="#f9bd0a" d="M250 373h2v2h-2zM278 377h2v2h-2z"/>
<path fill="#f9c50a" d="M252 373h2v2h-2zM258 375h2v2h-2zM288 375h2v2h-2z"/>
<path fill="#f9d90a" d="M258 373h2v2h-2z"/>
<path fill="#f9eb0a" d="M272 373h2v2h-2z"/>
<path fill="#f9be0a" d="M294 373h2v2h-2zM280 377h2v2h-2z"/>
<path fill="#f9b30a" d="M252 375h2v2h-2zM292 375h2v2h-2z"/>
<path fill="#f9c00a" d="M256 375h2v2h-2z"/>
<path fill="#f9ad0a" d="M256 377h2v2h-2z"/>
<path fill="#f9b10a" d="M258 377h2v2h-2z"/>
<path fill="#f9b40a" d="M260 377h2v2h-2zM286 377h2v2h-2z"/>
<path fill="#f9b70a" d="M262 377h2v2h-2z"/>
<path fill="#f9b90a" d="M264 377h2v2h-2zM284 377h2v2h-2z"/>
<path fill="#f9ae0a" d="M288 377h2v2h-2z"/>
<path fill="#f9a10a" d="M260 379h2v2h-2z"/>
<path fill="#f9a30a" d="M262 379h2v2h-2z"/>
<path fill="#f9a40a" d="M264 379h2v2h-2zM272 379h2v2h-2zM282 379h2v2h-2z"/>
<path fill="#f9a50a" d="M266 379h2v2h-2zM268 379h2v2h-2zM270 379h2v2h-2zM274 379h2v2h-2zM276 379h2v2h-2z"/>
<path fill="#f9a60a" d="M278 379h2v2h-2zM280 379h2v2h-2z"/>
<path fill="#f9a20a" d="M284 379h2v2h-2z"/>
<path fill="#f9910a" d="M266 381h2v2h-2zM268 381h2v2h-2zM270 381h2v2h-2z"/>
<path fill="#f9900a" d="M272 381h2v2h-2zM274 381h2v2h-2zM276 381h2v2h-2zM278 381h2v2h-2z"/>
</g></g>
<path d="M250.2 340.0 h-2.2 q-1.2 0 -1.2 1.6 v9.6 q0 1.6 1.2 1.6 h2.2" fill="#6f9a60" fill-opacity="0.35" stroke="#111" stroke-width="0.9"/>
<path d="M297.6 340.0 h2.2 q1.2 0 1.2 1.6 v9.6 q0 1.6 -1.2 1.6 h-2.2" fill="#6f9a60" fill-opacity="0.35" stroke="#111" stroke-width="0.9"/>
<path d="M269.1 322.8 Q271.7 320.0 273.9 317.8 Q276.1 320.0 278.7 322.8" fill="none" stroke="#111" stroke-width="0.9"/>
<circle cx="273.9" cy="346.2" r="24.0" fill="none" stroke="#111" stroke-width="1"/>
<g clip-path="url(#clip_d)"><g filter="url(#tblur)">
<path fill="#cf070a" d="M610 311h2v2h-2z"/>
<path fill="#de070a" d="M612 311h2v2h-2z"/>
<path fill="#ea070a" d="M614 311h2v2h-2z"/>
<path fill="#f1070a" d="M616 311h2v2h-2z"/>
<path fill="#f7070a" d="M618 311h2v2h-2zM604 315h2v2h-2z"/>
<path fill="#f9070a" d="M620 311h2v2h-2zM622 311h2v2h-2z"/>
<path fill="#f6070a" d="M624 311h2v2h-2z"/>
<path fill="#f0070a" d="M626 311h2v2h-2z"/>
<path fill="#bd070a" d="M604 313h2v2h-2z"/>
<path fill="#dd070a" d="M606 313h2v2h-2z"/>
<path fill="#f8070a" d="M608 313h2v2h-2zM594 323h2v2h-2z"/>
<path fill="#f91b0a" d="M610 313h2v2h-2zM590 327h2v2h-2zM586 331h2v2h-2z"/>
<path fill="#f92b0a" d="M612 313h2v2h-2z"/>
<path fill="#f9360a" d="M614 313h2v2h-2z"/>
<path fill="#f93d0a" d="M616 313h2v2h-2z"/>
<path fill="#f9420a" d="M618 313h2v2h-2z"/>
<path fill="#f9440a" d="M620 313h2v2h-2zM622 313h2v2h-2zM592 327h2v2h-2z"/>
<path fill="#f9400a" d="M624 313h2v2h-2zM638 317h2v2h-2z"/>
<path fill="#f9390a" d="M626 313h2v2h-2z"/>
<path fill="#f92e0a" d="M628 313h2v2h-2zM596 323h2v2h-2z"/>
<path fill="#f9210a" d="M630 313h2v2h-2z"/>
<path fill="#f9120a" d="M632 313h2v2h-2z"/>
<path fill="#a7070a" d="M600 315h2v2h-2z"/>
<path fill="#d0070a" d="M602 315h2v2h-2z"/>
<path fill="#f9280a" d="M606 315h2v2h-2z"/>
<path fill="#f9460a" d="M608 315h2v2h-2z"/>
<path fill="#f95d0a" d="M610 315h2v2h-2z"/>
<path fill="#f96d0a" d="M612 315h2v2h-2z"/>
<path fill="#f9770a" d="M614 315h2v2h-2zM644 323h2v2h-2z"/>
<path fill="#f97d0a" d="M616 315h2v2h-2zM624 315h2v2h-2zM648 327h2v2h-2z"/>
<path fill="#f9810a" d="M618 315h2v2h-2zM582 347h2v2h-2z"/>
<path fill="#f9830a" d="M620 315h2v2h-2z"/>
<path fill="#f9820a" d="M622 315h2v2h-2z"/>
<path fill="#f9750a" d="M626 315h2v2h-2z"/>
<path fill="#f9690a" d="M628 315h2v2h-2zM596 325h2v2h-2zM590 331h2v2h-2z"/>
<path fill="#f9590a" d="M630 315h2v2h-2z"/>
<path fill="#f9480a" d="M632 315h2v2h-2z"/>
<path fill="#f9350a" d="M634 315h2v2h-2z"/>
<path fill="#88070a" d="M596 317h2v2h-2z"/>
<path fill="#af070a" d="M598 317h2v2h-2z"/>
<path fill="#da070a" d="M600 317h2v2h-2z"/>
<path fill="#f9150a" d="M602 317h2v2h-2z"/>
<path fill="#f9410a" d="M604 317h2v2h-2zM588 331h2v2h-2z"/>
<path fill="#f9680a" d="M606 317h2v2h-2z"/>
<path fill="#f9880a" d="M608 317h2v2h-2z"/>
<path fill="#f9a00a" d="M610 317h2v2h-2zM634 319h2v2h-2zM596 327h2v2h-2zM590 335h2v2h-2z"/>
<path fill="#f9b00a" d="M612 317h2v2h-2zM588 341h2v2h-2z"/>
<path fill="#f9bb0a" d="M614 317h2v2h-2zM640 323h2v2h-2zM650 333h2v2h-2z"/>
<path fill="#f9c00a" d="M616 317h2v2h-2zM584 357h2v2h-2z"/>
<path fill="#f9c40a" d="M618 317h2v2h-2zM590 339h2v2h-2z"/>
<path fill="#f9c50a" d="M620 317h2v2h-2zM632 379h2v2h-2z"/>
<path fill="#f9c30a" d="M622 317h2v2h-2z"/>
<path fill="#f9bd0a" d="M624 317h2v2h-2zM604 321h2v2h-2z"/>
<path fill="#f9b30a" d="M626 317h2v2h-2z"/>
<path fill="#f9a50a" d="M628 317h2v2h-2z"/>
<path fill="#f9930a" d="M630 317h2v2h-2zM600 323h2v2h-2zM592 331h2v2h-2z"/>
<path fill="#f97f0a" d="M632 317h2v2h-2zM586 339h2v2h-2z"/>
<path fill="#f96a0a" d="M634 317h2v2h-2z"/>
<path fill="#f9550a" d="M636 317h2v2h-2z"/>
<path fill="#93070a" d="M594 319h2v2h-2z"/>
<path fill="#b6070a" d="M596 319h2v2h-2z"/>
<path fill="#df070a" d="M598 319h2v2h-2z"/>
<path fill="#f91c0a" d="M600 319h2v2h-2z"/>
<path fill="#f94e0a" d="M602 319h2v2h-2z"/>
<path fill="#f97e0a" d="M604 319h2v2h-2z"/>
<path fill="#f9a80a" d="M606 319h2v2h-2zM638 321h2v2h-2z"/>
<path fill="#f9ca0a" d="M608 319h2v2h-2zM632 377h2v2h-2zM636 377h2v2h-2zM626 379h2v2h-2z"/>
<path fill="#f9e30a" d="M610 319h2v2h-2zM590 345h2v2h-2zM588 353h2v2h-2zM588 361h2v2h-2zM620 367h2v2h-2zM630 373h2v2h-2zM640 373h2v2h-2z"/>
<path fill="#f9f50a" d="M612 319h2v2h-2zM622 367h2v2h-2zM610 379h2v2h-2z"/>
<path fill="#f0f713" d="M614 319h2v2h-2zM592 361h2v2h-2zM604 373h2v2h-2z"/>
<path fill="#eaf719" d="M616 319h2v2h-2zM594 363h2v2h-2zM600 369h2v2h-2z"/>
<path fill="#e8f71b" d="M618 319h2v2h-2zM620 319h2v2h-2zM596 365h2v2h-2z"/>
<path fill="#ecf717" d="M622 319h2v2h-2zM648 337h2v2h-2zM606 369h2v2h-2zM604 371h2v2h-2z"/>
<path fill="#f4f70f" d="M624 319h2v2h-2zM642 329h2v2h-2zM608 367h2v2h-2zM606 377h2v2h-2z"/>
<path fill="#f9f10a" d="M626 319h2v2h-2zM618 361h2v2h-2zM626 371h2v2h-2z"/>
<path fill="#f9e20a" d="M628 319h2v2h-2z"/>
<path fill="#f9d00a" d="M630 319h2v2h-2zM646 331h2v2h-2zM590 341h2v2h-2zM588 347h2v2h-2zM634 375h2v2h-2zM636 375h2v2h-2z"/>
<path fill="#f9b90a" d="M632 319h2v2h-2zM644 327h2v2h-2z"/>
<path fill="#f9890a" d="M636 319h2v2h-2z"/>
<path fill="#f9720a" d="M638 319h2v2h-2z"/>
<path fill="#f95a0a" d="M640 319h2v2h-2z"/>
<path fill="#a3070a" d="M592 321h2v2h-2z"/>
<path fill="#c4070a" d="M594 321h2v2h-2z"/>
<path fill="#e8070a" d="M596 321h2v2h-2zM588 327h2v2h-2z"/>
<path fill="#f9200a" d="M598 321h2v2h-2z"/>
<path fill="#f9540a" d="M600 321h2v2h-2zM586 335h2v2h-2z"/>
<path fill="#f98b0a" d="M602 321h2v2h-2zM640 321h2v2h-2z"/>
<path fill="#f9e80a" d="M606 321h2v2h-2zM614 379h2v2h-2z"/>
<path fill="#e5f71f" d="M608 321h2v2h-2z"/>
<path fill="#caf739" d="M610 321h2v2h-2zM652 349h2v2h-2zM616 357h2v2h-2zM598 361h2v2h-2z"/>
<path fill="#b7f74c" d="M612 321h2v2h-2zM602 359h2v2h-2zM648 359h2v2h-2zM646 363h2v2h-2z"/>
<path fill="#abf758" d="M614 321h2v2h-2zM598 349h2v2h-2zM648 349h2v2h-2zM640 363h2v2h-2z"/>
<path fill="#a6f75e" d="M616 321h2v2h-2z"/>
<path fill="#a4f75f" d="M618 321h2v2h-2zM608 323h2v2h-2z"/>
<path fill="#a6f75d" d="M620 321h2v2h-2zM630 323h2v2h-2zM598 335h2v2h-2zM604 355h2v2h-2zM646 355h2v2h-2zM638 363h2v2h-2z"/>
<path fill="#acf757" d="M622 321h2v2h-2zM648 347h2v2h-2zM648 351h2v2h-2zM612 355h2v2h-2z"/>
<path fill="#b5f74e" d="M624 321h2v2h-2zM648 357h2v2h-2zM622 359h2v2h-2z"/>
<path fill="#c1f742" d="M626 321h2v2h-2zM596 339h2v2h-2zM596 351h2v2h-2zM606 359h2v2h-2zM600 361h2v2h-2zM630 367h2v2h-2z"/>
<path fill="#d0f733" d="M628 321h2v2h-2zM644 335h2v2h-2zM604 365h2v2h-2zM634 367h2v2h-2z"/>
<path fill="#e3f720" d="M630 321h2v2h-2zM640 327h2v2h-2z"/>
<path fill="#f9f60a" d="M632 321h2v2h-2zM590 359h2v2h-2zM628 371h2v2h-2zM630 371h2v2h-2zM600 375h2v2h-2zM610 375h2v2h-2zM602 379h2v2h-2zM608 381h2v2h-2z"/>
<path fill="#f9dc0a" d="M634 321h2v2h-2zM612 367h2v2h-2zM590 369h2v2h-2zM614 371h2v2h-2z"/>
<path fill="#f9c20a" d="M636 321h2v2h-2zM584 359h2v2h-2zM584 361h2v2h-2z"/>
<path fill="#f96e0a" d="M642 321h2v2h-2z"/>
<path fill="#b2070a" d="M590 323h2v2h-2z"/>
<path fill="#d4070a" d="M592 323h2v2h-2z"/>
<path fill="#f95c0a" d="M598 323h2v2h-2z"/>
<path fill="#f9cb0a" d="M602 323h2v2h-2zM624 381h2v2h-2z"/>
<path fill="#f3f710" d="M604 323h2v2h-2zM594 365h2v2h-2zM596 367h2v2h-2zM598 369h2v2h-2zM604 375h2v2h-2zM606 375h2v2h-2z"/>
<path fill="#c7f73c" d="M606 323h2v2h-2zM596 337h2v2h-2zM652 353h2v2h-2zM596 355h2v2h-2z"/>
<path fill="#89f77a" d="M610 323h2v2h-2zM640 337h2v2h-2zM624 357h2v2h-2z"/>
<path fill="#75f78e" d="M612 323h2v2h-2zM628 359h2v2h-2z"/>
<path fill="#69f79a" d="M614 323h2v2h-2zM636 355h2v2h-2zM632 359h2v2h-2z"/>
<path fill="#64f79f" d="M616 323h2v2h-2zM618 323h2v2h-2zM608 349h2v2h-2z"/>
<path fill="#68f79b" d="M620 323h2v2h-2zM614 351h2v2h-2z"/>
<path fill="#70f793" d="M622 323h2v2h-2z"/>
<path fill="#7af789" d="M624 323h2v2h-2zM600 335h2v2h-2zM640 343h2v2h-2zM608 351h2v2h-2zM618 353h2v2h-2zM638 357h2v2h-2z"/>
<path fill="#86f77d" d="M626 323h2v2h-2zM640 357h2v2h-2zM626 359h2v2h-2zM632 363h2v2h-2z"/>
<path fill="#94f76f" d="M628 323h2v2h-2zM600 331h2v2h-2zM606 353h2v2h-2zM644 353h2v2h-2z"/>
<path fill="#bbf748" d="M632 323h2v2h-2zM650 353h2v2h-2zM600 359h2v2h-2zM644 365h2v2h-2z"/>
<path fill="#d4f72f" d="M634 323h2v2h-2zM594 347h2v2h-2zM594 353h2v2h-2zM606 363h2v2h-2z"/>
<path fill="#f2f711" d="M636 323h2v2h-2zM600 371h2v2h-2zM602 373h2v2h-2z"/>
<path fill="#f9de0a" d="M638 323h2v2h-2zM594 333h2v2h-2zM588 351h2v2h-2zM620 369h2v2h-2zM624 373h2v2h-2z"/>
<path fill="#f9980a" d="M642 323h2v2h-2zM646 327h2v2h-2z"/>
<path fill="#be070a" d="M588 325h2v2h-2z"/>
<path fill="#e1070a" d="M590 325h2v2h-2z"/>
<path fill="#f9140a" d="M592 325h2v2h-2z"/>
<path fill="#f93c0a" d="M594 325h2v2h-2z"/>
<path fill="#f99c0a" d="M598 325h2v2h-2z"/>
<path fill="#f9d40a" d="M600 325h2v2h-2zM586 357h2v2h-2zM586 359h2v2h-2zM622 375h2v2h-2zM620 377h2v2h-2zM620 379h2v2h-2zM620 381h2v2h-2z"/>
<path fill="#e4f71f" d="M602 325h2v2h-2zM596 333h2v2h-2z"/>
<path fill="#b3f750" d="M604 325h2v2h-2zM598 333h2v2h-2z"/>
<path fill="#8af779" d="M606 325h2v2h-2zM602 349h2v2h-2z"/>
<path fill="#67f79c" d="M608 325h2v2h-2zM634 357h2v2h-2z"/>
<path fill="#4cf7b7" d="M610 325h2v2h-2zM614 349h2v2h-2zM630 349h2v2h-2z"/>
<path fill="#38f7cb" d="M612 325h2v2h-2zM634 331h2v2h-2zM608 345h2v2h-2zM612 347h2v2h-2z"/>
<path fill="#2cf7d7" d="M614 325h2v2h-2zM618 347h2v2h-2zM620 347h2v2h-2z"/>
<path fill="#28f7db" d="M616 325h2v2h-2zM604 335h2v2h-2zM606 341h2v2h-2z"/>
<path fill="#2af7d9" d="M618 325h2v2h-2zM606 329h2v2h-2zM604 333h2v2h-2z"/>
<path fill="#30f7d3" d="M620 325h2v2h-2zM626 345h2v2h-2z"/>
<path fill="#3af7c9" d="M622 325h2v2h-2zM604 339h2v2h-2zM628 345h2v2h-2zM626 347h2v2h-2z"/>
<path fill="#45f7be" d="M624 325h2v2h-2zM604 341h2v2h-2zM630 345h2v2h-2z"/>
<path fill="#51f7b2" d="M626 325h2v2h-2zM604 343h2v2h-2zM630 351h2v2h-2z"/>
<path fill="#5ff7a4" d="M628 325h2v2h-2z"/>
<path fill="#6ef795" d="M630 325h2v2h-2zM638 341h2v2h-2zM612 351h2v2h-2z"/>
<path fill="#80f784" d="M632 325h2v2h-2z"/>
<path fill="#97f76c" d="M634 325h2v2h-2zM644 343h2v2h-2z"/>
<path fill="#b8f74b" d="M636 325h2v2h-2zM648 343h2v2h-2z"/>
<path fill="#dff724" d="M638 325h2v2h-2zM600 367h2v2h-2z"/>
<path fill="#f9e70a" d="M640 325h2v2h-2zM592 339h2v2h-2zM588 357h2v2h-2zM590 365h2v2h-2zM594 371h2v2h-2zM614 377h2v2h-2zM614 381h2v2h-2z"/>
<path fill="#f9bf0a" d="M642 325h2v2h-2zM586 349h2v2h-2z"/>
<path fill="#f99a0a" d="M644 325h2v2h-2zM648 329h2v2h-2z"/>
<path fill="#f97a0a" d="M646 325h2v2h-2z"/>
<path fill="#f9700a" d="M594 327h2v2h-2zM584 341h2v2h-2z"/>
<path fill="#f9d60a" d="M598 327h2v2h-2zM614 369h2v2h-2zM616 371h2v2h-2zM618 371h2v2h-2zM626 375h2v2h-2zM628 375h2v2h-2z"/>
<path fill="#e0f723" d="M600 327h2v2h-2zM652 343h2v2h-2zM630 369h2v2h-2z"/>
<path fill="#a9f75a" d="M602 327h2v2h-2zM602 355h2v2h-2z"/>
<path fill="#7bf788" d="M604 327h2v2h-2zM600 339h2v2h-2zM640 353h2v2h-2z"/>
<path fill="#54f7af" d="M606 327h2v2h-2zM602 333h2v2h-2zM632 351h2v2h-2z"/>
<path fill="#32f7d1" d="M608 327h2v2h-2z"/>
<path fill="#17f7ec" d="M610 327h2v2h-2zM614 345h2v2h-2z"/>
<path fill="#0af0f9" d="M612 327h2v2h-2zM606 333h2v2h-2zM628 333h2v2h-2zM606 335h2v2h-2z"/>
<path fill="#0ae4f9" d="M614 327h2v2h-2zM626 331h2v2h-2zM626 335h2v2h-2z"/>
<path fill="#0ae1f9" d="M616 327h2v2h-2z"/>
<path fill="#0ae5f9" d="M618 327h2v2h-2z"/>
<path fill="#0aeef9" d="M620 327h2v2h-2z"/>
<path fill="#0df7f6" d="M622 327h2v2h-2z"/>
<path fill="#1af7ea" d="M624 327h2v2h-2z"/>
<path fill="#27f7dd" d="M626 327h2v2h-2z"/>
<path fill="#33f7d0" d="M628 327h2v2h-2z"/>
<path fill="#40f7c3" d="M630 327h2v2h-2zM634 335h2v2h-2z"/>
<path fill="#4ef7b5" d="M632 327h2v2h-2zM632 345h2v2h-2zM608 347h2v2h-2z"/>
<path fill="#63f7a0" d="M634 327h2v2h-2zM624 353h2v2h-2zM630 357h2v2h-2z"/>
<path fill="#87f77c" d="M636 327h2v2h-2zM614 353h2v2h-2zM642 353h2v2h-2z"/>
<path fill="#b4f74f" d="M638 327h2v2h-2zM606 357h2v2h-2z"/>
<path fill="#f9e00a" d="M642 327h2v2h-2zM588 363h2v2h-2zM612 363h2v2h-2zM612 369h2v2h-2zM592 371h2v2h-2zM616 379h2v2h-2zM616 381h2v2h-2z"/>
<path fill="#eb070a" d="M586 329h2v2h-2z"/>
<path fill="#f91d0a" d="M588 329h2v2h-2z"/>
<path fill="#f9450a" d="M590 329h2v2h-2z"/>
<path fill="#f96f0a" d="M592 329h2v2h-2z"/>
<path fill="#f99d0a" d="M594 329h2v2h-2z"/>
<path fill="#f9cf0a" d="M596 329h2v2h-2zM616 363h2v2h-2zM624 377h2v2h-2zM622 379h2v2h-2zM622 381h2v2h-2z"/>
<path fill="#ebf718" d="M598 329h2v2h-2zM592 359h2v2h-2zM626 369h2v2h-2zM644 371h2v2h-2z"/>
<path fill="#b2f751" d="M600 329h2v2h-2zM642 335h2v2h-2zM646 341h2v2h-2zM648 355h2v2h-2zM646 361h2v2h-2z"/>
<path fill="#7cf787" d="M602 329h2v2h-2zM604 349h2v2h-2z"/>
<path fill="#50f7b3" d="M604 329h2v2h-2zM602 335h2v2h-2zM632 347h2v2h-2zM626 351h2v2h-2z"/>
<path fill="#0af6f9" d="M608 329h2v2h-2z"/>
<path fill="#0ad9f9" d="M610 329h2v2h-2z"/>
<path fill="#0ac4f9" d="M612 329h2v2h-2z"/>
<path fill="#0ab7f9" d="M614 329h2v2h-2zM614 339h2v2h-2zM616 339h2v2h-2z"/>
<path fill="#0ab6f9" d="M616 329h2v2h-2z"/>
<path fill="#0abef9" d="M618 329h2v2h-2zM622 335h2v2h-2zM610 337h2v2h-2z"/>
<path fill="#0acaf9" d="M620 329h2v2h-2z"/>
<path fill="#0ad8f9" d="M622 329h2v2h-2zM608 337h2v2h-2zM612 341h2v2h-2z"/>
<path fill="#0ae7f9" d="M624 329h2v2h-2zM610 341h2v2h-2z"/>
<path fill="#0af5f9" d="M626 329h2v2h-2z"/>
<path fill="#15f7ee" d="M628 329h2v2h-2zM616 345h2v2h-2zM618 345h2v2h-2z"/>
<path fill="#22f7e2" d="M630 329h2v2h-2z"/>
<path fill="#2ff7d4" d="M632 329h2v2h-2zM604 337h2v2h-2zM622 347h2v2h-2z"/>
<path fill="#43f7c0" d="M634 329h2v2h-2zM618 349h2v2h-2z"/>
<path fill="#66f79d" d="M636 329h2v2h-2z"/>
<path fill="#95f76f" d="M638 329h2v2h-2z"/>
<path fill="#c5f73e" d="M640 329h2v2h-2zM648 341h2v2h-2zM632 367h2v2h-2z"/>
<path fill="#f9d30a" d="M644 329h2v2h-2zM586 361h2v2h-2zM632 375h2v2h-2zM638 375h2v2h-2z"/>
<path fill="#f9b40a" d="M646 329h2v2h-2zM590 337h2v2h-2z"/>
<path fill="#f9c10a" d="M594 331h2v2h-2z"/>
<path fill="#f9f30a" d="M596 331h2v2h-2zM598 373h2v2h-2zM610 373h2v2h-2zM610 381h2v2h-2z"/>
<path fill="#c9f73a" d="M598 331h2v2h-2zM646 367h2v2h-2z"/>
<path fill="#62f7a1" d="M602 331h2v2h-2zM602 341h2v2h-2zM616 351h2v2h-2zM636 351h2v2h-2zM632 357h2v2h-2z"/>
<path fill="#36f7cd" d="M604 331h2v2h-2z"/>
<path fill="#10f7f4" d="M606 331h2v2h-2z"/>
<path fill="#0adaf9" d="M608 331h2v2h-2z"/>
<path fill="#0abcf9" d="M610 331h2v2h-2z"/>
<path fill="#0aa5f9" d="M612 331h2v2h-2z"/>
<path fill="#0a97f9" d="M614 331h2v2h-2zM612 333h2v2h-2z"/>
<path fill="#0a98f9" d="M616 331h2v2h-2zM618 333h2v2h-2z"/>
<path fill="#0aa3f9" d="M618 331h2v2h-2z"/>
<path fill="#0ab3f9" d="M620 331h2v2h-2z"/>
<path fill="#0ac3f9" d="M622 331h2v2h-2z"/>
<path fill="#0ad4f9" d="M624 331h2v2h-2zM618 341h2v2h-2z"/>
<path fill="#0af3f9" d="M628 331h2v2h-2z"/>
<path fill="#14f7f0" d="M630 331h2v2h-2z"/>
<path fill="#23f7e0" d="M632 331h2v2h-2zM628 339h2v2h-2zM608 343h2v2h-2z"/>
<path fill="#59f7aa" d="M636 331h2v2h-2zM634 349h2v2h-2zM620 351h2v2h-2z"/>
<path fill="#82f781" d="M638 331h2v2h-2zM642 347h2v2h-2zM642 349h2v2h-2zM606 351h2v2h-2z"/>
<path fill="#aef755" d="M640 331h2v2h-2zM648 353h2v2h-2zM646 359h2v2h-2zM642 363h2v2h-2zM634 365h2v2h-2z"/>
<path fill="#daf729" d="M642 331h2v2h-2zM650 341h2v2h-2zM602 367h2v2h-2zM644 369h2v2h-2z"/>
<path fill="#f9ef0a" d="M644 331h2v2h-2zM612 361h2v2h-2zM596 371h2v2h-2zM610 371h2v2h-2zM598 377h2v2h-2zM612 377h2v2h-2zM612 379h2v2h-2z"/>
<path fill="#f9b60a" d="M648 331h2v2h-2zM584 353h2v2h-2z"/>
<path fill="#f99f0a" d="M650 331h2v2h-2zM582 353h2v2h-2z"/>
<path fill="#f9170a" d="M584 333h2v2h-2z"/>
<path fill="#f93a0a" d="M586 333h2v2h-2z"/>
<path fill="#f95f0a" d="M588 333h2v2h-2z"/>
<path fill="#f9870a" d="M590 333h2v2h-2z"/>
<path fill="#f9b10a" d="M592 333h2v2h-2z"/>
<path fill="#83f780" d="M600 333h2v2h-2zM640 339h2v2h-2zM622 355h2v2h-2zM630 363h2v2h-2z"/>
<path fill="#0acef9" d="M608 333h2v2h-2zM608 335h2v2h-2z"/>
<path fill="#0aaff9" d="M610 333h2v2h-2z"/>
<path fill="#0a89f9" d="M614 333h2v2h-2z"/>
<path fill="#0a8cf9" d="M616 333h2v2h-2z"/>
<path fill="#0aa9f9" d="M620 333h2v2h-2z"/>
<path fill="#0abbf9" d="M622 333h2v2h-2z"/>
<path fill="#0acdf9" d="M624 333h2v2h-2z"/>
<path fill="#0adff9" d="M626 333h2v2h-2z"/>
<path fill="#13f7f0" d="M630 333h2v2h-2z"/>
<path fill="#24f7df" d="M632 333h2v2h-2z"/>
<path fill="#39f7ca" d="M634 333h2v2h-2zM632 337h2v2h-2zM606 343h2v2h-2z"/>
<path fill="#55f7ae" d="M636 333h2v2h-2zM634 341h2v2h-2zM622 351h2v2h-2z"/>
<path fill="#78f78b" d="M638 333h2v2h-2zM626 357h2v2h-2z"/>
<path fill="#9ef765" d="M640 333h2v2h-2zM646 351h2v2h-2zM644 357h2v2h-2z"/>
<path fill="#c4f73f" d="M642 333h2v2h-2zM596 353h2v2h-2zM610 357h2v2h-2zM598 359h2v2h-2zM648 365h2v2h-2z"/>
<path fill="#e7f71c" d="M644 333h2v2h-2zM592 351h2v2h-2zM592 357h2v2h-2zM620 361h2v2h-2zM608 363h2v2h-2zM624 367h2v2h-2z"/>
<path fill="#f9eb0a" d="M646 333h2v2h-2zM592 367h2v2h-2z"/>
<path fill="#f9d20a" d="M648 333h2v2h-2zM616 369h2v2h-2z"/>
<path fill="#f9320a" d="M584 335h2v2h-2z"/>
<path fill="#f9790a" d="M588 335h2v2h-2z"/>
<path fill="#f9c80a" d="M592 335h2v2h-2zM628 379h2v2h-2zM626 381h2v2h-2z"/>
<path fill="#f9f20a" d="M594 335h2v2h-2zM592 341h2v2h-2zM590 361h2v2h-2zM592 365h2v2h-2zM632 371h2v2h-2z"/>
<path fill="#d2f731" d="M596 335h2v2h-2zM598 363h2v2h-2z"/>
<path fill="#0ab1f9" d="M610 335h2v2h-2z"/>
<path fill="#0a9bf9" d="M612 335h2v2h-2z"/>
<path fill="#0a90f9" d="M614 335h2v2h-2z"/>
<path fill="#0a91f9" d="M616 335h2v2h-2z"/>
<path fill="#0a9cf9" d="M618 335h2v2h-2z"/>
<path fill="#0aacf9" d="M620 335h2v2h-2z"/>
<path fill="#0ad1f9" d="M624 335h2v2h-2zM610 339h2v2h-2zM614 341h2v2h-2z"/>
<path fill="#0af7f9" d="M628 335h2v2h-2zM624 341h2v2h-2z"/>
<path fill="#1cf7e7" d="M630 335h2v2h-2z"/>
<path fill="#2df7d6" d="M632 335h2v2h-2zM628 341h2v2h-2zM616 347h2v2h-2z"/>
<path fill="#57f7ac" d="M636 335h2v2h-2zM634 343h2v2h-2zM634 345h2v2h-2z"/>
<path fill="#73f790" d="M638 335h2v2h-2zM620 353h2v2h-2z"/>
<path fill="#92f771" d="M640 335h2v2h-2zM600 347h2v2h-2zM642 357h2v2h-2zM638 361h2v2h-2z"/>
<path fill="#ecf718" d="M646 335h2v2h-2z"/>
<path fill="#f9ec0a" d="M648 335h2v2h-2zM610 367h2v2h-2zM594 369h2v2h-2zM596 373h2v2h-2z"/>
<path fill="#f9d50a" d="M650 335h2v2h-2zM618 367h2v2h-2zM618 369h2v2h-2zM620 375h2v2h-2zM624 375h2v2h-2zM630 375h2v2h-2z"/>
<path fill="#f94a0a" d="M584 337h2v2h-2z"/>
<path fill="#f96b0a" d="M586 337h2v2h-2z"/>
<path fill="#f98f0a" d="M588 337h2v2h-2zM584 345h2v2h-2z"/>
<path fill="#f9da0a" d="M592 337h2v2h-2zM620 371h2v2h-2zM616 373h2v2h-2zM622 373h2v2h-2zM618 381h2v2h-2z"/>
<path fill="#eff714" d="M594 337h2v2h-2zM652 341h2v2h-2zM616 359h2v2h-2zM610 361h2v2h-2zM608 365h2v2h-2zM634 369h2v2h-2z"/>
<path fill="#a0f764" d="M598 337h2v2h-2z"/>
<path fill="#79f78a" d="M600 337h2v2h-2zM636 359h2v2h-2z"/>
<path fill="#54f7b0" d="M602 337h2v2h-2z"/>
<path fill="#0bf7f8" d="M606 337h2v2h-2z"/>
<path fill="#0aaaf9" d="M612 337h2v2h-2zM618 337h2v2h-2z"/>
<path fill="#0aa1f9" d="M614 337h2v2h-2zM616 337h2v2h-2z"/>
<path fill="#0ab8f9" d="M620 337h2v2h-2z"/>
<path fill="#0ac8f9" d="M622 337h2v2h-2zM620 339h2v2h-2z"/>
<path fill="#0adbf9" d="M624 337h2v2h-2z"/>
<path fill="#0aeff9" d="M626 337h2v2h-2z"/>
<path fill="#16f7ed" d="M628 337h2v2h-2z"/>
<path fill="#29f7da" d="M630 337h2v2h-2zM610 345h2v2h-2z"/>
<path fill="#49f7ba" d="M634 337h2v2h-2z"/>
<path fill="#5bf7a8" d="M636 337h2v2h-2z"/>
<path fill="#71f792" d="M638 337h2v2h-2z"/>
<path fill="#a3f760" d="M642 337h2v2h-2zM644 359h2v2h-2z"/>
<path fill="#bdf746" d="M644 337h2v2h-2zM596 341h2v2h-2zM596 347h2v2h-2zM650 347h2v2h-2zM650 355h2v2h-2zM626 365h2v2h-2z"/>
<path fill="#d5f72e" d="M646 337h2v2h-2zM652 345h2v2h-2zM594 355h2v2h-2zM624 365h2v2h-2z"/>
<path fill="#f9ee0a" d="M650 337h2v2h-2zM652 339h2v2h-2zM610 365h2v2h-2zM612 375h2v2h-2zM612 381h2v2h-2z"/>
<path fill="#f9d90a" d="M652 337h2v2h-2zM618 377h2v2h-2zM618 379h2v2h-2z"/>
<path fill="#f93f0a" d="M582 339h2v2h-2z"/>
<path fill="#f95e0a" d="M584 339h2v2h-2z"/>
<path fill="#f9a10a" d="M588 339h2v2h-2z"/>
<path fill="#e5f71e" d="M594 339h2v2h-2zM606 367h2v2h-2zM602 369h2v2h-2zM604 369h2v2h-2zM632 369h2v2h-2z"/>
<path fill="#9df766" d="M598 339h2v2h-2zM646 347h2v2h-2zM636 363h2v2h-2z"/>
<path fill="#5bf7a9" d="M602 339h2v2h-2zM610 349h2v2h-2z"/>
<path fill="#19f7ea" d="M606 339h2v2h-2z"/>
<path fill="#0ae9f9" d="M608 339h2v2h-2zM616 343h2v2h-2z"/>
<path fill="#0ac0f9" d="M612 339h2v2h-2z"/>
<path fill="#0abdf9" d="M618 339h2v2h-2z"/>
<path fill="#0ad7f9" d="M622 339h2v2h-2z"/>
<path fill="#0ae8f9" d="M624 339h2v2h-2zM622 341h2v2h-2z"/>
<path fill="#0ff7f4" d="M626 339h2v2h-2zM608 341h2v2h-2z"/>
<path fill="#37f7cc" d="M630 339h2v2h-2z"/>
<path fill="#45f7bf" d="M632 339h2v2h-2zM626 349h2v2h-2z"/>
<path fill="#51f7b3" d="M634 339h2v2h-2z"/>
<path fill="#5ff7a5" d="M636 339h2v2h-2z"/>
<path fill="#6ff794" d="M638 339h2v2h-2zM606 349h2v2h-2zM638 353h2v2h-2zM636 357h2v2h-2zM634 359h2v2h-2z"/>
<path fill="#98f76b" d="M642 339h2v2h-2z"/>
<path fill="#adf756" d="M644 339h2v2h-2z"/>
<path fill="#c2f741" d="M646 339h2v2h-2zM650 345h2v2h-2zM650 361h2v2h-2zM624 363h2v2h-2z"/>
<path fill="#d7f72c" d="M648 339h2v2h-2zM640 367h2v2h-2z"/>
<path fill="#edf717" d="M650 339h2v2h-2zM592 347h2v2h-2z"/>
<path fill="#f9520a" d="M582 341h2v2h-2z"/>
<path fill="#f9900a" d="M586 341h2v2h-2z"/>
<path fill="#def725" d="M594 341h2v2h-2zM596 363h2v2h-2zM622 363h2v2h-2zM638 367h2v2h-2z"/>
<path fill="#9ef766" d="M598 341h2v2h-2z"/>
<path fill="#7ff784" d="M600 341h2v2h-2zM602 347h2v2h-2zM640 355h2v2h-2z"/>
<path fill="#0acff9" d="M616 341h2v2h-2z"/>
<path fill="#0adcf9" d="M620 341h2v2h-2z"/>
<path fill="#1bf7e8" d="M626 341h2v2h-2z"/>
<path fill="#3ef7c5" d="M630 341h2v2h-2z"/>
<path fill="#4af7b9" d="M632 341h2v2h-2zM606 345h2v2h-2z"/>
<path fill="#61f7a2" d="M636 341h2v2h-2zM636 343h2v2h-2zM636 345h2v2h-2zM636 347h2v2h-2zM636 349h2v2h-2zM628 355h2v2h-2zM634 355h2v2h-2z"/>
<path fill="#7ef785" d="M640 341h2v2h-2z"/>
<path fill="#8ff775" d="M642 341h2v2h-2z"/>
<path fill="#a0f763" d="M644 341h2v2h-2zM646 345h2v2h-2zM602 353h2v2h-2z"/>
<path fill="#f9640a" d="M582 343h2v2h-2z"/>
<path fill="#f9800a" d="M584 343h2v2h-2z"/>
<path fill="#f99e0a" d="M586 343h2v2h-2z"/>
<path fill="#f9bc0a" d="M588 343h2v2h-2zM584 355h2v2h-2z"/>
<path fill="#f9db0a" d="M590 343h2v2h-2zM588 365h2v2h-2zM612 365h2v2h-2zM634 373h2v2h-2zM638 373h2v2h-2z"/>
<path fill="#f7f70c" d="M592 343h2v2h-2zM590 355h2v2h-2zM590 357h2v2h-2zM608 371h2v2h-2zM600 373h2v2h-2zM604 379h2v2h-2z"/>
<path fill="#d9f72a" d="M594 343h2v2h-2z"/>
<path fill="#bcf747" d="M596 343h2v2h-2zM608 357h2v2h-2zM602 361h2v2h-2zM642 365h2v2h-2z"/>
<path fill="#9ff764" d="M598 343h2v2h-2zM630 365h2v2h-2z"/>
<path fill="#84f77f" d="M600 343h2v2h-2zM642 345h2v2h-2zM642 351h2v2h-2zM638 359h2v2h-2z"/>
<path fill="#6af799" d="M602 343h2v2h-2zM626 355h2v2h-2z"/>
<path fill="#11f7f2" d="M610 343h2v2h-2z"/>
<path fill="#0af2f9" d="M612 343h2v2h-2z"/>
<path fill="#0aebf9" d="M614 343h2v2h-2zM618 343h2v2h-2z"/>
<path fill="#0af1f9" d="M620 343h2v2h-2z"/>
<path fill="#0cf7f7" d="M622 343h2v2h-2z"/>
<path fill="#18f7eb" d="M624 343h2v2h-2zM620 345h2v2h-2z"/>
<path fill="#26f7dd" d="M626 343h2v2h-2zM624 345h2v2h-2z"/>
<path fill="#34f7cf" d="M628 343h2v2h-2zM624 347h2v2h-2z"/>
<path fill="#42f7c2" d="M630 343h2v2h-2zM622 349h2v2h-2z"/>
<path fill="#4df7b6" d="M632 343h2v2h-2z"/>
<path fill="#6df796" d="M638 343h2v2h-2zM604 347h2v2h-2z"/>
<path fill="#88f77b" d="M642 343h2v2h-2zM636 361h2v2h-2z"/>
<path fill="#a7f75c" d="M646 343h2v2h-2zM598 347h2v2h-2zM608 355h2v2h-2z"/>
<path fill="#ccf738" d="M650 343h2v2h-2zM612 357h2v2h-2z"/>
<path fill="#f9730a" d="M582 345h2v2h-2z"/>
<path fill="#f9aa0a" d="M586 345h2v2h-2z"/>
<path fill="#f9c70a" d="M588 345h2v2h-2zM586 351h2v2h-2zM630 379h2v2h-2z"/>
<path fill="#f1f712" d="M592 345h2v2h-2z"/>
<path fill="#d6f72d" d="M594 345h2v2h-2zM596 361h2v2h-2z"/>
<path fill="#bcf748" d="M596 345h2v2h-2z"/>
<path fill="#a3f761" d="M598 345h2v2h-2z"/>
<path fill="#8bf778" d="M600 345h2v2h-2zM604 351h2v2h-2z"/>
<path fill="#74f78f" d="M602 345h2v2h-2zM610 351h2v2h-2zM630 361h2v2h-2zM632 361h2v2h-2z"/>
<path fill="#5ef7a5" d="M604 345h2v2h-2z"/>
<path fill="#1ef7e5" d="M612 345h2v2h-2zM622 345h2v2h-2z"/>
<path fill="#6bf798" d="M638 345h2v2h-2zM638 349h2v2h-2zM622 353h2v2h-2zM630 359h2v2h-2z"/>
<path fill="#77f78c" d="M640 345h2v2h-2z"/>
<path fill="#91f772" d="M644 345h2v2h-2zM644 351h2v2h-2zM608 353h2v2h-2zM628 363h2v2h-2zM634 363h2v2h-2z"/>
<path fill="#b0f753" d="M648 345h2v2h-2zM600 355h2v2h-2zM604 357h2v2h-2z"/>
<path fill="#f99b0a" d="M584 347h2v2h-2z"/>
<path fill="#f9b50a" d="M586 347h2v2h-2z"/>
<path fill="#f9ea0a" d="M590 347h2v2h-2zM620 365h2v2h-2zM622 369h2v2h-2zM624 371h2v2h-2zM634 371h2v2h-2zM612 373h2v2h-2zM596 375h2v2h-2z"/>
<path fill="#5cf7a7" d="M606 347h2v2h-2zM630 355h2v2h-2zM632 355h2v2h-2z"/>
<path fill="#42f7c1" d="M610 347h2v2h-2zM620 349h2v2h-2z"/>
<path fill="#31f7d2" d="M614 347h2v2h-2z"/>
<path fill="#41f7c2" d="M628 347h2v2h-2z"/>
<path fill="#48f7bb" d="M630 347h2v2h-2zM628 349h2v2h-2z"/>
<path fill="#58f7ab" d="M634 347h2v2h-2zM628 353h2v2h-2zM632 353h2v2h-2z"/>
<path fill="#6bf799" d="M638 347h2v2h-2zM628 357h2v2h-2z"/>
<path fill="#76f78d" d="M640 347h2v2h-2zM640 349h2v2h-2zM624 355h2v2h-2z"/>
<path fill="#8ff774" d="M644 347h2v2h-2zM644 349h2v2h-2zM610 353h2v2h-2zM640 359h2v2h-2z"/>
<path fill="#cef735" d="M652 347h2v2h-2zM614 357h2v2h-2zM608 359h2v2h-2z"/>
<path fill="#f98c0a" d="M582 349h2v2h-2z"/>
<path fill="#f9a60a" d="M584 349h2v2h-2zM582 355h2v2h-2z"/>
<path fill="#f9d80a" d="M588 349h2v2h-2zM636 373h2v2h-2zM618 375h2v2h-2z"/>
<path fill="#f9f00a" d="M590 349h2v2h-2zM640 371h2v2h-2zM598 375h2v2h-2z"/>
<path fill="#e9f71a" d="M592 349h2v2h-2zM612 359h2v2h-2z"/>
<path fill="#d3f730" d="M594 349h2v2h-2zM594 351h2v2h-2zM600 365h2v2h-2z"/>
<path fill="#bef745" d="M596 349h2v2h-2zM648 363h2v2h-2z"/>
<path fill="#9af769" d="M600 349h2v2h-2z"/>
<path fill="#52f7b1" d="M612 349h2v2h-2zM632 349h2v2h-2zM624 351h2v2h-2z"/>
<path fill="#46f7bd" d="M616 349h2v2h-2z"/>
<path fill="#43f7c1" d="M624 349h2v2h-2z"/>
<path fill="#9df767" d="M646 349h2v2h-2zM624 359h2v2h-2z"/>
<path fill="#baf749" d="M650 349h2v2h-2zM650 351h2v2h-2zM598 355h2v2h-2zM648 361h2v2h-2zM636 365h2v2h-2z"/>
<path fill="#f9970a" d="M582 351h2v2h-2z"/>
<path fill="#f9af0a" d="M584 351h2v2h-2z"/>
<path fill="#f9f40a" d="M590 351h2v2h-2zM610 363h2v2h-2zM594 367h2v2h-2zM596 369h2v2h-2zM600 377h2v2h-2z"/>
<path fill="#b1f753" d="M598 351h2v2h-2z"/>
<path fill="#a2f761" d="M600 351h2v2h-2zM646 353h2v2h-2zM642 361h2v2h-2zM632 365h2v2h-2z"/>
<path fill="#96f76d" d="M602 351h2v2h-2zM626 361h2v2h-2z"/>
<path fill="#5df7a6" d="M618 351h2v2h-2zM634 353h2v2h-2z"/>
<path fill="#4ff7b4" d="M628 351h2v2h-2z"/>
<path fill="#5af7a9" d="M634 351h2v2h-2z"/>
<path fill="#6cf797" d="M638 351h2v2h-2z"/>
<path fill="#78f78c" d="M640 351h2v2h-2z"/>
<path fill="#c8f73b" d="M652 351h2v2h-2zM652 357h2v2h-2zM644 367h2v2h-2z"/>
<path fill="#f9cd0a" d="M586 353h2v2h-2zM628 377h2v2h-2z"/>
<path fill="#f9f70a" d="M590 353h2v2h-2zM620 363h2v2h-2zM636 369h2v2h-2zM638 369h2v2h-2zM598 371h2v2h-2zM610 377h2v2h-2zM606 381h2v2h-2z"/>
<path fill="#e6f71e" d="M592 353h2v2h-2z"/>
<path fill="#b6f74e" d="M598 353h2v2h-2z"/>
<path fill="#aaf759" d="M600 353h2v2h-2zM610 355h2v2h-2zM614 355h2v2h-2zM644 361h2v2h-2z"/>
<path fill="#99f76a" d="M604 353h2v2h-2zM644 355h2v2h-2zM642 359h2v2h-2z"/>
<path fill="#8cf777" d="M612 353h2v2h-2zM642 355h2v2h-2z"/>
<path fill="#81f782" d="M616 353h2v2h-2z"/>
<path fill="#5df7a7" d="M626 353h2v2h-2z"/>
<path fill="#56f7ad" d="M630 353h2v2h-2z"/>
<path fill="#65f79e" d="M636 353h2v2h-2z"/>
<path fill="#f9d10a" d="M586 355h2v2h-2zM586 363h2v2h-2zM614 363h2v2h-2zM614 367h2v2h-2zM622 377h2v2h-2z"/>
<path fill="#f9e60a" d="M588 355h2v2h-2zM588 359h2v2h-2zM638 371h2v2h-2z"/>
<path fill="#e6f71d" d="M592 355h2v2h-2z"/>
<path fill="#a5f75e" d="M606 355h2v2h-2zM616 355h2v2h-2z"/>
<path fill="#9cf767" d="M618 355h2v2h-2zM622 357h2v2h-2z"/>
<path fill="#90f773" d="M620 355h2v2h-2z"/>
<path fill="#74f790" d="M638 355h2v2h-2z"/>
<path fill="#c8f73c" d="M652 355h2v2h-2z"/>
<path fill="#d8f72b" d="M594 357h2v2h-2z"/>
<path fill="#cbf739" d="M596 357h2v2h-2z"/>
<path fill="#bff744" d="M598 357h2v2h-2zM618 357h2v2h-2zM640 365h2v2h-2zM646 365h2v2h-2z"/>
<path fill="#b6f74d" d="M600 357h2v2h-2z"/>
<path fill="#b1f752" d="M602 357h2v2h-2z"/>
<path fill="#aff754" d="M620 357h2v2h-2zM624 361h2v2h-2z"/>
<path fill="#abf759" d="M646 357h2v2h-2z"/>
<path fill="#bff745" d="M650 357h2v2h-2z"/>
<path fill="#dcf727" d="M594 359h2v2h-2zM610 359h2v2h-2zM608 361h2v2h-2zM604 367h2v2h-2z"/>
<path fill="#cff734" d="M596 359h2v2h-2z"/>
<path fill="#b9f74a" d="M604 359h2v2h-2z"/>
<path fill="#f2f712" d="M614 359h2v2h-2zM606 373h2v2h-2z"/>
<path fill="#e2f721" d="M618 359h2v2h-2zM594 361h2v2h-2zM628 369h2v2h-2zM642 369h2v2h-2z"/>
<path fill="#cdf736" d="M620 359h2v2h-2zM602 365h2v2h-2zM642 367h2v2h-2z"/>
<path fill="#c0f743" d="M650 359h2v2h-2zM638 365h2v2h-2z"/>
<path fill="#c0f744" d="M604 361h2v2h-2z"/>
<path fill="#cbf738" d="M606 361h2v2h-2zM622 361h2v2h-2z"/>
<path fill="#f9e10a" d="M614 361h2v2h-2zM616 361h2v2h-2zM590 367h2v2h-2zM622 371h2v2h-2zM614 373h2v2h-2zM626 373h2v2h-2z"/>
<path fill="#81f783" d="M628 361h2v2h-2z"/>
<path fill="#7df786" d="M634 361h2v2h-2z"/>
<path fill="#9bf768" d="M640 361h2v2h-2z"/>
<path fill="#f9ed0a" d="M590 363h2v2h-2zM610 369h2v2h-2zM642 373h2v2h-2z"/>
<path fill="#f6f70d" d="M592 363h2v2h-2zM608 369h2v2h-2zM608 373h2v2h-2zM608 377h2v2h-2zM606 379h2v2h-2z"/>
<path fill="#c9f73b" d="M600 363h2v2h-2z"/>
<path fill="#c3f740" d="M602 363h2v2h-2z"/>
<path fill="#c6f73d" d="M604 363h2v2h-2z"/>
<path fill="#f9df0a" d="M618 363h2v2h-2zM632 373h2v2h-2zM616 377h2v2h-2z"/>
<path fill="#a8f75b" d="M626 363h2v2h-2z"/>
<path fill="#b2f752" d="M644 363h2v2h-2z"/>
<path fill="#f9ce0a" d="M586 365h2v2h-2zM614 365h2v2h-2zM616 367h2v2h-2zM626 377h2v2h-2z"/>
<path fill="#ddf726" d="M598 365h2v2h-2zM606 365h2v2h-2z"/>
<path fill="#f9cc0a" d="M616 365h2v2h-2zM630 377h2v2h-2zM624 379h2v2h-2z"/>
<path fill="#f9d70a" d="M618 365h2v2h-2zM588 367h2v2h-2zM618 373h2v2h-2zM620 373h2v2h-2z"/>
<path fill="#eef715" d="M622 365h2v2h-2zM640 369h2v2h-2z"/>
<path fill="#aaf75a" d="M628 365h2v2h-2z"/>
<path fill="#e9f71b" d="M598 367h2v2h-2z"/>
<path fill="#d5f72f" d="M626 367h2v2h-2z"/>
<path fill="#c7f73d" d="M628 367h2v2h-2z"/>
<path fill="#dbf728" d="M636 367h2v2h-2z"/>
<path fill="#f9e50a" d="M592 369h2v2h-2zM612 371h2v2h-2zM594 373h2v2h-2zM614 375h2v2h-2z"/>
<path fill="#f8f70b" d="M624 369h2v2h-2zM602 377h2v2h-2zM608 379h2v2h-2z"/>
<path fill="#edf716" d="M602 371h2v2h-2z"/>
<path fill="#f0f714" d="M606 371h2v2h-2z"/>
<path fill="#f9e40a" d="M636 371h2v2h-2zM628 373h2v2h-2z"/>
<path fill="#f5f70e" d="M642 371h2v2h-2zM602 375h2v2h-2zM608 375h2v2h-2zM604 377h2v2h-2z"/>
<path fill="#f9dd0a" d="M616 375h2v2h-2z"/>
<path fill="#f9c90a" d="M634 377h2v2h-2z"/>
<path fill="#f9c60a" d="M628 381h2v2h-2z"/>
</g></g>
<path d="M595.0 341.1 h-2.2 q-1.2 0 -1.2 1.6 v9.6 q0 1.6 1.2 1.6 h2.2" fill="#6f9a60" fill-opacity="0.35" stroke="#111" stroke-width="0.9"/>
<path d="M642.4 341.1 h2.2 q1.2 0 1.2 1.6 v9.6 q0 1.6 -1.2 1.6 h-2.2" fill="#6f9a60" fill-opacity="0.35" stroke="#111" stroke-width="0.9"/>
<path d="M613.9 323.9 Q616.5 321.1 618.7 318.9 Q620.9 321.1 623.5 323.9" fill="none" stroke="#111" stroke-width="0.9"/>
<circle cx="618.7" cy="347.3" r="24.0" fill="none" stroke="#111" stroke-width="1"/>
<rect x="664.1" y="48.0" width="6.6" height="62.2" fill="url(#jet)"/>
<rect x="664.5" y="315.1" width="6.6" height="61.7" fill="url(#jet)"/>
<rect x="158.6" y="106.4" width="28.6" height="84.9" fill="none" stroke="#3a3a3a" stroke-width="1"/>
<rect x="502.3" y="107.3" width="28.8" height="85.0" fill="none" stroke="#3a3a3a" stroke-width="1"/>
<rect x="158.6" y="373.8" width="28.7" height="84.9" fill="none" stroke="#3a3a3a" stroke-width="1"/>
<rect x="507.6" y="371.5" width="28.9" height="84.4" fill="none" stroke="#3a3a3a" stroke-width="1"/>
<path d="M46.6 37.0H70.8" stroke="#000" stroke-width="1.45"/>
<path d="M46.6 50.3H70.8" stroke="#cc0a0a" stroke-width="1.45"/>
<path d="M390.6 37.2H414.8" stroke="#000" stroke-width="1.45"/>
<path d="M390.6 50.2H414.8" stroke="#cc0a0a" stroke-width="1.45"/>
<path d="M43.6 310.8H67.6" stroke="#000" stroke-width="1.45"/>
<path d="M43.6 323.9H67.6" stroke="#cc0a0a" stroke-width="1.45"/>
<path d="M391.0 308.1H415.2" stroke="#000" stroke-width="1.45"/>
<path d="M391.0 322.1H415.2" stroke="#cc0a0a" stroke-width="1.45"/>
<path d="M7.8 257.45H682" stroke="#9a9a9a" stroke-width="1.35" stroke-dasharray="5.4 2.85"/>
</svg>
</body></html>
